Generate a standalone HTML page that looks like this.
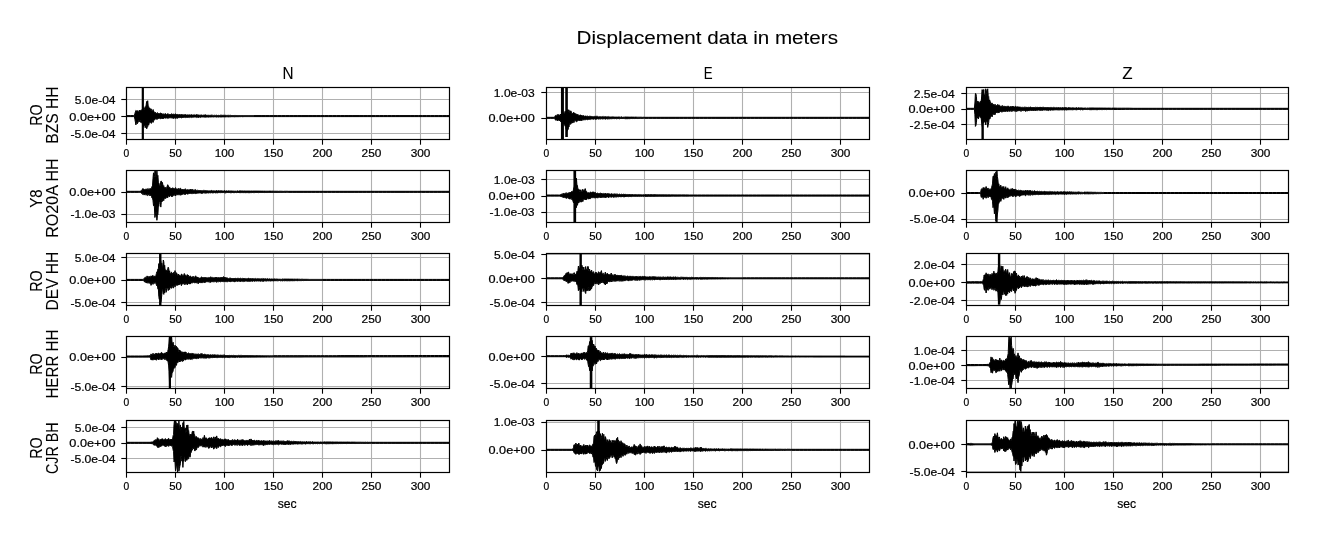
<!DOCTYPE html>
<html><head><meta charset="utf-8"><title>Displacement data in meters</title>
<style>html,body{margin:0;padding:0;background:#fff}svg{display:block}text{font-family:"Liberation Sans",sans-serif}svg{will-change:transform;filter:grayscale(1)}text{stroke:#000}.s{stroke-width:.22px}.b{stroke-width:.08px}</style></head>
<body>
<svg width="1318" height="540" viewBox="0 0 1318 540" font-family="'Liberation Sans', sans-serif" fill="#000">
<rect width="1318" height="540" fill="#fff"/>
<defs>
<clipPath id="c00"><rect x="126.50" y="87.50" width="323.00" height="52.00"/></clipPath>
<clipPath id="c01"><rect x="546.50" y="87.50" width="323.00" height="52.00"/></clipPath>
<clipPath id="c02"><rect x="966.50" y="87.50" width="322.00" height="52.00"/></clipPath>
<clipPath id="c10"><rect x="126.50" y="170.50" width="323.00" height="52.00"/></clipPath>
<clipPath id="c11"><rect x="546.50" y="170.50" width="323.00" height="52.00"/></clipPath>
<clipPath id="c12"><rect x="966.50" y="170.50" width="322.00" height="52.00"/></clipPath>
<clipPath id="c20"><rect x="126.50" y="253.50" width="323.00" height="52.00"/></clipPath>
<clipPath id="c21"><rect x="546.50" y="253.50" width="323.00" height="52.00"/></clipPath>
<clipPath id="c22"><rect x="966.50" y="253.50" width="322.00" height="52.00"/></clipPath>
<clipPath id="c30"><rect x="126.50" y="336.50" width="323.00" height="52.00"/></clipPath>
<clipPath id="c31"><rect x="546.50" y="336.50" width="323.00" height="52.00"/></clipPath>
<clipPath id="c32"><rect x="966.50" y="336.50" width="322.00" height="52.00"/></clipPath>
<clipPath id="c40"><rect x="126.50" y="420.50" width="323.00" height="52.00"/></clipPath>
<clipPath id="c41"><rect x="546.50" y="420.50" width="323.00" height="52.00"/></clipPath>
<clipPath id="c42"><rect x="966.50" y="420.50" width="322.00" height="52.00"/></clipPath>
</defs>
<text class="b" x="576.63" y="43.80" font-size="18.60" textLength="261.34" lengthAdjust="spacingAndGlyphs">Displacement data in meters</text>
<text class="b" x="282.51" y="78.90" font-size="17.17" textLength="11.05" lengthAdjust="spacingAndGlyphs">N</text>
<text class="b" x="703.64" y="78.90" font-size="17.17" textLength="8.85" lengthAdjust="spacingAndGlyphs">E</text>
<text class="b" x="1122.33" y="78.90" font-size="17.17" textLength="10.35" lengthAdjust="spacingAndGlyphs">Z</text>
<line x1="175.50" y1="87.50" x2="175.50" y2="139.50" stroke="#b0b0b0" stroke-width="1.1"/><line x1="224.50" y1="87.50" x2="224.50" y2="139.50" stroke="#b0b0b0" stroke-width="1.1"/><line x1="273.50" y1="87.50" x2="273.50" y2="139.50" stroke="#b0b0b0" stroke-width="1.1"/><line x1="322.50" y1="87.50" x2="322.50" y2="139.50" stroke="#b0b0b0" stroke-width="1.1"/><line x1="371.50" y1="87.50" x2="371.50" y2="139.50" stroke="#b0b0b0" stroke-width="1.1"/><line x1="420.50" y1="87.50" x2="420.50" y2="139.50" stroke="#b0b0b0" stroke-width="1.1"/><line x1="126.50" y1="99.50" x2="449.50" y2="99.50" stroke="#b0b0b0" stroke-width="1.1"/><line x1="126.50" y1="116.50" x2="449.50" y2="116.50" stroke="#b0b0b0" stroke-width="1.1"/><line x1="126.50" y1="133.50" x2="449.50" y2="133.50" stroke="#b0b0b0" stroke-width="1.1"/><g clip-path="url(#c00)"><path d="M126.5 115.6 130.4 115.6 133.5 115.6 134.0 115.6 134.4 115.6 134.9 113.5 135.4 111.9 135.9 110.4 136.4 110.8 136.9 112.0 137.4 110.6 137.9 112.1 138.4 112.0 138.9 111.2 139.3 110.1 139.8 111.6 140.3 110.7 140.8 110.1 141.3 109.9 141.8 110.2 142.3 110.6 142.8 110.1 143.3 107.6 143.8 109.8 144.2 109.5 144.7 108.1 145.2 106.7 145.7 107.7 146.2 104.6 146.7 101.4 147.2 104.7 147.7 100.7 148.2 106.1 148.7 106.6 149.1 110.0 149.6 107.8 150.1 108.5 150.6 110.6 151.1 108.8 151.6 110.6 152.1 111.0 152.6 111.2 153.1 109.5 153.6 112.1 154.0 111.6 154.5 112.9 155.0 113.1 155.5 112.3 156.0 113.5 156.5 113.5 157.0 112.8 157.5 112.7 158.0 113.7 158.5 113.9 158.9 113.2 159.4 113.9 159.9 114.0 160.4 112.9 160.9 113.1 161.4 113.6 161.9 113.4 162.4 114.2 162.9 114.1 163.4 114.2 163.8 113.7 164.3 114.2 164.8 114.3 165.3 113.6 165.8 113.8 166.3 114.4 166.8 114.5 167.3 114.1 167.8 113.7 168.3 113.8 168.8 114.4 169.2 114.4 169.7 114.5 170.2 114.0 170.7 114.5 171.2 114.6 171.7 113.6 172.2 114.0 172.7 114.6 173.2 114.5 173.7 113.8 174.1 114.5 174.6 114.5 175.1 114.2 175.6 113.8 176.1 114.6 176.6 114.6 177.1 114.2 177.6 114.6 178.1 114.7 178.6 114.7 179.0 114.6 179.5 114.5 180.0 114.7 180.5 114.7 181.0 114.8 181.5 114.6 182.0 114.2 182.5 114.9 183.0 114.8 183.5 114.9 183.9 114.5 184.4 114.7 184.9 115.0 185.4 114.5 185.9 114.7 186.4 115.0 186.9 115.0 187.4 114.9 187.9 114.8 188.4 114.9 188.8 115.0 189.3 114.7 189.8 115.1 190.3 115.1 190.8 115.0 191.3 114.5 191.8 115.0 192.3 115.1 192.8 115.0 193.3 115.0 193.7 115.0 194.2 114.6 194.7 115.1 195.2 115.1 195.7 115.1 196.2 114.6 196.7 114.7 197.2 115.2 197.7 114.6 198.2 114.9 198.7 115.1 199.1 115.1 199.6 115.2 200.1 115.2 200.6 115.1 201.1 114.8 201.6 115.1 202.1 115.2 202.6 115.3 203.1 114.9 203.6 115.2 204.0 115.1 204.5 115.1 205.0 114.8 205.5 114.8 206.0 115.1 206.5 115.3 207.0 115.1 207.5 115.3 208.0 115.4 208.5 115.3 208.9 115.1 209.4 115.4 209.9 114.9 210.4 115.4 210.9 115.1 211.4 115.0 211.9 115.4 212.4 115.2 212.9 115.4 213.4 115.4 213.8 115.4 214.3 115.2 214.8 115.4 215.3 115.4 215.8 115.4 216.3 115.1 216.8 115.4 217.3 115.5 217.8 115.5 218.3 115.5 218.7 115.1 219.2 115.4 219.7 115.5 220.2 115.2 220.7 115.2 221.2 115.2 221.7 115.2 222.2 115.3 222.7 115.3 223.2 115.2 223.6 115.3 224.1 115.3 224.6 115.3 225.1 115.3 225.6 115.3 226.1 115.4 226.6 115.4 227.1 115.3 227.6 115.4 228.1 115.4 228.5 115.3 229.0 115.4 229.5 115.4 230.0 115.4 230.5 115.3 231.0 115.4 231.5 115.5 232.0 115.4 232.5 115.5 233.0 115.4 233.5 115.5 233.9 115.5 234.4 115.5 234.9 115.4 235.4 115.5 235.9 115.4 236.4 115.5 236.9 115.5 237.4 115.6 237.9 115.5 238.4 115.6 238.8 115.5 239.3 115.5 239.8 115.6 240.3 115.6 240.8 115.6 241.3 115.6 241.8 115.5 242.3 115.5 242.8 115.6 243.3 115.6 243.7 115.6 244.2 115.6 244.7 115.6 245.2 115.6 245.7 115.6 246.2 115.6 246.7 115.6 247.2 115.6 247.7 115.6 248.2 115.6 248.6 115.6 249.1 115.6 249.6 115.6 250.1 115.6 250.6 115.6 251.1 115.6 251.6 115.6 252.1 115.6 252.6 115.6 253.1 115.6 253.5 115.6 254.0 115.6 258.0 115.6 261.9 115.6 265.8 115.6 269.7 115.6 273.6 115.6 277.6 115.6 281.5 115.6 285.4 115.6 289.3 115.6 293.2 115.6 297.2 115.6 301.1 115.6 305.0 115.6 308.9 115.6 312.9 115.6 316.8 115.6 320.7 115.6 324.6 115.6 328.5 115.6 332.5 115.6 336.4 115.6 340.3 115.6 344.2 115.6 348.1 115.6 352.1 115.6 356.0 115.6 359.9 115.6 363.8 115.6 367.8 115.6 371.7 115.6 375.6 115.6 379.5 115.6 383.4 115.6 387.4 115.6 391.3 115.6 395.2 115.6 399.1 115.6 403.0 115.6 407.0 115.6 410.9 115.6 414.8 115.6 418.7 115.6 422.6 115.6 426.6 115.6 430.5 115.6 434.4 115.6 438.3 115.6 442.3 115.6 446.2 115.6 449.7 115.6 449.7 116.6 446.2 116.6 442.3 116.6 438.3 116.6 434.4 116.6 430.5 116.6 426.6 116.6 422.6 116.6 418.7 116.6 414.8 116.6 410.9 116.6 407.0 116.6 403.0 116.6 399.1 116.6 395.2 116.6 391.3 116.6 387.4 116.6 383.4 116.6 379.5 116.6 375.6 116.6 371.7 116.6 367.8 116.6 363.8 116.6 359.9 116.6 356.0 116.6 352.1 116.6 348.1 116.6 344.2 116.6 340.3 116.6 336.4 116.6 332.5 116.6 328.5 116.6 324.6 116.6 320.7 116.6 316.8 116.6 312.9 116.6 308.9 116.6 305.0 116.6 301.1 116.6 297.2 116.6 293.2 116.6 289.3 116.6 285.4 116.6 281.5 116.6 277.6 116.6 273.6 116.6 269.7 116.6 265.8 116.6 261.9 116.6 258.0 116.6 254.0 116.6 253.5 116.6 253.1 116.6 252.6 116.6 252.1 116.6 251.6 116.6 251.1 116.6 250.6 116.6 250.1 116.6 249.6 116.6 249.1 116.6 248.6 116.6 248.2 116.6 247.7 116.6 247.2 116.6 246.7 116.6 246.2 116.6 245.7 116.6 245.2 116.6 244.7 116.6 244.2 116.6 243.7 116.6 243.3 116.7 242.8 116.7 242.3 116.7 241.8 116.6 241.3 116.6 240.8 116.6 240.3 116.7 239.8 116.6 239.3 116.7 238.8 116.7 238.4 116.7 237.9 116.7 237.4 116.7 236.9 116.7 236.4 116.7 235.9 116.8 235.4 116.7 234.9 116.8 234.4 116.8 233.9 116.8 233.5 116.7 233.0 116.7 232.5 116.7 232.0 116.7 231.5 116.7 231.0 116.8 230.5 116.8 230.0 116.8 229.5 116.8 229.0 116.8 228.5 116.9 228.1 116.9 227.6 116.8 227.1 116.8 226.6 116.8 226.1 116.8 225.6 116.9 225.1 116.9 224.6 116.9 224.1 116.9 223.6 116.9 223.2 116.9 222.7 116.9 222.2 116.9 221.7 117.0 221.2 117.0 220.7 117.0 220.2 117.0 219.7 116.9 219.2 116.8 218.7 116.7 218.3 117.3 217.8 116.9 217.3 116.8 216.8 116.8 216.3 117.2 215.8 116.8 215.3 116.9 214.8 116.8 214.3 116.9 213.8 117.2 213.4 116.8 212.9 116.8 212.4 116.9 211.9 117.1 211.4 116.9 210.9 117.0 210.4 117.0 209.9 116.9 209.4 117.0 208.9 117.0 208.5 117.2 208.0 116.9 207.5 117.0 207.0 116.9 206.5 117.0 206.0 117.4 205.5 117.1 205.0 117.5 204.5 117.1 204.0 117.0 203.6 117.0 203.1 117.1 202.6 117.0 202.1 117.0 201.6 117.0 201.1 117.1 200.6 117.5 200.1 117.1 199.6 117.1 199.1 117.1 198.7 117.0 198.2 117.8 197.7 117.1 197.2 117.1 196.7 117.2 196.2 117.5 195.7 117.1 195.2 117.1 194.7 117.1 194.2 117.1 193.7 117.3 193.3 117.1 192.8 117.2 192.3 117.2 191.8 117.2 191.3 117.6 190.8 117.2 190.3 117.2 189.8 117.6 189.3 117.2 188.8 117.2 188.4 117.2 187.9 117.8 187.4 117.2 186.9 117.2 186.4 117.4 185.9 117.2 185.4 117.7 184.9 117.5 184.4 117.3 183.9 117.4 183.5 117.4 183.0 117.7 182.5 117.5 182.0 117.4 181.5 118.0 181.0 118.1 180.5 117.5 180.0 117.6 179.5 117.6 179.0 117.9 178.6 117.5 178.1 117.9 177.6 118.4 177.1 117.7 176.6 118.0 176.1 117.7 175.6 118.5 175.1 117.8 174.6 118.0 174.1 117.8 173.7 118.3 173.2 118.5 172.7 117.8 172.2 118.2 171.7 118.0 171.2 117.8 170.7 117.8 170.2 117.8 169.7 117.9 169.2 117.7 168.8 117.8 168.3 118.2 167.8 118.5 167.3 117.9 166.8 117.8 166.3 118.1 165.8 118.3 165.3 118.0 164.8 117.9 164.3 117.9 163.8 118.0 163.4 118.7 162.9 118.1 162.4 119.0 161.9 118.5 161.4 118.1 160.9 118.9 160.4 118.8 159.9 118.3 159.4 118.3 158.9 118.3 158.5 118.4 158.0 119.0 157.5 118.5 157.0 119.6 156.5 118.7 156.0 119.0 155.5 118.8 155.0 119.0 154.5 120.0 154.0 120.5 153.6 120.6 153.1 122.4 152.6 121.0 152.1 121.4 151.6 123.1 151.1 123.4 150.6 122.0 150.1 122.1 149.6 122.3 149.1 123.7 148.7 125.2 148.2 123.5 147.7 126.7 147.2 127.4 146.7 128.8 146.2 125.2 145.7 125.7 145.2 127.8 144.7 125.3 144.2 125.6 143.8 125.8 143.3 126.9 142.8 125.5 142.3 123.0 141.8 121.7 141.3 122.6 140.8 122.5 140.3 120.5 139.8 120.0 139.3 121.8 138.9 120.6 138.4 121.0 137.9 122.8 137.4 123.7 136.9 122.1 136.4 122.8 135.9 124.9 135.4 122.0 134.9 119.3 134.4 116.6 134.0 116.6 133.5 116.6 130.4 116.6 126.5 116.6Z" fill="#000" stroke="#000" stroke-width="1" stroke-linejoin="round"/><rect x="141.72" y="87.50" width="2.20" height="52.00" fill="#000"/></g><line x1="126.50" y1="139.50" x2="126.50" y2="144.70" stroke="#000" stroke-width="1.1"/><text class="s" x="123.62" y="156.80" font-size="11.28" textLength="5.71" lengthAdjust="spacingAndGlyphs">0</text><line x1="175.50" y1="139.50" x2="175.50" y2="144.70" stroke="#000" stroke-width="1.1"/><text class="s" x="169.20" y="156.80" font-size="11.28" textLength="12.65" lengthAdjust="spacingAndGlyphs">50</text><line x1="224.50" y1="139.50" x2="224.50" y2="144.70" stroke="#000" stroke-width="1.1"/><text class="s" x="214.67" y="156.80" font-size="11.28" textLength="19.74" lengthAdjust="spacingAndGlyphs">100</text><line x1="273.50" y1="139.50" x2="273.50" y2="144.70" stroke="#000" stroke-width="1.1"/><text class="s" x="263.67" y="156.80" font-size="11.28" textLength="19.74" lengthAdjust="spacingAndGlyphs">150</text><line x1="322.50" y1="139.50" x2="322.50" y2="144.70" stroke="#000" stroke-width="1.1"/><text class="s" x="312.58" y="156.80" font-size="11.28" textLength="19.83" lengthAdjust="spacingAndGlyphs">200</text><line x1="371.50" y1="139.50" x2="371.50" y2="144.70" stroke="#000" stroke-width="1.1"/><text class="s" x="361.58" y="156.80" font-size="11.28" textLength="19.83" lengthAdjust="spacingAndGlyphs">250</text><line x1="420.50" y1="139.50" x2="420.50" y2="144.70" stroke="#000" stroke-width="1.1"/><text class="s" x="410.70" y="156.80" font-size="11.28" textLength="19.71" lengthAdjust="spacingAndGlyphs">300</text><line x1="121.30" y1="99.50" x2="126.50" y2="99.50" stroke="#000" stroke-width="1.1"/><text class="s" x="74.70" y="103.55" font-size="11.28" textLength="40.89" lengthAdjust="spacingAndGlyphs">5.0e-04</text><line x1="121.30" y1="116.50" x2="126.50" y2="116.50" stroke="#000" stroke-width="1.1"/><text class="s" x="69.34" y="120.55" font-size="11.28" textLength="46.21" lengthAdjust="spacingAndGlyphs">0.0e+00</text><line x1="121.30" y1="133.50" x2="126.50" y2="133.50" stroke="#000" stroke-width="1.1"/><text class="s" x="70.41" y="137.55" font-size="11.28" textLength="45.15" lengthAdjust="spacingAndGlyphs">-5.0e-04</text><rect x="126.50" y="87.50" width="323.00" height="52.00" fill="none" stroke="#000" stroke-width="1.2"/>
<line x1="595.50" y1="87.50" x2="595.50" y2="139.50" stroke="#b0b0b0" stroke-width="1.1"/><line x1="644.50" y1="87.50" x2="644.50" y2="139.50" stroke="#b0b0b0" stroke-width="1.1"/><line x1="693.50" y1="87.50" x2="693.50" y2="139.50" stroke="#b0b0b0" stroke-width="1.1"/><line x1="742.50" y1="87.50" x2="742.50" y2="139.50" stroke="#b0b0b0" stroke-width="1.1"/><line x1="791.50" y1="87.50" x2="791.50" y2="139.50" stroke="#b0b0b0" stroke-width="1.1"/><line x1="840.50" y1="87.50" x2="840.50" y2="139.50" stroke="#b0b0b0" stroke-width="1.1"/><line x1="546.50" y1="92.50" x2="869.50" y2="92.50" stroke="#b0b0b0" stroke-width="1.1"/><line x1="546.50" y1="118.50" x2="869.50" y2="118.50" stroke="#b0b0b0" stroke-width="1.1"/><g clip-path="url(#c01)"><path d="M546.5 117.3 550.4 117.3 553.9 117.3 554.3 117.3 554.8 117.0 555.3 115.6 555.8 115.5 556.3 115.8 556.8 115.7 557.3 114.5 557.8 115.5 558.3 114.5 558.8 115.8 559.2 114.7 559.7 115.5 560.2 115.3 560.7 114.0 561.2 114.8 561.7 114.5 562.2 112.3 562.7 111.9 563.2 113.6 563.7 113.6 564.1 113.2 564.6 113.2 565.1 111.2 565.6 112.5 566.1 112.1 566.6 112.3 567.1 109.5 567.6 111.8 568.1 111.7 568.6 109.9 569.0 109.8 569.5 112.2 570.0 112.3 570.5 111.1 571.0 110.8 571.5 113.2 572.0 113.2 572.5 113.5 573.0 112.7 573.5 112.5 573.9 112.5 574.4 113.3 574.9 113.0 575.4 114.7 575.9 113.7 576.4 114.9 576.9 114.2 577.4 114.8 577.9 114.3 578.4 115.4 578.8 115.3 579.3 115.5 579.8 115.0 580.3 115.1 580.8 115.1 581.3 115.5 581.8 115.0 582.3 115.9 582.8 116.1 583.3 115.5 583.8 115.8 584.2 116.3 584.7 116.2 585.2 116.1 585.7 116.1 586.2 116.3 586.7 116.3 587.2 116.2 587.7 115.9 588.2 116.5 588.7 116.5 589.1 116.2 589.6 116.3 590.1 116.6 590.6 116.1 591.1 116.1 591.6 116.7 592.1 116.7 592.6 116.2 593.1 116.7 593.6 116.7 594.0 116.7 594.5 116.3 595.0 116.8 595.5 116.3 596.0 116.4 596.5 116.3 597.0 116.6 597.5 116.2 598.0 116.8 598.5 116.9 598.9 116.9 599.4 116.8 599.9 116.6 600.4 116.9 600.9 116.4 601.4 116.9 601.9 116.9 602.4 116.5 602.9 116.9 603.4 116.9 603.8 116.4 604.3 116.8 604.8 116.9 605.3 116.4 605.8 116.9 606.3 116.9 606.8 116.8 607.3 116.7 607.8 116.9 608.3 116.9 608.7 116.5 609.2 116.9 609.7 116.9 610.2 116.9 610.7 117.0 611.2 116.8 611.7 117.1 612.2 116.7 612.7 117.0 613.2 116.9 613.7 116.9 614.1 117.1 614.6 117.0 615.1 116.9 615.6 117.1 616.1 116.9 616.6 117.1 617.1 117.1 617.6 117.1 618.1 116.7 618.6 117.1 619.0 117.1 619.5 117.0 620.0 117.2 620.5 117.2 621.0 117.2 621.5 116.9 622.0 116.8 622.5 117.3 623.0 117.2 623.5 117.3 623.9 116.8 624.4 117.2 624.9 117.2 625.4 117.0 625.9 116.9 626.4 117.0 626.9 117.0 627.4 117.0 627.9 117.1 628.4 117.1 628.8 117.0 629.3 117.1 629.8 117.1 630.3 117.1 630.8 117.1 631.3 117.0 631.8 117.1 632.3 117.1 632.8 117.1 633.3 117.1 633.7 117.1 634.2 117.1 634.7 117.2 635.2 117.1 635.7 117.1 636.2 117.2 636.7 117.1 637.2 117.2 637.7 117.2 638.2 117.2 638.6 117.2 639.1 117.2 639.6 117.2 640.1 117.2 640.6 117.2 641.1 117.3 641.6 117.2 642.1 117.3 642.6 117.3 643.1 117.3 643.5 117.2 644.0 117.3 644.5 117.3 648.5 117.3 652.4 117.3 656.3 117.3 660.2 117.3 664.1 117.3 668.1 117.3 672.0 117.3 675.9 117.3 679.8 117.3 683.7 117.3 687.7 117.3 691.6 117.3 695.5 117.3 699.4 117.3 703.3 117.3 707.3 117.3 711.2 117.3 715.1 117.3 719.0 117.3 723.0 117.3 726.9 117.3 730.8 117.3 734.7 117.3 738.6 117.3 742.6 117.3 746.5 117.3 750.4 117.3 754.3 117.3 758.2 117.3 762.2 117.3 766.1 117.3 770.0 117.3 773.9 117.3 777.9 117.3 781.8 117.3 785.7 117.3 789.6 117.3 793.5 117.3 797.5 117.3 801.4 117.3 805.3 117.3 809.2 117.3 813.1 117.3 817.1 117.3 821.0 117.3 824.9 117.3 828.8 117.3 832.7 117.3 836.7 117.3 840.6 117.3 844.5 117.3 848.4 117.3 852.4 117.3 856.3 117.3 860.2 117.3 864.1 117.3 868.0 117.3 869.7 117.3 869.7 118.3 868.0 118.3 864.1 118.3 860.2 118.3 856.3 118.3 852.4 118.3 848.4 118.3 844.5 118.3 840.6 118.3 836.7 118.3 832.7 118.3 828.8 118.3 824.9 118.3 821.0 118.3 817.1 118.3 813.1 118.3 809.2 118.3 805.3 118.3 801.4 118.3 797.5 118.3 793.5 118.3 789.6 118.3 785.7 118.3 781.8 118.3 777.9 118.3 773.9 118.3 770.0 118.3 766.1 118.3 762.2 118.3 758.2 118.3 754.3 118.3 750.4 118.3 746.5 118.3 742.6 118.3 738.6 118.3 734.7 118.3 730.8 118.3 726.9 118.3 723.0 118.3 719.0 118.3 715.1 118.3 711.2 118.3 707.3 118.3 703.3 118.3 699.4 118.3 695.5 118.3 691.6 118.3 687.7 118.3 683.7 118.3 679.8 118.3 675.9 118.3 672.0 118.3 668.1 118.3 664.1 118.3 660.2 118.3 656.3 118.3 652.4 118.3 648.5 118.3 644.5 118.3 644.0 118.3 643.5 118.3 643.1 118.3 642.6 118.4 642.1 118.4 641.6 118.4 641.1 118.4 640.6 118.3 640.1 118.4 639.6 118.4 639.1 118.4 638.6 118.5 638.2 118.4 637.7 118.5 637.2 118.5 636.7 118.4 636.2 118.5 635.7 118.5 635.2 118.5 634.7 118.5 634.2 118.6 633.7 118.5 633.3 118.5 632.8 118.6 632.3 118.5 631.8 118.5 631.3 118.5 630.8 118.6 630.3 118.5 629.8 118.6 629.3 118.7 628.8 118.7 628.4 118.6 627.9 118.7 627.4 118.7 626.9 118.7 626.4 118.7 625.9 118.7 625.4 118.7 624.9 118.4 624.4 118.6 623.9 118.5 623.5 118.4 623.0 118.7 622.5 118.5 622.0 118.5 621.5 118.5 621.0 118.5 620.5 118.5 620.0 118.5 619.5 118.8 619.0 118.5 618.6 118.5 618.1 118.7 617.6 118.6 617.1 118.6 616.6 118.8 616.1 118.6 615.6 118.5 615.1 118.6 614.6 118.6 614.1 118.8 613.7 118.6 613.2 118.6 612.7 118.6 612.2 118.7 611.7 118.8 611.2 118.6 610.7 118.6 610.2 118.7 609.7 119.2 609.2 118.6 608.7 118.7 608.3 118.6 607.8 119.3 607.3 118.7 606.8 118.7 606.3 118.7 605.8 119.0 605.3 119.2 604.8 118.8 604.3 118.8 603.8 119.0 603.4 118.7 602.9 118.8 602.4 119.0 601.9 118.8 601.4 118.7 600.9 118.7 600.4 119.1 599.9 118.7 599.4 118.8 598.9 119.3 598.5 118.9 598.0 118.8 597.5 118.7 597.0 118.9 596.5 119.2 596.0 118.8 595.5 119.4 595.0 119.1 594.5 118.8 594.0 119.0 593.6 119.3 593.1 119.1 592.6 118.9 592.1 119.2 591.6 119.0 591.1 119.0 590.6 119.0 590.1 119.7 589.6 119.3 589.1 119.2 588.7 119.2 588.2 119.7 587.7 120.0 587.2 119.3 586.7 119.3 586.2 119.6 585.7 120.0 585.2 119.4 584.7 119.6 584.2 119.6 583.8 120.2 583.3 119.7 582.8 119.6 582.3 120.2 581.8 120.8 581.3 119.9 580.8 120.7 580.3 120.0 579.8 120.2 579.3 120.9 578.8 120.3 578.4 120.3 577.9 120.5 577.4 121.2 576.9 121.6 576.4 121.8 575.9 120.7 575.4 120.8 574.9 120.8 574.4 121.1 573.9 122.7 573.5 121.3 573.0 121.5 572.5 123.1 572.0 122.0 571.5 122.0 571.0 124.1 570.5 124.3 570.0 123.3 569.5 123.5 569.0 126.9 568.6 126.0 568.1 129.5 567.6 127.6 567.1 131.2 566.6 126.2 566.1 129.3 565.6 124.2 565.1 126.2 564.6 124.0 564.1 124.2 563.7 124.0 563.2 123.7 562.7 123.5 562.2 124.7 561.7 122.7 561.2 120.7 560.7 121.7 560.2 120.7 559.7 119.9 559.2 120.9 558.8 120.0 558.3 119.9 557.8 120.0 557.3 120.9 556.8 120.0 556.3 119.7 555.8 120.2 555.3 119.9 554.8 118.7 554.3 118.3 553.9 118.3 550.4 118.3 546.5 118.3Z" fill="#000" stroke="#000" stroke-width="1" stroke-linejoin="round"/><rect x="560.93" y="87.50" width="3.00" height="52.00" fill="#000"/><rect x="565.25" y="87.50" width="2.60" height="49.50" fill="#000"/></g><line x1="546.50" y1="139.50" x2="546.50" y2="144.70" stroke="#000" stroke-width="1.1"/><text class="s" x="543.62" y="156.80" font-size="11.28" textLength="5.71" lengthAdjust="spacingAndGlyphs">0</text><line x1="595.50" y1="139.50" x2="595.50" y2="144.70" stroke="#000" stroke-width="1.1"/><text class="s" x="589.20" y="156.80" font-size="11.28" textLength="12.65" lengthAdjust="spacingAndGlyphs">50</text><line x1="644.50" y1="139.50" x2="644.50" y2="144.70" stroke="#000" stroke-width="1.1"/><text class="s" x="634.67" y="156.80" font-size="11.28" textLength="19.74" lengthAdjust="spacingAndGlyphs">100</text><line x1="693.50" y1="139.50" x2="693.50" y2="144.70" stroke="#000" stroke-width="1.1"/><text class="s" x="683.67" y="156.80" font-size="11.28" textLength="19.74" lengthAdjust="spacingAndGlyphs">150</text><line x1="742.50" y1="139.50" x2="742.50" y2="144.70" stroke="#000" stroke-width="1.1"/><text class="s" x="732.58" y="156.80" font-size="11.28" textLength="19.83" lengthAdjust="spacingAndGlyphs">200</text><line x1="791.50" y1="139.50" x2="791.50" y2="144.70" stroke="#000" stroke-width="1.1"/><text class="s" x="781.58" y="156.80" font-size="11.28" textLength="19.83" lengthAdjust="spacingAndGlyphs">250</text><line x1="840.50" y1="139.50" x2="840.50" y2="144.70" stroke="#000" stroke-width="1.1"/><text class="s" x="830.70" y="156.80" font-size="11.28" textLength="19.71" lengthAdjust="spacingAndGlyphs">300</text><line x1="541.30" y1="92.50" x2="546.50" y2="92.50" stroke="#000" stroke-width="1.1"/><text class="s" x="493.87" y="96.55" font-size="11.28" textLength="40.77" lengthAdjust="spacingAndGlyphs">1.0e-03</text><line x1="541.30" y1="118.50" x2="546.50" y2="118.50" stroke="#000" stroke-width="1.1"/><text class="s" x="488.54" y="121.75" font-size="11.28" textLength="46.21" lengthAdjust="spacingAndGlyphs">0.0e+00</text><rect x="546.50" y="87.50" width="323.00" height="52.00" fill="none" stroke="#000" stroke-width="1.2"/>
<line x1="1015.50" y1="87.50" x2="1015.50" y2="139.50" stroke="#b0b0b0" stroke-width="1.1"/><line x1="1064.50" y1="87.50" x2="1064.50" y2="139.50" stroke="#b0b0b0" stroke-width="1.1"/><line x1="1113.50" y1="87.50" x2="1113.50" y2="139.50" stroke="#b0b0b0" stroke-width="1.1"/><line x1="1162.50" y1="87.50" x2="1162.50" y2="139.50" stroke="#b0b0b0" stroke-width="1.1"/><line x1="1211.50" y1="87.50" x2="1211.50" y2="139.50" stroke="#b0b0b0" stroke-width="1.1"/><line x1="1260.50" y1="87.50" x2="1260.50" y2="139.50" stroke="#b0b0b0" stroke-width="1.1"/><line x1="966.50" y1="93.50" x2="1288.50" y2="93.50" stroke="#b0b0b0" stroke-width="1.1"/><line x1="966.50" y1="109.50" x2="1288.50" y2="109.50" stroke="#b0b0b0" stroke-width="1.1"/><line x1="966.50" y1="124.50" x2="1288.50" y2="124.50" stroke="#b0b0b0" stroke-width="1.1"/><g clip-path="url(#c02)"><path d="M966.5 108.3 970.4 108.3 973.5 108.3 974.0 108.3 974.4 108.3 974.9 103.0 975.4 93.6 975.9 93.6 976.4 96.6 976.9 103.5 977.4 101.2 977.9 102.9 978.4 101.5 978.9 102.3 979.3 103.3 979.8 102.5 980.3 101.3 980.8 102.5 981.3 100.0 981.8 96.1 982.3 91.9 982.8 94.5 983.3 95.0 983.8 89.6 984.2 96.8 984.7 94.6 985.2 96.6 985.7 88.8 986.2 90.0 986.7 93.4 987.2 93.8 987.7 88.8 988.2 95.5 988.7 96.5 989.1 101.8 989.6 99.9 990.1 101.2 990.6 103.3 991.1 103.8 991.6 103.1 992.1 102.9 992.6 104.6 993.1 104.1 993.6 104.5 994.0 105.1 994.5 105.3 995.0 104.2 995.5 105.0 996.0 105.6 996.5 105.7 997.0 105.6 997.5 104.5 998.0 105.2 998.5 105.8 998.9 104.7 999.4 105.6 999.9 105.9 1000.4 106.2 1000.9 106.3 1001.4 106.6 1001.9 105.7 1002.4 105.6 1002.9 106.4 1003.4 106.4 1003.8 106.5 1004.3 105.9 1004.8 106.6 1005.3 106.5 1005.8 106.5 1006.3 106.4 1006.8 106.8 1007.3 106.7 1007.8 105.9 1008.3 106.0 1008.8 106.8 1009.2 106.9 1009.7 106.9 1010.2 106.9 1010.7 106.3 1011.2 106.9 1011.7 106.7 1012.2 106.1 1012.7 107.0 1013.2 106.2 1013.7 106.9 1014.1 107.0 1014.6 107.1 1015.1 106.4 1015.6 106.2 1016.1 107.1 1016.6 107.0 1017.1 107.1 1017.6 106.7 1018.1 106.7 1018.6 107.1 1019.0 107.1 1019.5 107.1 1020.0 107.1 1020.5 107.2 1021.0 107.3 1021.5 107.4 1022.0 107.4 1022.5 107.3 1023.0 107.4 1023.5 107.4 1023.9 107.4 1024.4 107.1 1024.9 107.4 1025.4 107.0 1025.9 107.5 1026.4 107.5 1026.9 107.1 1027.4 107.5 1027.9 107.4 1028.4 107.4 1028.8 106.9 1029.3 107.5 1029.8 107.5 1030.3 107.1 1030.8 107.1 1031.3 107.4 1031.8 107.6 1032.3 107.0 1032.8 107.5 1033.3 107.5 1033.7 107.0 1034.2 107.5 1034.7 107.6 1035.2 107.5 1035.7 107.2 1036.2 107.5 1036.7 107.5 1037.2 106.9 1037.7 107.5 1038.2 107.5 1038.7 107.5 1039.1 107.0 1039.6 107.5 1040.1 106.9 1040.6 107.6 1041.1 107.0 1041.6 107.5 1042.1 107.5 1042.6 106.9 1043.1 107.5 1043.6 107.3 1044.0 107.5 1044.5 107.6 1045.0 107.6 1045.5 107.6 1046.0 107.2 1046.5 107.6 1047.0 107.7 1047.5 107.6 1048.0 107.1 1048.5 107.7 1048.9 107.7 1049.4 107.2 1049.9 107.7 1050.4 107.7 1050.9 107.3 1051.4 107.7 1051.9 107.3 1052.4 107.7 1052.9 107.7 1053.4 107.3 1053.8 107.7 1054.3 107.7 1054.8 107.4 1055.3 107.7 1055.8 107.8 1056.3 107.7 1056.8 107.5 1057.3 107.8 1057.8 107.8 1058.3 107.3 1058.7 107.8 1059.2 107.8 1059.7 107.8 1060.2 107.8 1060.7 107.6 1061.2 107.9 1061.7 107.8 1062.2 107.9 1062.7 107.3 1063.2 107.9 1063.6 107.8 1064.1 107.7 1064.6 107.5 1065.1 107.4 1065.6 107.6 1066.1 107.9 1066.6 107.6 1067.1 107.9 1067.6 108.0 1068.1 107.9 1068.5 107.4 1069.0 108.0 1069.5 107.7 1070.0 107.8 1070.5 107.9 1071.0 107.6 1071.5 108.0 1072.0 107.9 1072.5 107.8 1073.0 107.7 1073.5 107.9 1073.9 107.8 1074.4 108.0 1074.9 108.0 1075.4 108.0 1075.9 108.1 1076.4 107.5 1076.9 108.0 1077.4 108.1 1077.9 108.1 1078.4 108.0 1078.8 107.5 1079.3 108.1 1079.8 108.1 1080.3 108.1 1080.8 107.7 1081.3 107.8 1081.8 108.1 1082.3 108.1 1082.8 107.9 1083.3 108.1 1083.7 108.1 1084.2 108.0 1084.7 108.1 1085.2 108.2 1085.7 107.9 1086.2 108.2 1086.7 108.2 1087.2 108.2 1087.7 107.9 1088.2 107.9 1088.6 108.2 1089.1 108.2 1089.6 107.9 1090.1 108.0 1090.6 107.9 1091.1 107.9 1091.6 107.9 1092.1 107.9 1092.6 107.9 1093.1 108.0 1093.5 107.9 1094.0 107.9 1094.5 108.0 1095.0 108.0 1095.5 108.0 1096.0 108.0 1096.5 108.0 1097.0 108.0 1097.5 108.0 1098.0 108.0 1098.4 108.0 1098.9 108.0 1099.4 108.0 1099.9 107.9 1100.4 108.0 1100.9 108.0 1101.4 108.0 1101.9 108.0 1102.4 108.0 1102.9 108.1 1103.3 108.1 1103.8 108.0 1104.3 108.0 1104.8 108.1 1105.3 108.1 1105.8 108.0 1106.3 108.1 1106.8 108.1 1107.3 108.1 1107.8 108.1 1108.3 108.0 1108.7 108.1 1109.2 108.1 1109.7 108.1 1110.2 108.2 1110.7 108.1 1111.2 108.2 1111.7 108.2 1112.2 108.1 1112.7 108.1 1113.2 108.2 1113.6 108.1 1117.6 108.2 1121.5 108.2 1125.4 108.2 1129.3 108.2 1133.2 108.3 1137.2 108.3 1141.1 108.3 1145.0 108.3 1148.9 108.3 1152.9 108.3 1156.8 108.3 1160.7 108.3 1164.6 108.3 1168.5 108.3 1172.5 108.3 1176.4 108.3 1180.3 108.3 1184.2 108.3 1188.1 108.3 1192.1 108.3 1196.0 108.3 1199.9 108.3 1203.8 108.3 1207.8 108.3 1211.7 108.3 1215.6 108.3 1219.5 108.3 1223.4 108.3 1227.4 108.3 1231.3 108.3 1235.2 108.3 1239.1 108.3 1243.0 108.3 1247.0 108.3 1250.9 108.3 1254.8 108.3 1258.7 108.3 1262.6 108.3 1266.6 108.3 1270.5 108.3 1274.4 108.3 1278.3 108.3 1282.3 108.3 1286.2 108.3 1289.7 108.3 1289.7 109.3 1286.2 109.3 1282.3 109.3 1278.3 109.3 1274.4 109.3 1270.5 109.3 1266.6 109.3 1262.6 109.3 1258.7 109.3 1254.8 109.3 1250.9 109.3 1247.0 109.3 1243.0 109.3 1239.1 109.3 1235.2 109.3 1231.3 109.3 1227.4 109.3 1223.4 109.3 1219.5 109.3 1215.6 109.3 1211.7 109.3 1207.8 109.3 1203.8 109.3 1199.9 109.3 1196.0 109.3 1192.1 109.3 1188.1 109.3 1184.2 109.3 1180.3 109.3 1176.4 109.3 1172.5 109.3 1168.5 109.3 1164.6 109.3 1160.7 109.3 1156.8 109.3 1152.9 109.3 1148.9 109.3 1145.0 109.3 1141.1 109.3 1137.2 109.3 1133.2 109.3 1129.3 109.3 1125.4 109.3 1121.5 109.4 1117.6 109.4 1113.6 109.5 1113.2 109.4 1112.7 109.5 1112.2 109.4 1111.7 109.5 1111.2 109.4 1110.7 109.5 1110.2 109.5 1109.7 109.5 1109.2 109.5 1108.7 109.4 1108.3 109.5 1107.8 109.5 1107.3 109.4 1106.8 109.6 1106.3 109.6 1105.8 109.5 1105.3 109.5 1104.8 109.6 1104.3 109.5 1103.8 109.5 1103.3 109.5 1102.9 109.6 1102.4 109.6 1101.9 109.6 1101.4 109.6 1100.9 109.6 1100.4 109.5 1099.9 109.5 1099.4 109.6 1098.9 109.6 1098.4 109.5 1098.0 109.7 1097.5 109.7 1097.0 109.7 1096.5 109.7 1096.0 109.6 1095.5 109.6 1095.0 109.6 1094.5 109.6 1094.0 109.7 1093.5 109.6 1093.1 109.7 1092.6 109.6 1092.1 109.7 1091.6 109.7 1091.1 109.7 1090.6 109.7 1090.1 109.7 1089.6 109.7 1089.1 109.4 1088.6 109.4 1088.2 109.4 1087.7 109.6 1087.2 109.4 1086.7 109.5 1086.2 109.5 1085.7 109.5 1085.2 109.5 1084.7 109.4 1084.2 109.4 1083.7 109.7 1083.3 109.5 1082.8 109.9 1082.3 109.7 1081.8 109.5 1081.3 109.5 1080.8 109.6 1080.3 109.9 1079.8 109.5 1079.3 109.5 1078.8 109.5 1078.4 110.0 1077.9 109.5 1077.4 109.6 1076.9 109.5 1076.4 109.9 1075.9 109.9 1075.4 109.6 1074.9 109.6 1074.4 109.6 1073.9 109.9 1073.5 109.6 1073.0 109.9 1072.5 109.8 1072.0 109.6 1071.5 109.7 1071.0 109.7 1070.5 109.7 1070.0 109.6 1069.5 109.7 1069.0 109.7 1068.5 109.7 1068.1 109.9 1067.6 109.7 1067.1 109.9 1066.6 110.2 1066.1 109.7 1065.6 109.7 1065.1 109.9 1064.6 110.2 1064.1 109.7 1063.6 109.7 1063.2 110.1 1062.7 109.9 1062.2 109.7 1061.7 110.2 1061.2 109.7 1060.7 109.8 1060.2 109.8 1059.7 110.0 1059.2 109.8 1058.7 109.8 1058.3 110.1 1057.8 109.8 1057.3 110.0 1056.8 109.9 1056.3 109.8 1055.8 109.9 1055.3 109.8 1054.8 110.0 1054.3 109.8 1053.8 109.9 1053.4 110.1 1052.9 110.2 1052.4 110.0 1051.9 110.0 1051.4 109.9 1050.9 110.3 1050.4 110.3 1049.9 110.0 1049.4 110.0 1048.9 110.0 1048.5 110.6 1048.0 110.2 1047.5 110.0 1047.0 110.6 1046.5 110.1 1046.0 110.0 1045.5 110.0 1045.0 110.1 1044.5 110.1 1044.0 110.0 1043.6 110.0 1043.1 110.0 1042.6 110.5 1042.1 110.1 1041.6 110.0 1041.1 110.6 1040.6 110.0 1040.1 110.6 1039.6 110.1 1039.1 110.4 1038.7 110.1 1038.2 110.1 1037.7 110.2 1037.2 110.5 1036.7 110.2 1036.2 110.2 1035.7 110.9 1035.2 110.2 1034.7 110.2 1034.2 110.4 1033.7 110.9 1033.3 110.2 1032.8 110.4 1032.3 110.3 1031.8 110.9 1031.3 110.3 1030.8 110.4 1030.3 110.3 1029.8 110.6 1029.3 110.5 1028.8 110.4 1028.4 111.0 1027.9 110.4 1027.4 111.2 1026.9 110.5 1026.4 110.5 1025.9 111.5 1025.4 111.2 1024.9 110.5 1024.4 110.4 1023.9 110.5 1023.5 111.1 1023.0 110.5 1022.5 110.5 1022.0 110.6 1021.5 110.6 1021.0 111.5 1020.5 110.6 1020.0 110.7 1019.5 110.6 1019.0 110.9 1018.6 110.7 1018.1 110.7 1017.6 110.9 1017.1 110.9 1016.6 111.5 1016.1 110.6 1015.6 111.4 1015.1 110.6 1014.6 111.3 1014.1 110.6 1013.7 110.7 1013.2 110.8 1012.7 111.2 1012.2 110.8 1011.7 110.8 1011.2 111.6 1010.7 110.8 1010.2 110.8 1009.7 111.4 1009.2 111.0 1008.8 110.8 1008.3 110.9 1007.8 111.7 1007.3 111.0 1006.8 111.0 1006.3 111.0 1005.8 111.7 1005.3 111.2 1004.8 111.3 1004.3 111.8 1003.8 111.3 1003.4 111.5 1002.9 111.5 1002.4 111.6 1001.9 112.3 1001.4 111.4 1000.9 111.5 1000.4 111.5 999.9 112.1 999.4 111.8 998.9 113.0 998.5 112.4 998.0 112.2 997.5 113.1 997.0 112.6 996.5 112.5 996.0 112.9 995.5 113.1 995.0 114.9 994.5 114.4 994.0 113.6 993.6 114.5 993.1 114.2 992.6 114.3 992.1 116.9 991.6 114.9 991.1 116.3 990.6 115.3 990.1 118.8 989.6 119.1 989.1 117.8 988.7 122.7 988.2 124.9 987.7 127.4 987.2 122.5 986.7 121.5 986.2 120.8 985.7 124.9 985.2 120.0 984.7 121.9 984.2 118.8 983.8 123.2 983.3 120.4 982.8 122.4 982.3 126.5 981.8 123.0 981.3 119.4 980.8 115.9 980.3 117.6 979.8 116.4 979.3 116.0 978.9 116.5 978.4 119.0 977.9 116.5 977.4 118.1 976.9 116.7 976.4 122.7 975.9 125.5 975.4 126.4 974.9 114.8 974.4 109.3 974.0 109.3 973.5 109.3 970.4 109.3 966.5 109.3Z" fill="#000" stroke="#000" stroke-width="1" stroke-linejoin="round"/><rect x="981.43" y="89.50" width="2.40" height="50.00" fill="#000"/></g><line x1="966.50" y1="139.50" x2="966.50" y2="144.70" stroke="#000" stroke-width="1.1"/><text class="s" x="963.62" y="156.80" font-size="11.28" textLength="5.71" lengthAdjust="spacingAndGlyphs">0</text><line x1="1015.50" y1="139.50" x2="1015.50" y2="144.70" stroke="#000" stroke-width="1.1"/><text class="s" x="1009.20" y="156.80" font-size="11.28" textLength="12.65" lengthAdjust="spacingAndGlyphs">50</text><line x1="1064.50" y1="139.50" x2="1064.50" y2="144.70" stroke="#000" stroke-width="1.1"/><text class="s" x="1054.67" y="156.80" font-size="11.28" textLength="19.74" lengthAdjust="spacingAndGlyphs">100</text><line x1="1113.50" y1="139.50" x2="1113.50" y2="144.70" stroke="#000" stroke-width="1.1"/><text class="s" x="1103.67" y="156.80" font-size="11.28" textLength="19.74" lengthAdjust="spacingAndGlyphs">150</text><line x1="1162.50" y1="139.50" x2="1162.50" y2="144.70" stroke="#000" stroke-width="1.1"/><text class="s" x="1152.58" y="156.80" font-size="11.28" textLength="19.83" lengthAdjust="spacingAndGlyphs">200</text><line x1="1211.50" y1="139.50" x2="1211.50" y2="144.70" stroke="#000" stroke-width="1.1"/><text class="s" x="1201.58" y="156.80" font-size="11.28" textLength="19.83" lengthAdjust="spacingAndGlyphs">250</text><line x1="1260.50" y1="139.50" x2="1260.50" y2="144.70" stroke="#000" stroke-width="1.1"/><text class="s" x="1250.70" y="156.80" font-size="11.28" textLength="19.71" lengthAdjust="spacingAndGlyphs">300</text><line x1="961.30" y1="93.50" x2="966.50" y2="93.50" stroke="#000" stroke-width="1.1"/><text class="s" x="913.78" y="97.55" font-size="11.28" textLength="41.01" lengthAdjust="spacingAndGlyphs">2.5e-04</text><line x1="961.30" y1="109.50" x2="966.50" y2="109.50" stroke="#000" stroke-width="1.1"/><text class="s" x="908.54" y="112.75" font-size="11.28" textLength="46.21" lengthAdjust="spacingAndGlyphs">0.0e+00</text><line x1="961.30" y1="124.50" x2="966.50" y2="124.50" stroke="#000" stroke-width="1.1"/><text class="s" x="909.61" y="128.55" font-size="11.28" textLength="45.15" lengthAdjust="spacingAndGlyphs">-2.5e-04</text><rect x="966.50" y="87.50" width="322.00" height="52.00" fill="none" stroke="#000" stroke-width="1.2"/>
<line x1="175.50" y1="170.50" x2="175.50" y2="222.50" stroke="#b0b0b0" stroke-width="1.1"/><line x1="224.50" y1="170.50" x2="224.50" y2="222.50" stroke="#b0b0b0" stroke-width="1.1"/><line x1="273.50" y1="170.50" x2="273.50" y2="222.50" stroke="#b0b0b0" stroke-width="1.1"/><line x1="322.50" y1="170.50" x2="322.50" y2="222.50" stroke="#b0b0b0" stroke-width="1.1"/><line x1="371.50" y1="170.50" x2="371.50" y2="222.50" stroke="#b0b0b0" stroke-width="1.1"/><line x1="420.50" y1="170.50" x2="420.50" y2="222.50" stroke="#b0b0b0" stroke-width="1.1"/><line x1="126.50" y1="192.50" x2="449.50" y2="192.50" stroke="#b0b0b0" stroke-width="1.1"/><line x1="126.50" y1="214.50" x2="449.50" y2="214.50" stroke="#b0b0b0" stroke-width="1.1"/><g clip-path="url(#c10)"><path d="M126.5 191.3 130.4 191.3 134.3 191.3 138.3 191.3 139.7 191.3 140.2 191.3 140.7 190.9 141.2 190.6 141.7 190.2 142.2 190.2 142.7 188.6 143.2 188.8 143.7 189.0 144.1 189.6 144.6 189.7 145.1 189.4 145.6 189.4 146.1 188.8 146.6 189.8 147.1 189.7 147.6 188.8 148.1 188.4 148.6 189.7 149.0 189.4 149.5 189.5 150.0 188.3 150.5 189.1 151.0 188.7 151.5 187.8 152.0 186.3 152.5 185.9 153.0 178.2 153.5 172.8 153.9 176.2 154.4 176.4 154.9 171.0 155.4 171.1 155.9 176.9 156.4 176.9 156.9 170.2 157.4 177.6 157.9 175.4 158.4 182.6 158.8 182.8 159.3 184.4 159.8 185.6 160.3 185.2 160.8 181.4 161.3 180.9 161.8 184.7 162.3 182.3 162.8 184.4 163.3 186.4 163.8 185.7 164.2 188.0 164.7 187.6 165.2 188.2 165.7 187.3 166.2 188.4 166.7 187.4 167.2 186.2 167.7 184.7 168.2 185.4 168.7 187.6 169.1 187.7 169.6 186.9 170.1 188.1 170.6 188.8 171.1 188.6 171.6 188.1 172.1 188.8 172.6 187.7 173.1 189.0 173.6 188.3 174.0 188.5 174.5 188.9 175.0 188.2 175.5 187.6 176.0 188.9 176.5 189.1 177.0 188.7 177.5 189.1 178.0 189.3 178.5 188.4 178.9 189.2 179.4 189.2 179.9 188.4 180.4 188.2 180.9 188.8 181.4 189.4 181.9 189.5 182.4 189.6 182.9 189.0 183.4 189.5 183.8 189.7 184.3 189.6 184.8 189.6 185.3 188.7 185.8 189.6 186.3 189.9 186.8 189.9 187.3 189.9 187.8 189.4 188.3 190.0 188.7 189.9 189.2 190.0 189.7 190.0 190.2 189.1 190.7 190.0 191.2 189.7 191.7 189.5 192.2 190.2 192.7 189.3 193.2 189.8 193.7 190.3 194.1 190.4 194.6 189.8 195.1 189.5 195.6 189.7 196.1 190.4 196.6 190.4 197.1 190.4 197.6 190.2 198.1 190.2 198.6 190.6 199.0 190.5 199.5 190.5 200.0 190.6 200.5 190.6 201.0 190.6 201.5 190.7 202.0 190.5 202.5 190.7 203.0 190.7 203.5 190.4 203.9 190.4 204.4 190.8 204.9 190.2 205.4 190.6 205.9 190.7 206.4 190.6 206.9 190.9 207.4 190.7 207.9 190.8 208.4 190.9 208.8 190.8 209.3 190.8 209.8 190.9 210.3 190.9 210.8 190.8 211.3 190.3 211.8 190.6 212.3 190.9 212.8 190.8 213.3 190.9 213.7 190.7 214.2 191.0 214.7 190.8 215.2 190.9 215.7 190.9 216.2 190.9 216.7 190.3 217.2 191.0 217.7 191.0 218.2 191.0 218.6 190.5 219.1 191.0 219.6 191.0 220.1 190.5 220.6 191.0 221.1 191.1 221.6 190.8 222.1 190.6 222.6 191.1 223.1 191.1 223.5 191.1 224.0 190.6 224.5 190.7 225.0 191.1 225.5 191.1 226.0 191.1 226.5 190.8 227.0 191.1 227.5 191.1 228.0 191.1 228.5 191.1 228.9 190.6 229.4 191.1 229.9 191.2 230.4 191.1 230.9 190.8 231.4 190.9 231.9 191.1 232.4 191.1 232.9 190.9 233.4 191.0 233.8 191.2 234.3 191.2 234.8 191.1 235.3 191.1 235.8 191.2 236.3 191.2 236.8 191.2 237.3 190.9 237.8 190.8 238.3 191.2 238.7 191.1 239.2 190.8 239.7 190.9 240.2 190.9 240.7 190.8 241.2 190.9 241.7 190.9 242.2 190.9 242.7 190.9 243.2 191.0 243.6 191.0 244.1 191.0 244.6 190.9 245.1 191.0 245.6 191.0 246.1 191.0 246.6 191.0 247.1 190.9 247.6 191.0 248.1 190.9 248.5 191.0 249.0 190.9 249.5 191.0 250.0 191.0 250.5 191.1 251.0 191.1 251.5 191.0 252.0 191.0 252.5 191.1 253.0 191.0 253.4 191.0 253.9 191.0 254.4 191.0 254.9 191.0 255.4 191.0 255.9 191.0 256.4 191.0 256.9 191.0 257.4 191.0 257.9 191.1 258.4 191.0 258.8 191.1 259.3 191.1 259.8 191.0 260.3 191.1 260.8 191.0 261.3 191.1 261.8 191.1 262.3 191.1 262.8 191.1 263.3 191.2 263.7 191.1 264.2 191.1 264.7 191.1 265.2 191.1 265.7 191.2 266.2 191.1 266.7 191.2 267.2 191.1 267.7 191.2 268.2 191.1 268.6 191.2 269.1 191.1 269.6 191.1 270.1 191.1 270.6 191.1 271.1 191.1 271.6 191.2 272.1 191.2 272.6 191.1 273.1 191.2 273.5 191.2 274.0 191.2 274.5 191.2 275.0 191.2 275.5 191.2 276.0 191.1 276.5 191.2 277.0 191.2 277.5 191.2 278.0 191.2 278.4 191.3 278.9 191.2 279.4 191.2 279.9 191.2 280.4 191.2 280.9 191.2 281.4 191.2 281.9 191.3 282.4 191.3 282.9 191.2 283.3 191.3 283.8 191.3 284.3 191.2 284.8 191.3 285.3 191.2 285.8 191.3 286.3 191.2 286.8 191.3 287.3 191.3 287.8 191.2 288.2 191.3 292.2 191.3 296.1 191.3 300.0 191.3 303.9 191.3 307.9 191.3 311.8 191.3 315.7 191.3 319.6 191.3 323.5 191.3 327.5 191.3 331.4 191.3 335.3 191.3 339.2 191.3 343.1 191.3 347.1 191.3 351.0 191.3 354.9 191.3 358.8 191.3 362.8 191.3 366.7 191.3 370.6 191.3 374.5 191.3 378.4 191.3 382.4 191.3 386.3 191.3 390.2 191.3 394.1 191.3 398.0 191.3 402.0 191.3 405.9 191.3 409.8 191.3 413.7 191.3 417.6 191.3 421.6 191.3 425.5 191.3 429.4 191.3 433.3 191.3 437.3 191.3 441.2 191.3 445.1 191.3 449.0 191.3 449.7 191.3 449.7 192.3 449.0 192.3 445.1 192.3 441.2 192.3 437.3 192.3 433.3 192.3 429.4 192.3 425.5 192.3 421.6 192.3 417.6 192.3 413.7 192.3 409.8 192.3 405.9 192.3 402.0 192.3 398.0 192.3 394.1 192.3 390.2 192.3 386.3 192.3 382.4 192.3 378.4 192.3 374.5 192.3 370.6 192.3 366.7 192.3 362.8 192.3 358.8 192.3 354.9 192.3 351.0 192.3 347.1 192.3 343.1 192.3 339.2 192.3 335.3 192.3 331.4 192.3 327.5 192.3 323.5 192.3 319.6 192.3 315.7 192.3 311.8 192.3 307.9 192.3 303.9 192.3 300.0 192.3 296.1 192.3 292.2 192.3 288.2 192.3 287.8 192.3 287.3 192.3 286.8 192.3 286.3 192.3 285.8 192.4 285.3 192.4 284.8 192.4 284.3 192.3 283.8 192.3 283.3 192.4 282.9 192.3 282.4 192.4 281.9 192.4 281.4 192.4 280.9 192.3 280.4 192.4 279.9 192.4 279.4 192.4 278.9 192.4 278.4 192.4 278.0 192.4 277.5 192.4 277.0 192.4 276.5 192.5 276.0 192.4 275.5 192.4 275.0 192.4 274.5 192.4 274.0 192.4 273.5 192.4 273.1 192.4 272.6 192.4 272.1 192.5 271.6 192.4 271.1 192.5 270.6 192.5 270.1 192.4 269.6 192.4 269.1 192.4 268.6 192.4 268.2 192.4 267.7 192.5 267.2 192.4 266.7 192.5 266.2 192.5 265.7 192.5 265.2 192.5 264.7 192.5 264.2 192.6 263.7 192.5 263.3 192.5 262.8 192.5 262.3 192.5 261.8 192.5 261.3 192.5 260.8 192.5 260.3 192.5 259.8 192.5 259.3 192.5 258.8 192.6 258.4 192.6 257.9 192.5 257.4 192.5 256.9 192.5 256.4 192.5 255.9 192.5 255.4 192.5 254.9 192.6 254.4 192.6 253.9 192.6 253.4 192.6 253.0 192.5 252.5 192.5 252.0 192.6 251.5 192.6 251.0 192.5 250.5 192.6 250.0 192.6 249.5 192.7 249.0 192.7 248.5 192.7 248.1 192.6 247.6 192.6 247.1 192.6 246.6 192.6 246.1 192.7 245.6 192.7 245.1 192.6 244.6 192.6 244.1 192.6 243.6 192.6 243.2 192.7 242.7 192.6 242.2 192.6 241.7 192.6 241.2 192.6 240.7 192.7 240.2 192.6 239.7 192.7 239.2 192.4 238.7 192.9 238.3 192.4 237.8 192.4 237.3 192.5 236.8 192.7 236.3 192.5 235.8 192.4 235.3 192.5 234.8 192.9 234.3 192.4 233.8 192.5 233.4 192.9 232.9 192.4 232.4 192.5 231.9 192.5 231.4 192.7 230.9 192.4 230.4 192.8 229.9 192.7 229.4 192.5 228.9 192.7 228.5 192.5 228.0 192.5 227.5 192.5 227.0 192.5 226.5 192.6 226.0 192.5 225.5 192.9 225.0 192.5 224.5 193.0 224.0 192.6 223.5 192.5 223.1 192.6 222.6 192.5 222.1 192.8 221.6 192.6 221.1 192.5 220.6 192.6 220.1 192.8 219.6 192.6 219.1 192.6 218.6 192.6 218.2 192.7 217.7 192.9 217.2 192.7 216.7 192.6 216.2 193.0 215.7 193.0 215.2 192.7 214.7 192.6 214.2 192.7 213.7 192.9 213.3 192.7 212.8 192.7 212.3 193.0 211.8 192.7 211.3 192.7 210.8 192.8 210.3 192.9 209.8 192.7 209.3 192.8 208.8 192.8 208.4 193.1 207.9 193.0 207.4 192.8 206.9 193.2 206.4 192.9 205.9 192.8 205.4 193.1 204.9 193.4 204.4 192.8 203.9 192.8 203.5 192.8 203.0 193.0 202.5 193.4 202.0 192.9 201.5 193.5 201.0 192.9 200.5 193.0 200.0 193.3 199.5 192.9 199.0 193.0 198.6 193.0 198.1 193.3 197.6 193.2 197.1 193.0 196.6 193.5 196.1 193.1 195.6 193.6 195.1 193.7 194.6 193.2 194.1 193.2 193.7 193.7 193.2 193.2 192.7 193.6 192.2 193.4 191.7 193.4 191.2 193.7 190.7 193.4 190.2 193.4 189.7 193.4 189.2 193.7 188.7 194.0 188.3 193.5 187.8 193.9 187.3 194.2 186.8 193.7 186.3 193.7 185.8 194.2 185.3 194.5 184.8 193.8 184.3 194.6 183.8 193.8 183.4 193.9 182.9 194.1 182.4 194.4 181.9 194.0 181.4 194.9 180.9 194.8 180.4 195.2 179.9 194.4 179.4 194.8 178.9 194.5 178.5 194.6 178.0 195.2 177.5 194.4 177.0 194.6 176.5 194.7 176.0 195.2 175.5 196.0 175.0 194.8 174.5 194.7 174.0 195.6 173.6 195.0 173.1 195.0 172.6 196.6 172.1 195.1 171.6 196.7 171.1 196.0 170.6 195.5 170.1 195.2 169.6 196.9 169.1 196.2 168.7 195.8 168.2 196.2 167.7 197.8 167.2 196.9 166.7 197.6 166.2 196.4 165.7 198.6 165.2 198.0 164.7 198.4 164.2 197.7 163.8 200.7 163.3 200.2 162.8 198.1 162.3 201.5 161.8 200.5 161.3 202.2 160.8 207.1 160.3 202.5 159.8 201.7 159.3 202.3 158.8 206.3 158.4 204.8 157.9 214.9 157.4 215.4 156.9 220.3 156.4 213.1 155.9 212.3 155.4 215.2 154.9 217.5 154.4 207.0 153.9 204.3 153.5 205.7 153.0 200.7 152.5 197.8 152.0 198.1 151.5 196.5 151.0 195.4 150.5 194.8 150.0 196.0 149.5 195.1 149.0 194.3 148.6 194.4 148.1 195.4 147.6 195.6 147.1 194.3 146.6 194.3 146.1 195.3 145.6 194.3 145.1 194.1 144.6 194.1 144.1 195.1 143.7 194.0 143.2 193.8 142.7 194.5 142.2 193.6 141.7 193.5 141.2 193.0 140.7 192.6 140.2 192.3 139.7 192.3 138.3 192.3 134.3 192.3 130.4 192.3 126.5 192.3Z" fill="#000" stroke="#000" stroke-width="1" stroke-linejoin="round"/></g><line x1="126.50" y1="222.50" x2="126.50" y2="227.70" stroke="#000" stroke-width="1.1"/><text class="s" x="123.62" y="239.80" font-size="11.28" textLength="5.71" lengthAdjust="spacingAndGlyphs">0</text><line x1="175.50" y1="222.50" x2="175.50" y2="227.70" stroke="#000" stroke-width="1.1"/><text class="s" x="169.20" y="239.80" font-size="11.28" textLength="12.65" lengthAdjust="spacingAndGlyphs">50</text><line x1="224.50" y1="222.50" x2="224.50" y2="227.70" stroke="#000" stroke-width="1.1"/><text class="s" x="214.67" y="239.80" font-size="11.28" textLength="19.74" lengthAdjust="spacingAndGlyphs">100</text><line x1="273.50" y1="222.50" x2="273.50" y2="227.70" stroke="#000" stroke-width="1.1"/><text class="s" x="263.67" y="239.80" font-size="11.28" textLength="19.74" lengthAdjust="spacingAndGlyphs">150</text><line x1="322.50" y1="222.50" x2="322.50" y2="227.70" stroke="#000" stroke-width="1.1"/><text class="s" x="312.58" y="239.80" font-size="11.28" textLength="19.83" lengthAdjust="spacingAndGlyphs">200</text><line x1="371.50" y1="222.50" x2="371.50" y2="227.70" stroke="#000" stroke-width="1.1"/><text class="s" x="361.58" y="239.80" font-size="11.28" textLength="19.83" lengthAdjust="spacingAndGlyphs">250</text><line x1="420.50" y1="222.50" x2="420.50" y2="227.70" stroke="#000" stroke-width="1.1"/><text class="s" x="410.70" y="239.80" font-size="11.28" textLength="19.71" lengthAdjust="spacingAndGlyphs">300</text><line x1="121.30" y1="192.50" x2="126.50" y2="192.50" stroke="#000" stroke-width="1.1"/><text class="s" x="69.34" y="195.65" font-size="11.28" textLength="46.21" lengthAdjust="spacingAndGlyphs">0.0e+00</text><line x1="121.30" y1="214.50" x2="126.50" y2="214.50" stroke="#000" stroke-width="1.1"/><text class="s" x="70.42" y="217.65" font-size="11.28" textLength="44.99" lengthAdjust="spacingAndGlyphs">-1.0e-03</text><rect x="126.50" y="170.50" width="323.00" height="52.00" fill="none" stroke="#000" stroke-width="1.2"/>
<line x1="595.50" y1="170.50" x2="595.50" y2="222.50" stroke="#b0b0b0" stroke-width="1.1"/><line x1="644.50" y1="170.50" x2="644.50" y2="222.50" stroke="#b0b0b0" stroke-width="1.1"/><line x1="693.50" y1="170.50" x2="693.50" y2="222.50" stroke="#b0b0b0" stroke-width="1.1"/><line x1="742.50" y1="170.50" x2="742.50" y2="222.50" stroke="#b0b0b0" stroke-width="1.1"/><line x1="791.50" y1="170.50" x2="791.50" y2="222.50" stroke="#b0b0b0" stroke-width="1.1"/><line x1="840.50" y1="170.50" x2="840.50" y2="222.50" stroke="#b0b0b0" stroke-width="1.1"/><line x1="546.50" y1="179.50" x2="869.50" y2="179.50" stroke="#b0b0b0" stroke-width="1.1"/><line x1="546.50" y1="196.50" x2="869.50" y2="196.50" stroke="#b0b0b0" stroke-width="1.1"/><line x1="546.50" y1="212.50" x2="869.50" y2="212.50" stroke="#b0b0b0" stroke-width="1.1"/><g clip-path="url(#c11)"><path d="M546.5 195.0 550.4 195.0 554.3 195.0 558.3 195.0 559.7 195.0 560.2 194.9 560.7 194.6 561.2 194.0 561.7 194.2 562.2 194.2 562.7 193.9 563.2 193.2 563.7 193.6 564.1 193.4 564.6 193.7 565.1 193.6 565.6 193.5 566.1 192.6 566.6 193.4 567.1 193.3 567.6 193.4 568.1 192.7 568.6 193.1 569.0 193.2 569.5 193.1 570.0 192.1 570.5 192.9 571.0 192.1 571.5 191.8 572.0 191.2 572.5 192.0 573.0 191.4 573.5 189.3 573.9 188.0 574.4 186.3 574.9 178.0 575.4 177.4 575.9 182.6 576.4 178.1 576.9 184.4 577.4 185.3 577.9 189.2 578.4 189.2 578.8 189.1 579.3 189.8 579.8 191.4 580.3 191.3 580.8 189.7 581.3 191.4 581.8 191.2 582.3 191.2 582.8 189.2 583.3 191.0 583.8 190.8 584.2 190.2 584.7 190.1 585.2 188.6 585.7 190.3 586.2 191.9 586.7 191.5 587.2 193.0 587.7 192.9 588.2 192.9 588.7 192.5 589.1 193.1 589.6 192.9 590.1 193.1 590.6 191.8 591.1 192.3 591.6 192.7 592.1 193.0 592.6 191.8 593.1 193.0 593.6 191.9 594.0 192.1 594.5 192.4 595.0 192.9 595.5 192.5 596.0 193.4 596.5 193.5 597.0 193.1 597.5 192.9 598.0 193.6 598.5 193.6 598.9 193.7 599.4 193.6 599.9 193.2 600.4 192.9 600.9 193.7 601.4 193.0 601.9 193.9 602.4 193.7 602.9 193.8 603.4 193.4 603.8 193.9 604.3 193.9 604.8 193.5 605.3 193.0 605.8 193.9 606.3 193.9 606.8 193.8 607.3 193.7 607.8 193.5 608.3 194.0 608.7 193.5 609.2 193.7 609.7 194.1 610.2 194.1 610.7 194.2 611.2 193.8 611.7 193.7 612.2 194.2 612.7 194.1 613.2 194.2 613.7 193.9 614.1 194.3 614.6 193.9 615.1 193.8 615.6 194.3 616.1 193.7 616.6 194.4 617.1 194.2 617.6 194.1 618.1 194.5 618.6 194.4 619.0 194.1 619.5 194.1 620.0 194.4 620.5 194.5 621.0 194.4 621.5 194.2 622.0 194.1 622.5 194.5 623.0 194.5 623.5 194.2 623.9 194.1 624.4 194.6 624.9 194.1 625.4 194.3 625.9 194.6 626.4 194.6 626.9 194.6 627.4 194.6 627.9 194.4 628.4 194.6 628.8 194.6 629.3 194.6 629.8 194.1 630.3 194.6 630.8 194.7 631.3 194.6 631.8 194.7 632.3 194.1 632.8 194.7 633.3 194.7 633.7 194.8 634.2 194.6 634.7 194.7 635.2 194.7 635.7 194.5 636.2 194.6 636.7 194.8 637.2 194.8 637.7 194.7 638.2 194.5 638.6 194.7 639.1 194.5 639.6 194.8 640.1 194.8 640.6 194.7 641.1 194.8 641.6 194.8 642.1 194.7 642.6 194.9 643.1 194.8 643.5 194.7 644.0 194.8 644.5 194.9 645.0 194.6 645.5 194.5 646.0 194.6 646.5 194.7 647.0 194.6 647.5 194.7 648.0 194.6 648.5 194.6 648.9 194.6 649.4 194.7 649.9 194.7 650.4 194.6 650.9 194.6 651.4 194.6 651.9 194.6 652.4 194.7 652.9 194.7 653.4 194.6 653.8 194.7 654.3 194.6 654.8 194.6 655.3 194.6 655.8 194.7 656.3 194.7 656.8 194.7 657.3 194.7 657.8 194.7 658.3 194.7 658.7 194.8 659.2 194.7 659.7 194.7 660.2 194.7 660.7 194.8 661.2 194.7 661.7 194.8 662.2 194.7 662.7 194.8 663.2 194.8 663.6 194.7 664.1 194.8 664.6 194.8 665.1 194.7 665.6 194.8 666.1 194.7 666.6 194.8 667.1 194.9 667.6 194.8 668.1 194.7 668.5 194.8 669.0 194.8 669.5 194.8 670.0 194.8 670.5 194.9 671.0 194.8 671.5 194.8 672.0 194.9 672.5 194.8 673.0 194.8 673.4 194.8 673.9 194.9 677.9 194.9 681.8 194.9 685.7 194.9 689.6 195.0 693.5 195.0 697.5 195.0 701.4 195.0 705.3 195.0 709.2 195.0 713.2 195.0 717.1 195.0 721.0 195.0 724.9 195.0 728.8 195.0 732.8 195.0 736.7 195.0 740.6 195.0 744.5 195.0 748.4 195.0 752.4 195.0 756.3 195.0 760.2 195.0 764.1 195.0 768.0 195.0 772.0 195.0 775.9 195.0 779.8 195.0 783.7 195.0 787.7 195.0 791.6 195.0 795.5 195.0 799.4 195.0 803.3 195.0 807.3 195.0 811.2 195.0 815.1 195.0 819.0 195.0 822.9 195.0 826.9 195.0 830.8 195.0 834.7 195.0 838.6 195.0 842.6 195.0 846.5 195.0 850.4 195.0 854.3 195.0 858.2 195.0 862.2 195.0 866.1 195.0 869.7 195.0 869.7 196.0 866.1 196.0 862.2 196.0 858.2 196.0 854.3 196.0 850.4 196.0 846.5 196.0 842.6 196.0 838.6 196.0 834.7 196.0 830.8 196.0 826.9 196.0 822.9 196.0 819.0 196.0 815.1 196.0 811.2 196.0 807.3 196.0 803.3 196.0 799.4 196.0 795.5 196.0 791.6 196.0 787.7 196.0 783.7 196.0 779.8 196.0 775.9 196.0 772.0 196.0 768.0 196.0 764.1 196.0 760.2 196.0 756.3 196.0 752.4 196.0 748.4 196.0 744.5 196.0 740.6 196.0 736.7 196.0 732.8 196.0 728.8 196.0 724.9 196.0 721.0 196.0 717.1 196.0 713.2 196.0 709.2 196.0 705.3 196.0 701.4 196.0 697.5 196.0 693.5 196.0 689.6 196.0 685.7 196.1 681.8 196.0 677.9 196.1 673.9 196.1 673.4 196.1 673.0 196.2 672.5 196.1 672.0 196.2 671.5 196.1 671.0 196.2 670.5 196.2 670.0 196.2 669.5 196.2 669.0 196.2 668.5 196.2 668.1 196.3 667.6 196.2 667.1 196.2 666.6 196.3 666.1 196.2 665.6 196.2 665.1 196.3 664.6 196.2 664.1 196.2 663.6 196.3 663.2 196.3 662.7 196.2 662.2 196.2 661.7 196.3 661.2 196.2 660.7 196.2 660.2 196.2 659.7 196.2 659.2 196.2 658.7 196.3 658.3 196.2 657.8 196.3 657.3 196.3 656.8 196.3 656.3 196.3 655.8 196.3 655.3 196.3 654.8 196.3 654.3 196.4 653.8 196.3 653.4 196.4 652.9 196.3 652.4 196.3 651.9 196.4 651.4 196.3 650.9 196.3 650.4 196.4 649.9 196.4 649.4 196.3 648.9 196.3 648.5 196.3 648.0 196.3 647.5 196.4 647.0 196.4 646.5 196.4 646.0 196.3 645.5 196.5 645.0 196.5 644.5 196.1 644.0 196.1 643.5 196.6 643.1 196.3 642.6 196.1 642.1 196.2 641.6 196.3 641.1 196.3 640.6 196.1 640.1 196.4 639.6 196.2 639.1 196.5 638.6 196.2 638.2 196.2 637.7 196.4 637.2 196.2 636.7 196.3 636.2 196.2 635.7 196.2 635.2 196.4 634.7 196.3 634.2 196.3 633.7 196.3 633.3 196.3 632.8 196.3 632.3 196.3 631.8 196.7 631.3 196.3 630.8 196.4 630.3 196.5 629.8 196.4 629.3 196.4 628.8 196.3 628.4 196.7 627.9 196.4 627.4 196.4 626.9 196.4 626.4 196.4 625.9 196.9 625.4 196.4 624.9 197.0 624.4 197.0 623.9 196.5 623.5 196.8 623.0 196.9 622.5 196.5 622.0 196.5 621.5 196.5 621.0 197.2 620.5 196.5 620.0 196.5 619.5 196.5 619.0 196.9 618.6 197.1 618.1 196.6 617.6 196.7 617.1 196.6 616.6 197.0 616.1 196.8 615.6 196.6 615.1 197.3 614.6 196.8 614.1 196.7 613.7 197.5 613.2 196.8 612.7 196.8 612.2 196.7 611.7 196.9 611.2 197.4 610.7 196.8 610.2 196.8 609.7 196.8 609.2 196.8 608.7 197.7 608.3 196.9 607.8 196.9 607.3 196.9 606.8 197.2 606.3 197.2 605.8 197.0 605.3 197.8 604.8 197.1 604.3 197.4 603.8 197.1 603.4 197.4 602.9 197.3 602.4 197.1 601.9 197.8 601.4 197.2 600.9 197.2 600.4 197.9 599.9 197.1 599.4 197.3 598.9 197.3 598.5 197.6 598.0 197.3 597.5 197.9 597.0 198.1 596.5 197.4 596.0 197.4 595.5 198.2 595.0 197.7 594.5 197.7 594.0 197.5 593.6 198.1 593.1 197.5 592.6 197.6 592.1 197.8 591.6 197.5 591.1 198.2 590.6 198.6 590.1 197.8 589.6 198.9 589.1 197.9 588.7 199.2 588.2 198.1 587.7 198.2 587.2 198.3 586.7 199.7 586.2 199.4 585.7 198.8 585.2 200.0 584.7 199.0 584.2 199.2 583.8 199.6 583.3 199.8 582.8 201.7 582.3 199.8 581.8 199.9 581.3 202.1 580.8 202.1 580.3 200.4 579.8 201.4 579.3 201.4 578.8 203.0 578.4 201.2 577.9 203.4 577.4 205.3 576.9 203.7 576.4 207.7 575.9 204.3 575.4 205.3 574.9 206.4 574.4 202.8 573.9 201.3 573.5 202.8 573.0 201.4 572.5 199.1 572.0 199.8 571.5 199.3 571.0 198.1 570.5 198.2 570.0 199.3 569.5 198.1 569.0 199.0 568.6 198.2 568.1 197.7 567.6 197.8 567.1 197.7 566.6 198.2 566.1 198.5 565.6 197.4 565.1 197.7 564.6 197.6 564.1 197.3 563.7 197.2 563.2 197.8 562.7 197.2 562.2 196.7 561.7 196.5 561.2 196.7 560.7 196.4 560.2 196.2 559.7 196.0 558.3 196.0 554.3 196.0 550.4 196.0 546.5 196.0Z" fill="#000" stroke="#000" stroke-width="1" stroke-linejoin="round"/><rect x="573.43" y="170.70" width="2.70" height="52.00" fill="#000"/></g><line x1="546.50" y1="222.50" x2="546.50" y2="227.70" stroke="#000" stroke-width="1.1"/><text class="s" x="543.62" y="239.80" font-size="11.28" textLength="5.71" lengthAdjust="spacingAndGlyphs">0</text><line x1="595.50" y1="222.50" x2="595.50" y2="227.70" stroke="#000" stroke-width="1.1"/><text class="s" x="589.20" y="239.80" font-size="11.28" textLength="12.65" lengthAdjust="spacingAndGlyphs">50</text><line x1="644.50" y1="222.50" x2="644.50" y2="227.70" stroke="#000" stroke-width="1.1"/><text class="s" x="634.67" y="239.80" font-size="11.28" textLength="19.74" lengthAdjust="spacingAndGlyphs">100</text><line x1="693.50" y1="222.50" x2="693.50" y2="227.70" stroke="#000" stroke-width="1.1"/><text class="s" x="683.67" y="239.80" font-size="11.28" textLength="19.74" lengthAdjust="spacingAndGlyphs">150</text><line x1="742.50" y1="222.50" x2="742.50" y2="227.70" stroke="#000" stroke-width="1.1"/><text class="s" x="732.58" y="239.80" font-size="11.28" textLength="19.83" lengthAdjust="spacingAndGlyphs">200</text><line x1="791.50" y1="222.50" x2="791.50" y2="227.70" stroke="#000" stroke-width="1.1"/><text class="s" x="781.58" y="239.80" font-size="11.28" textLength="19.83" lengthAdjust="spacingAndGlyphs">250</text><line x1="840.50" y1="222.50" x2="840.50" y2="227.70" stroke="#000" stroke-width="1.1"/><text class="s" x="830.70" y="239.80" font-size="11.28" textLength="19.71" lengthAdjust="spacingAndGlyphs">300</text><line x1="541.30" y1="179.50" x2="546.50" y2="179.50" stroke="#000" stroke-width="1.1"/><text class="s" x="493.87" y="183.55" font-size="11.28" textLength="40.77" lengthAdjust="spacingAndGlyphs">1.0e-03</text><line x1="541.30" y1="196.50" x2="546.50" y2="196.50" stroke="#000" stroke-width="1.1"/><text class="s" x="488.54" y="199.75" font-size="11.28" textLength="46.21" lengthAdjust="spacingAndGlyphs">0.0e+00</text><line x1="541.30" y1="212.50" x2="546.50" y2="212.50" stroke="#000" stroke-width="1.1"/><text class="s" x="489.62" y="216.05" font-size="11.28" textLength="44.99" lengthAdjust="spacingAndGlyphs">-1.0e-03</text><rect x="546.50" y="170.50" width="323.00" height="52.00" fill="none" stroke="#000" stroke-width="1.2"/>
<line x1="1015.50" y1="170.50" x2="1015.50" y2="222.50" stroke="#b0b0b0" stroke-width="1.1"/><line x1="1064.50" y1="170.50" x2="1064.50" y2="222.50" stroke="#b0b0b0" stroke-width="1.1"/><line x1="1113.50" y1="170.50" x2="1113.50" y2="222.50" stroke="#b0b0b0" stroke-width="1.1"/><line x1="1162.50" y1="170.50" x2="1162.50" y2="222.50" stroke="#b0b0b0" stroke-width="1.1"/><line x1="1211.50" y1="170.50" x2="1211.50" y2="222.50" stroke="#b0b0b0" stroke-width="1.1"/><line x1="1260.50" y1="170.50" x2="1260.50" y2="222.50" stroke="#b0b0b0" stroke-width="1.1"/><line x1="966.50" y1="193.50" x2="1288.50" y2="193.50" stroke="#b0b0b0" stroke-width="1.1"/><line x1="966.50" y1="219.50" x2="1288.50" y2="219.50" stroke="#b0b0b0" stroke-width="1.1"/><g clip-path="url(#c12)"><path d="M966.5 192.5 970.4 192.5 974.3 192.5 978.3 192.5 979.7 192.5 980.2 192.5 980.7 192.0 981.2 189.5 981.7 188.7 982.2 188.9 982.7 189.3 983.2 187.5 983.7 188.8 984.1 187.6 984.6 188.6 985.1 188.6 985.6 188.3 986.1 186.5 986.6 188.3 987.1 188.6 987.6 188.4 988.1 188.0 988.6 189.6 989.0 189.7 989.5 189.4 990.0 188.7 990.5 189.9 991.0 189.5 991.5 187.7 992.0 185.9 992.5 183.9 993.0 176.2 993.5 176.0 993.9 178.7 994.4 173.5 994.9 178.1 995.4 178.2 995.9 171.8 996.4 176.7 996.9 170.7 997.4 176.6 997.9 179.8 998.4 185.6 998.8 183.8 999.3 186.8 999.8 186.7 1000.3 186.0 1000.8 185.1 1001.3 187.4 1001.8 187.3 1002.3 187.8 1002.8 186.5 1003.3 187.9 1003.8 186.5 1004.2 188.4 1004.7 188.3 1005.2 187.9 1005.7 186.7 1006.2 188.6 1006.7 189.2 1007.2 188.6 1007.7 187.8 1008.2 189.7 1008.7 188.8 1009.1 189.8 1009.6 189.9 1010.1 190.1 1010.6 190.1 1011.1 188.6 1011.6 189.8 1012.1 189.9 1012.6 188.4 1013.1 189.8 1013.6 189.0 1014.0 190.0 1014.5 189.0 1015.0 189.7 1015.5 189.4 1016.0 190.4 1016.5 190.1 1017.0 189.9 1017.5 190.5 1018.0 190.5 1018.5 190.2 1018.9 190.4 1019.4 190.7 1019.9 190.8 1020.4 189.9 1020.9 190.4 1021.4 191.1 1021.9 190.4 1022.4 191.1 1022.9 191.1 1023.4 190.7 1023.8 191.0 1024.3 191.1 1024.8 191.0 1025.3 190.2 1025.8 191.1 1026.3 191.1 1026.8 190.5 1027.3 191.1 1027.8 190.2 1028.3 191.0 1028.7 191.1 1029.2 190.5 1029.7 190.9 1030.2 190.2 1030.7 190.7 1031.2 191.1 1031.7 191.2 1032.2 191.2 1032.7 190.9 1033.2 191.2 1033.7 191.4 1034.1 191.0 1034.6 190.7 1035.1 190.9 1035.6 191.6 1036.1 191.1 1036.6 191.5 1037.1 191.1 1037.6 191.3 1038.1 191.6 1038.6 191.6 1039.0 191.5 1039.5 191.3 1040.0 191.7 1040.5 191.6 1041.0 191.7 1041.5 191.4 1042.0 191.5 1042.5 191.8 1043.0 191.7 1043.5 191.7 1043.9 191.8 1044.4 191.3 1044.9 191.2 1045.4 191.8 1045.9 191.7 1046.4 191.7 1046.9 191.7 1047.4 191.8 1047.9 191.7 1048.4 191.8 1048.8 191.8 1049.3 191.4 1049.8 191.9 1050.3 191.8 1050.8 191.5 1051.3 191.9 1051.8 191.6 1052.3 191.6 1052.8 191.9 1053.3 191.9 1053.7 191.9 1054.2 191.5 1054.7 191.9 1055.2 191.9 1055.7 191.9 1056.2 192.0 1056.7 191.9 1057.2 191.6 1057.7 191.7 1058.2 191.9 1058.6 191.9 1059.1 192.0 1059.6 192.0 1060.1 191.8 1060.6 192.0 1061.1 191.5 1061.6 192.0 1062.1 192.0 1062.6 192.1 1063.1 192.0 1063.5 191.6 1064.0 192.1 1064.5 191.6 1065.0 192.1 1065.5 191.9 1066.0 191.9 1066.5 192.0 1067.0 192.0 1067.5 191.8 1068.0 192.1 1068.5 192.1 1068.9 192.0 1069.4 191.6 1069.9 192.2 1070.4 192.1 1070.9 191.8 1071.4 191.8 1071.9 192.2 1072.4 192.2 1072.9 191.9 1073.4 192.0 1073.8 192.2 1074.3 192.2 1074.8 192.2 1075.3 192.1 1075.8 192.3 1076.3 192.3 1076.8 192.3 1077.3 191.8 1077.8 192.3 1078.3 192.3 1078.7 191.7 1079.2 192.3 1079.7 192.1 1080.2 192.3 1080.7 192.3 1081.2 192.4 1081.7 192.2 1082.2 192.3 1082.7 192.4 1083.2 192.4 1083.6 192.4 1084.1 192.0 1084.6 192.1 1085.1 192.1 1085.6 192.2 1086.1 192.1 1086.6 192.2 1087.1 192.1 1087.6 192.1 1088.1 192.1 1088.5 192.2 1089.0 192.1 1089.5 192.2 1090.0 192.2 1090.5 192.2 1091.0 192.2 1091.5 192.2 1092.0 192.2 1092.5 192.3 1093.0 192.2 1093.4 192.3 1093.9 192.3 1094.4 192.3 1094.9 192.3 1095.4 192.3 1095.9 192.3 1096.4 192.4 1096.9 192.4 1097.4 192.4 1097.9 192.3 1098.4 192.4 1098.8 192.4 1099.3 192.4 1099.8 192.4 1100.3 192.4 1100.8 192.4 1101.3 192.4 1101.8 192.4 1102.3 192.5 1102.8 192.5 1103.3 192.4 1103.7 192.5 1107.7 192.5 1111.6 192.5 1115.5 192.5 1119.4 192.5 1123.3 192.5 1127.3 192.5 1131.2 192.5 1135.1 192.5 1139.0 192.5 1143.0 192.5 1146.9 192.5 1150.8 192.5 1154.7 192.5 1158.6 192.5 1162.6 192.5 1166.5 192.5 1170.4 192.5 1174.3 192.5 1178.2 192.5 1182.2 192.5 1186.1 192.5 1190.0 192.5 1193.9 192.5 1197.9 192.5 1201.8 192.5 1205.7 192.5 1209.6 192.5 1213.5 192.5 1217.5 192.5 1221.4 192.5 1225.3 192.5 1229.2 192.5 1233.1 192.5 1237.1 192.5 1241.0 192.5 1244.9 192.5 1248.8 192.5 1252.7 192.5 1256.7 192.5 1260.6 192.5 1264.5 192.5 1268.4 192.5 1272.4 192.5 1276.3 192.5 1280.2 192.5 1284.1 192.5 1288.0 192.5 1289.7 192.5 1289.7 193.5 1288.0 193.5 1284.1 193.5 1280.2 193.5 1276.3 193.5 1272.4 193.5 1268.4 193.5 1264.5 193.5 1260.6 193.5 1256.7 193.5 1252.7 193.5 1248.8 193.5 1244.9 193.5 1241.0 193.5 1237.1 193.5 1233.1 193.5 1229.2 193.5 1225.3 193.5 1221.4 193.5 1217.5 193.5 1213.5 193.5 1209.6 193.5 1205.7 193.5 1201.8 193.5 1197.9 193.5 1193.9 193.5 1190.0 193.5 1186.1 193.5 1182.2 193.5 1178.2 193.5 1174.3 193.5 1170.4 193.5 1166.5 193.5 1162.6 193.5 1158.6 193.5 1154.7 193.5 1150.8 193.5 1146.9 193.5 1143.0 193.5 1139.0 193.5 1135.1 193.5 1131.2 193.5 1127.3 193.5 1123.3 193.5 1119.4 193.5 1115.5 193.5 1111.6 193.5 1107.7 193.5 1103.7 193.5 1103.3 193.5 1102.8 193.5 1102.3 193.6 1101.8 193.6 1101.3 193.5 1100.8 193.6 1100.3 193.6 1099.8 193.6 1099.3 193.6 1098.8 193.6 1098.4 193.7 1097.9 193.6 1097.4 193.6 1096.9 193.7 1096.4 193.7 1095.9 193.6 1095.4 193.7 1094.9 193.6 1094.4 193.7 1093.9 193.8 1093.4 193.8 1093.0 193.8 1092.5 193.8 1092.0 193.8 1091.5 193.7 1091.0 193.8 1090.5 193.8 1090.0 193.8 1089.5 193.8 1089.0 193.9 1088.5 193.9 1088.1 193.8 1087.6 193.8 1087.1 193.8 1086.6 193.8 1086.1 193.8 1085.6 193.8 1085.1 193.9 1084.6 193.9 1084.1 193.8 1083.6 193.6 1083.2 193.7 1082.7 193.9 1082.2 193.6 1081.7 193.7 1081.2 193.8 1080.7 194.0 1080.2 193.7 1079.7 193.7 1079.2 193.7 1078.7 193.9 1078.3 194.0 1077.8 193.7 1077.3 193.9 1076.8 194.2 1076.3 193.8 1075.8 193.8 1075.3 194.1 1074.8 194.0 1074.3 193.9 1073.8 193.9 1073.4 193.9 1072.9 194.2 1072.4 193.9 1071.9 193.9 1071.4 193.9 1070.9 193.8 1070.4 194.2 1069.9 194.0 1069.4 193.9 1068.9 193.9 1068.5 194.0 1068.0 194.3 1067.5 193.9 1067.0 194.0 1066.5 194.4 1066.0 194.0 1065.5 194.0 1065.0 194.0 1064.5 194.6 1064.0 194.0 1063.5 194.1 1063.1 194.1 1062.6 194.1 1062.1 194.3 1061.6 194.0 1061.1 194.2 1060.6 194.0 1060.1 194.1 1059.6 194.0 1059.1 194.1 1058.6 194.5 1058.2 194.1 1057.7 194.1 1057.2 194.1 1056.7 194.1 1056.2 194.2 1055.7 194.6 1055.2 194.2 1054.7 194.1 1054.2 194.2 1053.7 194.2 1053.3 194.1 1052.8 194.1 1052.3 194.2 1051.8 194.4 1051.3 194.2 1050.8 194.2 1050.3 194.2 1049.8 194.3 1049.3 194.4 1048.8 194.2 1048.4 194.6 1047.9 194.2 1047.4 194.4 1046.9 194.6 1046.4 194.2 1045.9 194.3 1045.4 194.5 1044.9 194.9 1044.4 194.3 1043.9 194.3 1043.5 194.3 1043.0 194.7 1042.5 194.3 1042.0 194.5 1041.5 194.4 1041.0 194.4 1040.5 194.4 1040.0 194.8 1039.5 194.4 1039.0 194.7 1038.6 194.7 1038.1 194.4 1037.6 194.4 1037.1 194.6 1036.6 194.4 1036.1 194.4 1035.6 194.5 1035.1 195.1 1034.6 194.5 1034.1 194.5 1033.7 194.4 1033.2 195.0 1032.7 195.2 1032.2 194.6 1031.7 195.1 1031.2 194.6 1030.7 194.6 1030.2 195.5 1029.7 195.2 1029.2 194.6 1028.7 194.7 1028.3 195.3 1027.8 194.7 1027.3 194.7 1026.8 194.6 1026.3 194.8 1025.8 195.6 1025.3 195.7 1024.8 195.3 1024.3 194.8 1023.8 194.9 1023.4 194.9 1022.9 195.1 1022.4 195.0 1021.9 195.0 1021.4 195.0 1020.9 195.8 1020.4 196.0 1019.9 195.2 1019.4 196.5 1018.9 195.4 1018.5 195.4 1018.0 195.5 1017.5 196.1 1017.0 195.6 1016.5 195.7 1016.0 196.7 1015.5 196.7 1015.0 196.2 1014.5 195.6 1014.0 195.5 1013.6 196.5 1013.1 195.6 1012.6 196.6 1012.1 196.1 1011.6 195.7 1011.1 195.7 1010.6 196.3 1010.1 195.6 1009.6 196.3 1009.1 196.7 1008.7 197.0 1008.2 197.2 1007.7 196.4 1007.2 197.9 1006.7 197.0 1006.2 196.5 1005.7 198.2 1005.2 196.8 1004.7 197.3 1004.2 198.1 1003.8 199.4 1003.3 197.7 1002.8 198.0 1002.3 198.5 1001.8 198.3 1001.3 199.7 1000.8 201.4 1000.3 200.7 999.8 199.5 999.3 202.1 998.8 203.4 998.4 202.3 997.9 210.7 997.4 214.0 996.9 223.3 996.4 216.5 995.9 221.5 995.4 213.1 994.9 210.1 994.4 213.8 993.9 206.3 993.5 205.4 993.0 207.7 992.5 201.2 992.0 198.7 991.5 199.4 991.0 197.0 990.5 196.1 990.0 197.0 989.5 195.9 989.0 196.4 988.6 196.3 988.1 197.8 987.6 196.5 987.1 196.6 986.6 196.7 986.1 198.3 985.6 196.9 985.1 197.1 984.6 197.4 984.1 197.0 983.7 197.3 983.2 199.3 982.7 197.3 982.2 197.1 981.7 197.1 981.2 197.4 980.7 194.5 980.2 193.5 979.7 193.5 978.3 193.5 974.3 193.5 970.4 193.5 966.5 193.5Z" fill="#000" stroke="#000" stroke-width="1" stroke-linejoin="round"/></g><line x1="966.50" y1="222.50" x2="966.50" y2="227.70" stroke="#000" stroke-width="1.1"/><text class="s" x="963.62" y="239.80" font-size="11.28" textLength="5.71" lengthAdjust="spacingAndGlyphs">0</text><line x1="1015.50" y1="222.50" x2="1015.50" y2="227.70" stroke="#000" stroke-width="1.1"/><text class="s" x="1009.20" y="239.80" font-size="11.28" textLength="12.65" lengthAdjust="spacingAndGlyphs">50</text><line x1="1064.50" y1="222.50" x2="1064.50" y2="227.70" stroke="#000" stroke-width="1.1"/><text class="s" x="1054.67" y="239.80" font-size="11.28" textLength="19.74" lengthAdjust="spacingAndGlyphs">100</text><line x1="1113.50" y1="222.50" x2="1113.50" y2="227.70" stroke="#000" stroke-width="1.1"/><text class="s" x="1103.67" y="239.80" font-size="11.28" textLength="19.74" lengthAdjust="spacingAndGlyphs">150</text><line x1="1162.50" y1="222.50" x2="1162.50" y2="227.70" stroke="#000" stroke-width="1.1"/><text class="s" x="1152.58" y="239.80" font-size="11.28" textLength="19.83" lengthAdjust="spacingAndGlyphs">200</text><line x1="1211.50" y1="222.50" x2="1211.50" y2="227.70" stroke="#000" stroke-width="1.1"/><text class="s" x="1201.58" y="239.80" font-size="11.28" textLength="19.83" lengthAdjust="spacingAndGlyphs">250</text><line x1="1260.50" y1="222.50" x2="1260.50" y2="227.70" stroke="#000" stroke-width="1.1"/><text class="s" x="1250.70" y="239.80" font-size="11.28" textLength="19.71" lengthAdjust="spacingAndGlyphs">300</text><line x1="961.30" y1="193.50" x2="966.50" y2="193.50" stroke="#000" stroke-width="1.1"/><text class="s" x="908.54" y="196.75" font-size="11.28" textLength="46.21" lengthAdjust="spacingAndGlyphs">0.0e+00</text><line x1="961.30" y1="219.50" x2="966.50" y2="219.50" stroke="#000" stroke-width="1.1"/><text class="s" x="909.61" y="222.75" font-size="11.28" textLength="45.15" lengthAdjust="spacingAndGlyphs">-5.0e-04</text><rect x="966.50" y="170.50" width="322.00" height="52.00" fill="none" stroke="#000" stroke-width="1.2"/>
<line x1="175.50" y1="253.50" x2="175.50" y2="305.50" stroke="#b0b0b0" stroke-width="1.1"/><line x1="224.50" y1="253.50" x2="224.50" y2="305.50" stroke="#b0b0b0" stroke-width="1.1"/><line x1="273.50" y1="253.50" x2="273.50" y2="305.50" stroke="#b0b0b0" stroke-width="1.1"/><line x1="322.50" y1="253.50" x2="322.50" y2="305.50" stroke="#b0b0b0" stroke-width="1.1"/><line x1="371.50" y1="253.50" x2="371.50" y2="305.50" stroke="#b0b0b0" stroke-width="1.1"/><line x1="420.50" y1="253.50" x2="420.50" y2="305.50" stroke="#b0b0b0" stroke-width="1.1"/><line x1="126.50" y1="257.50" x2="449.50" y2="257.50" stroke="#b0b0b0" stroke-width="1.1"/><line x1="126.50" y1="280.50" x2="449.50" y2="280.50" stroke="#b0b0b0" stroke-width="1.1"/><line x1="126.50" y1="302.50" x2="449.50" y2="302.50" stroke="#b0b0b0" stroke-width="1.1"/><g clip-path="url(#c20)"><path d="M126.5 279.4 130.4 279.4 134.3 279.4 138.3 279.4 142.2 279.4 143.2 279.4 143.7 279.0 144.1 278.5 144.6 277.7 145.1 277.4 145.6 277.3 146.1 277.4 146.6 277.3 147.1 275.9 147.6 277.1 148.1 277.3 148.6 276.9 149.0 276.2 149.5 276.8 150.0 277.1 150.5 277.4 151.0 275.8 151.5 277.0 152.0 276.0 152.5 275.7 153.0 275.3 153.5 276.7 153.9 277.0 154.4 276.1 154.9 276.3 155.4 276.3 155.9 275.6 156.4 273.5 156.9 271.8 157.4 272.6 157.9 268.9 158.4 268.6 158.8 263.6 159.3 266.3 159.8 263.6 160.3 260.9 160.8 260.5 161.3 264.7 161.8 263.2 162.3 267.6 162.8 266.2 163.3 260.0 163.8 261.8 164.2 267.4 164.7 265.3 165.2 270.5 165.7 269.8 166.2 270.0 166.7 272.6 167.2 270.6 167.7 269.2 168.2 267.2 168.7 268.6 169.1 271.9 169.6 270.8 170.1 273.8 170.6 274.0 171.1 272.5 171.6 272.1 172.1 274.4 172.6 273.3 173.1 274.3 173.6 272.4 174.0 274.3 174.5 273.4 175.0 270.6 175.5 273.7 176.0 274.4 176.5 272.7 177.0 273.8 177.5 275.5 178.0 275.6 178.5 274.0 178.9 275.8 179.4 274.9 179.9 275.8 180.4 275.9 180.9 275.9 181.4 274.1 181.9 274.1 182.4 275.9 182.9 275.7 183.4 275.5 183.8 274.7 184.3 273.5 184.8 275.1 185.3 275.2 185.8 275.3 186.3 275.7 186.8 276.2 187.3 274.5 187.8 276.2 188.3 275.1 188.7 276.7 189.2 276.6 189.7 276.8 190.2 275.8 190.7 276.8 191.2 277.0 191.7 277.1 192.2 276.8 192.7 277.1 193.2 276.3 193.7 277.3 194.1 277.4 194.6 277.3 195.1 276.5 195.6 275.8 196.1 277.3 196.6 277.1 197.1 276.9 197.6 278.0 198.1 277.3 198.6 278.2 199.0 277.9 199.5 278.2 200.0 277.9 200.5 277.9 201.0 277.4 201.5 277.0 202.0 277.0 202.5 277.8 203.0 277.8 203.5 277.5 203.9 278.0 204.4 278.1 204.9 277.1 205.4 277.6 205.9 277.8 206.4 278.0 206.9 277.4 207.4 277.9 207.9 277.9 208.4 277.7 208.8 277.4 209.3 277.5 209.8 277.8 210.3 277.9 210.8 276.7 211.3 277.2 211.8 277.8 212.3 277.8 212.8 277.3 213.3 277.7 213.7 277.8 214.2 277.8 214.7 277.9 215.2 277.1 215.7 277.8 216.2 277.9 216.7 277.1 217.2 278.0 217.7 277.9 218.2 277.3 218.6 277.8 219.1 277.9 219.6 277.8 220.1 277.3 220.6 277.8 221.1 277.6 221.6 277.0 222.1 277.6 222.6 277.5 223.1 277.2 223.5 276.6 224.0 277.6 224.5 277.7 225.0 277.0 225.5 278.1 226.0 278.2 226.5 277.7 227.0 277.7 227.5 278.1 228.0 278.5 228.5 278.6 228.9 278.6 229.4 278.2 229.9 278.6 230.4 277.8 230.9 278.6 231.4 278.5 231.9 278.6 232.4 278.1 232.9 278.6 233.4 278.5 233.8 278.5 234.3 278.0 234.8 278.7 235.3 278.1 235.8 278.5 236.3 278.6 236.8 278.5 237.3 278.1 237.8 278.6 238.3 278.2 238.7 278.6 239.2 278.6 239.7 278.6 240.2 278.3 240.7 278.3 241.2 278.6 241.7 278.7 242.2 278.7 242.7 278.2 243.2 278.6 243.6 278.0 244.1 278.6 244.6 278.6 245.1 278.4 245.6 278.7 246.1 278.8 246.6 278.7 247.1 278.7 247.6 278.7 248.1 278.8 248.5 278.1 249.0 278.2 249.5 278.8 250.0 278.8 250.5 278.5 251.0 278.8 251.5 278.7 252.0 278.5 252.5 278.6 253.0 278.8 253.4 278.8 253.9 278.6 254.4 278.8 254.9 278.8 255.4 278.4 255.9 278.9 256.4 278.9 256.9 278.8 257.4 278.8 257.9 278.5 258.4 278.8 258.8 278.7 259.3 278.7 259.8 278.9 260.3 278.9 260.8 278.8 261.3 278.6 261.8 279.0 262.3 279.0 262.8 278.5 263.3 278.9 263.7 278.5 264.2 279.0 264.7 279.0 265.2 278.5 265.7 279.0 266.2 279.0 266.7 279.0 267.2 278.6 267.7 278.8 268.2 279.1 268.6 279.1 269.1 279.0 269.6 278.8 270.1 279.1 270.6 279.1 271.1 279.0 271.6 278.9 272.1 278.9 272.6 279.1 273.1 279.1 273.5 279.1 274.0 278.7 274.5 278.9 275.0 278.9 275.5 279.1 276.0 279.2 276.5 279.0 277.0 279.1 277.5 279.1 278.0 278.9 278.4 279.2 278.9 279.2 279.4 279.3 279.9 278.9 280.4 279.2 280.9 279.3 281.4 279.3 281.9 279.3 282.4 278.9 282.9 279.3 283.3 279.3 283.8 278.9 284.3 279.0 284.8 279.0 285.3 279.0 285.8 279.1 286.3 279.1 286.8 279.0 287.3 279.1 287.8 279.0 288.2 279.1 288.7 279.0 289.2 279.1 289.7 279.1 290.2 279.1 290.7 279.1 291.2 279.1 291.7 279.1 292.2 279.1 292.7 279.1 293.2 279.1 293.6 279.2 294.1 279.2 294.6 279.1 295.1 279.1 295.6 279.2 296.1 279.1 296.6 279.2 297.1 279.1 297.6 279.1 298.1 279.2 298.5 279.2 299.0 279.3 299.5 279.2 300.0 279.2 300.5 279.3 301.0 279.2 301.5 279.2 302.0 279.2 302.5 279.2 303.0 279.3 303.4 279.3 303.9 279.3 304.4 279.3 304.9 279.3 305.4 279.3 305.9 279.3 306.4 279.3 306.9 279.3 307.4 279.3 307.9 279.4 308.3 279.4 308.8 279.3 309.3 279.4 309.8 279.4 310.3 279.4 310.8 279.4 311.3 279.4 311.8 279.4 312.3 279.4 312.8 279.4 313.2 279.4 313.7 279.4 314.2 279.4 314.7 279.4 315.2 279.4 315.7 279.4 316.2 279.4 316.7 279.4 317.2 279.4 317.7 279.4 318.1 279.4 318.6 279.4 319.1 279.4 319.6 279.4 320.1 279.4 320.6 279.4 321.1 279.4 321.6 279.4 322.1 279.4 322.6 279.4 326.5 279.4 330.4 279.4 334.3 279.4 338.2 279.4 342.2 279.4 346.1 279.4 350.0 279.4 353.9 279.4 357.9 279.4 361.8 279.4 365.7 279.4 369.6 279.4 373.5 279.4 377.5 279.4 381.4 279.4 385.3 279.4 389.2 279.4 393.1 279.4 397.1 279.4 401.0 279.4 404.9 279.4 408.8 279.4 412.7 279.4 416.7 279.4 420.6 279.4 424.5 279.4 428.4 279.4 432.4 279.4 436.3 279.4 440.2 279.4 444.1 279.4 448.0 279.4 449.7 279.4 449.7 280.4 448.0 280.4 444.1 280.4 440.2 280.4 436.3 280.4 432.4 280.4 428.4 280.4 424.5 280.4 420.6 280.4 416.7 280.4 412.7 280.4 408.8 280.4 404.9 280.4 401.0 280.4 397.1 280.4 393.1 280.4 389.2 280.4 385.3 280.4 381.4 280.4 377.5 280.4 373.5 280.4 369.6 280.4 365.7 280.4 361.8 280.4 357.9 280.4 353.9 280.4 350.0 280.4 346.1 280.4 342.2 280.4 338.2 280.4 334.3 280.4 330.4 280.4 326.5 280.4 322.6 280.4 322.1 280.4 321.6 280.4 321.1 280.4 320.6 280.4 320.1 280.4 319.6 280.4 319.1 280.4 318.6 280.4 318.1 280.4 317.7 280.4 317.2 280.4 316.7 280.4 316.2 280.4 315.7 280.4 315.2 280.4 314.7 280.4 314.2 280.4 313.7 280.4 313.2 280.4 312.8 280.4 312.3 280.4 311.8 280.4 311.3 280.4 310.8 280.4 310.3 280.5 309.8 280.5 309.3 280.5 308.8 280.5 308.3 280.5 307.9 280.5 307.4 280.4 306.9 280.5 306.4 280.5 305.9 280.5 305.4 280.5 304.9 280.5 304.4 280.5 303.9 280.5 303.4 280.6 303.0 280.5 302.5 280.5 302.0 280.6 301.5 280.6 301.0 280.6 300.5 280.6 300.0 280.5 299.5 280.6 299.0 280.6 298.5 280.6 298.1 280.6 297.6 280.7 297.1 280.7 296.6 280.6 296.1 280.6 295.6 280.6 295.1 280.6 294.6 280.7 294.1 280.7 293.6 280.7 293.2 280.7 292.7 280.7 292.2 280.8 291.7 280.7 291.2 280.7 290.7 280.7 290.2 280.8 289.7 280.8 289.2 280.8 288.7 280.7 288.2 280.8 287.8 280.8 287.3 280.8 286.8 280.7 286.3 280.8 285.8 280.7 285.3 280.7 284.8 280.8 284.3 280.8 283.8 280.8 283.3 280.5 282.9 280.7 282.4 280.9 281.9 280.5 281.4 280.7 280.9 280.6 280.4 280.9 279.9 280.6 279.4 280.5 278.9 280.9 278.4 280.6 278.0 280.6 277.5 280.8 277.0 280.6 276.5 280.7 276.0 280.7 275.5 280.7 275.0 281.1 274.5 280.7 274.0 280.7 273.5 280.9 273.1 280.9 272.6 280.7 272.1 281.0 271.6 280.8 271.1 280.9 270.6 281.1 270.1 280.7 269.6 280.8 269.1 280.8 268.6 280.9 268.2 280.8 267.7 280.7 267.2 280.8 266.7 281.3 266.2 280.8 265.7 280.8 265.2 281.1 264.7 280.8 264.2 280.8 263.7 281.4 263.3 280.9 262.8 281.5 262.3 280.8 261.8 280.8 261.3 280.8 260.8 281.5 260.3 280.9 259.8 280.9 259.3 280.9 258.8 281.3 258.4 280.9 257.9 280.9 257.4 280.9 256.9 281.2 256.4 281.0 255.9 281.0 255.4 280.9 254.9 281.2 254.4 281.3 253.9 280.9 253.4 280.9 253.0 281.1 252.5 281.4 252.0 281.0 251.5 281.0 251.0 281.4 250.5 281.1 250.0 281.5 249.5 281.0 249.0 281.7 248.5 281.1 248.1 281.1 247.6 281.4 247.1 281.1 246.6 281.1 246.1 281.3 245.6 281.0 245.1 281.3 244.6 281.4 244.1 281.2 243.6 281.6 243.2 281.1 242.7 281.2 242.2 281.5 241.7 281.3 241.2 281.1 240.7 281.1 240.2 281.9 239.7 281.3 239.2 281.1 238.7 281.1 238.3 281.1 237.8 281.7 237.3 281.2 236.8 281.1 236.3 281.2 235.8 281.5 235.3 281.2 234.8 281.9 234.3 281.8 233.8 281.2 233.4 281.5 232.9 281.3 232.4 281.2 231.9 281.2 231.4 281.4 230.9 281.8 230.4 281.5 229.9 282.0 229.4 281.3 228.9 281.3 228.5 281.3 228.0 281.4 227.5 281.7 227.0 281.4 226.5 282.1 226.0 281.3 225.5 281.6 225.0 281.8 224.5 281.4 224.0 281.4 223.5 282.1 223.1 281.6 222.6 281.5 222.1 281.4 221.6 281.4 221.1 281.5 220.6 281.8 220.1 282.0 219.6 281.4 219.1 281.4 218.6 281.8 218.2 281.6 217.7 281.6 217.2 281.5 216.7 282.4 216.2 281.7 215.7 281.6 215.2 281.6 214.7 281.6 214.2 281.8 213.7 281.5 213.3 282.1 212.8 281.7 212.3 281.7 211.8 281.9 211.3 281.5 210.8 282.3 210.3 282.2 209.8 282.5 209.3 281.6 208.8 281.7 208.4 281.9 207.9 281.8 207.4 281.7 206.9 281.7 206.4 281.8 205.9 282.3 205.4 281.9 204.9 282.7 204.4 282.5 203.9 281.8 203.5 282.4 203.0 281.9 202.5 281.9 202.0 283.1 201.5 282.3 201.0 282.9 200.5 282.6 200.0 282.6 199.5 282.5 199.0 282.7 198.6 283.0 198.1 283.8 197.6 282.6 197.1 282.3 196.6 283.0 196.1 282.7 195.6 282.4 195.1 283.1 194.6 282.7 194.1 282.7 193.7 282.4 193.2 282.3 192.7 282.4 192.2 283.2 191.7 282.7 191.2 283.1 190.7 283.1 190.2 284.1 189.7 283.0 189.2 284.1 188.7 283.2 188.3 283.3 187.8 284.1 187.3 284.9 186.8 283.4 186.3 283.4 185.8 284.5 185.3 283.2 184.8 283.1 184.3 284.7 183.8 283.2 183.4 283.6 182.9 284.1 182.4 283.8 181.9 284.2 181.4 285.7 180.9 284.0 180.4 283.7 179.9 284.3 179.4 284.6 178.9 283.7 178.5 285.1 178.0 283.5 177.5 285.4 177.0 284.0 176.5 285.4 176.0 284.3 175.5 285.7 175.0 286.9 174.5 285.2 174.0 285.2 173.6 288.0 173.1 288.0 172.6 286.3 172.1 286.1 171.6 288.4 171.1 286.3 170.6 287.6 170.1 287.0 169.6 289.6 169.1 287.3 168.7 288.6 168.2 290.6 167.7 288.2 167.2 288.0 166.7 288.2 166.2 292.3 165.7 288.8 165.2 288.7 164.7 293.1 164.2 289.6 163.8 294.4 163.3 293.7 162.8 289.4 162.3 288.9 161.8 294.6 161.3 299.5 160.8 302.2 160.3 295.8 159.8 295.3 159.3 299.3 158.8 296.6 158.4 288.9 157.9 289.1 157.4 285.2 156.9 285.9 156.4 285.0 155.9 283.1 155.4 282.6 154.9 283.6 154.4 283.1 153.9 282.6 153.5 283.5 153.0 284.4 152.5 283.2 152.0 283.6 151.5 284.5 151.0 285.4 150.5 283.3 150.0 283.6 149.5 282.6 149.0 283.4 148.6 282.4 148.1 282.2 147.6 282.8 147.1 283.2 146.6 282.7 146.1 283.0 145.6 281.8 145.1 282.0 144.6 282.0 144.1 280.9 143.7 280.8 143.2 280.4 142.2 280.4 138.3 280.4 134.3 280.4 130.4 280.4 126.5 280.4Z" fill="#000" stroke="#000" stroke-width="1" stroke-linejoin="round"/><rect x="159.07" y="253.90" width="2.40" height="52.00" fill="#000"/></g><line x1="126.50" y1="305.50" x2="126.50" y2="310.70" stroke="#000" stroke-width="1.1"/><text class="s" x="123.62" y="322.80" font-size="11.28" textLength="5.71" lengthAdjust="spacingAndGlyphs">0</text><line x1="175.50" y1="305.50" x2="175.50" y2="310.70" stroke="#000" stroke-width="1.1"/><text class="s" x="169.20" y="322.80" font-size="11.28" textLength="12.65" lengthAdjust="spacingAndGlyphs">50</text><line x1="224.50" y1="305.50" x2="224.50" y2="310.70" stroke="#000" stroke-width="1.1"/><text class="s" x="214.67" y="322.80" font-size="11.28" textLength="19.74" lengthAdjust="spacingAndGlyphs">100</text><line x1="273.50" y1="305.50" x2="273.50" y2="310.70" stroke="#000" stroke-width="1.1"/><text class="s" x="263.67" y="322.80" font-size="11.28" textLength="19.74" lengthAdjust="spacingAndGlyphs">150</text><line x1="322.50" y1="305.50" x2="322.50" y2="310.70" stroke="#000" stroke-width="1.1"/><text class="s" x="312.58" y="322.80" font-size="11.28" textLength="19.83" lengthAdjust="spacingAndGlyphs">200</text><line x1="371.50" y1="305.50" x2="371.50" y2="310.70" stroke="#000" stroke-width="1.1"/><text class="s" x="361.58" y="322.80" font-size="11.28" textLength="19.83" lengthAdjust="spacingAndGlyphs">250</text><line x1="420.50" y1="305.50" x2="420.50" y2="310.70" stroke="#000" stroke-width="1.1"/><text class="s" x="410.70" y="322.80" font-size="11.28" textLength="19.71" lengthAdjust="spacingAndGlyphs">300</text><line x1="121.30" y1="257.50" x2="126.50" y2="257.50" stroke="#000" stroke-width="1.1"/><text class="s" x="74.70" y="261.55" font-size="11.28" textLength="40.89" lengthAdjust="spacingAndGlyphs">5.0e-04</text><line x1="121.30" y1="280.50" x2="126.50" y2="280.50" stroke="#000" stroke-width="1.1"/><text class="s" x="69.34" y="283.75" font-size="11.28" textLength="46.21" lengthAdjust="spacingAndGlyphs">0.0e+00</text><line x1="121.30" y1="302.50" x2="126.50" y2="302.50" stroke="#000" stroke-width="1.1"/><text class="s" x="70.41" y="306.55" font-size="11.28" textLength="45.15" lengthAdjust="spacingAndGlyphs">-5.0e-04</text><rect x="126.50" y="253.50" width="323.00" height="52.00" fill="none" stroke="#000" stroke-width="1.2"/>
<line x1="595.50" y1="253.50" x2="595.50" y2="305.50" stroke="#b0b0b0" stroke-width="1.1"/><line x1="644.50" y1="253.50" x2="644.50" y2="305.50" stroke="#b0b0b0" stroke-width="1.1"/><line x1="693.50" y1="253.50" x2="693.50" y2="305.50" stroke="#b0b0b0" stroke-width="1.1"/><line x1="742.50" y1="253.50" x2="742.50" y2="305.50" stroke="#b0b0b0" stroke-width="1.1"/><line x1="791.50" y1="253.50" x2="791.50" y2="305.50" stroke="#b0b0b0" stroke-width="1.1"/><line x1="840.50" y1="253.50" x2="840.50" y2="305.50" stroke="#b0b0b0" stroke-width="1.1"/><line x1="546.50" y1="254.50" x2="869.50" y2="254.50" stroke="#b0b0b0" stroke-width="1.1"/><line x1="546.50" y1="278.50" x2="869.50" y2="278.50" stroke="#b0b0b0" stroke-width="1.1"/><line x1="546.50" y1="302.50" x2="869.50" y2="302.50" stroke="#b0b0b0" stroke-width="1.1"/><g clip-path="url(#c21)"><path d="M546.5 277.8 550.4 277.8 554.3 277.8 558.3 277.8 562.2 277.8 562.7 277.6 563.2 276.9 563.7 276.8 564.1 275.6 564.6 275.9 565.1 274.8 565.6 274.3 566.1 273.3 566.6 274.3 567.1 272.5 567.6 273.9 568.1 272.3 568.6 272.0 569.0 274.2 569.5 274.5 570.0 273.6 570.5 274.1 571.0 274.1 571.5 275.2 572.0 273.5 572.5 275.0 573.0 274.8 573.5 274.2 573.9 272.8 574.4 272.8 574.9 274.9 575.4 275.0 575.9 273.9 576.4 274.6 576.9 271.4 577.4 272.3 577.9 270.5 578.4 266.0 578.8 268.1 579.3 268.3 579.8 268.6 580.3 265.4 580.8 268.1 581.3 268.7 581.8 265.1 582.3 266.4 582.8 269.4 583.3 269.8 583.8 267.0 584.2 269.8 584.7 270.1 585.2 269.8 585.7 266.5 586.2 269.6 586.7 269.6 587.2 269.8 587.7 266.5 588.2 266.5 588.7 270.4 589.1 271.3 589.6 269.2 590.1 272.1 590.6 271.4 591.1 271.5 591.6 270.0 592.1 272.4 592.6 272.4 593.1 272.2 593.6 271.6 594.0 273.5 594.5 273.9 595.0 273.8 595.5 272.3 596.0 274.0 596.5 272.4 597.0 273.8 597.5 273.7 598.0 273.7 598.5 271.7 598.9 272.1 599.4 273.2 599.9 273.2 600.4 272.3 600.9 271.8 601.4 270.6 601.9 273.2 602.4 273.7 602.9 273.7 603.4 273.3 603.8 274.9 604.3 274.4 604.8 274.2 605.3 272.1 605.8 273.6 606.3 274.2 606.8 274.3 607.3 273.2 607.8 273.8 608.3 274.6 608.7 274.6 609.2 274.7 609.7 274.6 610.2 274.7 610.7 274.6 611.2 273.0 611.7 274.6 612.2 274.8 612.7 275.1 613.2 275.5 613.7 275.7 614.1 274.5 614.6 275.5 615.1 274.2 615.6 275.6 616.1 275.1 616.6 275.7 617.1 274.9 617.6 275.9 618.1 276.0 618.6 275.3 619.0 276.0 619.5 275.3 620.0 275.8 620.5 275.8 621.0 275.0 621.5 275.3 622.0 275.9 622.5 276.1 623.0 276.0 623.5 275.8 623.9 276.3 624.4 276.4 624.9 275.6 625.4 276.5 625.9 276.2 626.4 276.4 626.9 276.5 627.4 276.1 627.9 276.1 628.4 276.4 628.8 276.4 629.3 276.4 629.8 276.1 630.3 276.6 630.8 275.9 631.3 276.5 631.8 276.7 632.3 276.5 632.8 276.3 633.3 276.3 633.7 276.7 634.2 276.7 634.7 276.7 635.2 276.6 635.7 276.6 636.2 276.8 636.7 276.1 637.2 276.7 637.7 276.8 638.2 276.4 638.6 276.9 639.1 276.9 639.6 276.5 640.1 276.1 640.6 276.9 641.1 276.6 641.6 276.9 642.1 276.9 642.6 276.3 643.1 276.3 643.5 276.8 644.0 276.6 644.5 276.4 645.0 276.3 645.5 276.8 646.0 277.0 646.5 277.0 647.0 276.6 647.5 277.0 648.0 277.0 648.5 277.0 648.9 277.1 649.4 277.1 649.9 276.4 650.4 277.1 650.9 277.1 651.4 277.2 651.9 276.5 652.4 276.8 652.9 277.0 653.4 276.6 653.8 277.1 654.3 276.6 654.8 277.1 655.3 276.8 655.8 277.1 656.3 277.2 656.8 276.9 657.3 277.2 657.8 277.1 658.3 276.8 658.7 277.2 659.2 277.2 659.7 277.1 660.2 277.2 660.7 277.0 661.2 277.3 661.7 277.2 662.2 277.2 662.7 277.2 663.2 276.7 663.6 277.2 664.1 277.3 664.6 277.3 665.1 277.1 665.6 277.2 666.1 277.3 666.6 277.3 667.1 277.0 667.6 276.8 668.1 277.3 668.5 277.1 669.0 276.8 669.5 277.2 670.0 276.9 670.5 276.8 671.0 277.3 671.5 277.3 672.0 276.9 672.5 277.3 673.0 277.2 673.4 276.8 673.9 277.2 674.4 277.3 674.9 277.3 675.4 276.9 675.9 277.0 676.4 277.3 676.9 277.4 677.4 277.2 677.9 277.5 678.4 277.5 678.8 277.2 679.3 277.4 679.8 277.5 680.3 277.2 680.8 277.4 681.3 277.2 681.8 277.3 682.3 277.5 682.8 277.1 683.3 277.4 683.7 277.0 684.2 277.0 684.7 277.5 685.2 277.5 685.7 277.3 686.2 277.0 686.7 277.5 687.2 277.5 687.7 277.4 688.2 277.5 688.6 277.5 689.1 277.5 689.6 277.4 690.1 277.5 690.6 277.6 691.1 277.6 691.6 277.2 692.1 277.1 692.6 277.6 693.1 277.3 693.5 277.6 694.0 277.6 694.5 277.7 695.0 277.5 695.5 277.6 696.0 277.6 696.5 277.1 697.0 277.6 697.5 277.6 698.0 277.4 698.4 277.7 698.9 277.7 699.4 277.6 699.9 277.4 700.4 277.4 700.9 277.4 701.4 277.5 701.9 277.4 702.4 277.5 702.9 277.4 703.3 277.4 703.8 277.5 704.3 277.5 704.8 277.5 705.3 277.5 705.8 277.4 706.3 277.5 706.8 277.6 707.3 277.5 707.8 277.5 708.2 277.5 708.7 277.5 709.2 277.6 709.7 277.5 710.2 277.6 710.7 277.6 711.2 277.5 711.7 277.6 712.2 277.5 712.7 277.5 713.2 277.6 713.6 277.6 714.1 277.7 714.6 277.6 715.1 277.6 715.6 277.6 716.1 277.6 716.6 277.7 717.1 277.6 717.6 277.6 718.1 277.7 718.5 277.7 719.0 277.7 719.5 277.7 720.0 277.6 720.5 277.7 721.0 277.6 721.5 277.7 722.0 277.7 722.5 277.6 723.0 277.7 723.4 277.7 723.9 277.7 724.4 277.7 724.9 277.7 725.4 277.7 725.9 277.8 726.4 277.8 726.9 277.8 727.4 277.8 727.9 277.8 728.3 277.8 728.8 277.7 729.3 277.8 729.8 277.8 730.3 277.7 730.8 277.8 731.3 277.8 731.8 277.8 732.3 277.8 732.8 277.8 733.2 277.8 733.7 277.8 734.2 277.8 734.7 277.8 735.2 277.8 735.7 277.8 736.2 277.8 736.7 277.8 737.2 277.8 737.7 277.8 738.1 277.8 738.6 277.8 739.1 277.8 739.6 277.8 740.1 277.8 740.6 277.8 741.1 277.8 741.6 277.8 742.1 277.8 742.6 277.8 746.5 277.8 750.4 277.8 754.3 277.8 758.2 277.8 762.2 277.8 766.1 277.8 770.0 277.8 773.9 277.8 777.9 277.8 781.8 277.8 785.7 277.8 789.6 277.8 793.5 277.8 797.5 277.8 801.4 277.8 805.3 277.8 809.2 277.8 813.1 277.8 817.1 277.8 821.0 277.8 824.9 277.8 828.8 277.8 832.7 277.8 836.7 277.8 840.6 277.8 844.5 277.8 848.4 277.8 852.4 277.8 856.3 277.8 860.2 277.8 864.1 277.8 868.0 277.8 869.7 277.8 869.7 278.8 868.0 278.8 864.1 278.8 860.2 278.8 856.3 278.8 852.4 278.8 848.4 278.8 844.5 278.8 840.6 278.8 836.7 278.8 832.7 278.8 828.8 278.8 824.9 278.8 821.0 278.8 817.1 278.8 813.1 278.8 809.2 278.8 805.3 278.8 801.4 278.8 797.5 278.8 793.5 278.8 789.6 278.8 785.7 278.8 781.8 278.8 777.9 278.8 773.9 278.8 770.0 278.8 766.1 278.8 762.2 278.8 758.2 278.8 754.3 278.8 750.4 278.8 746.5 278.8 742.6 278.8 742.1 278.8 741.6 278.8 741.1 278.8 740.6 278.8 740.1 278.8 739.6 278.8 739.1 278.8 738.6 278.8 738.1 278.8 737.7 278.8 737.2 278.8 736.7 278.8 736.2 278.8 735.7 278.8 735.2 278.8 734.7 278.8 734.2 278.8 733.7 278.8 733.2 278.8 732.8 278.8 732.3 278.8 731.8 278.8 731.3 278.8 730.8 278.8 730.3 278.8 729.8 278.8 729.3 278.8 728.8 278.8 728.3 278.9 727.9 278.9 727.4 278.9 726.9 278.8 726.4 278.8 725.9 278.9 725.4 278.9 724.9 278.9 724.4 278.9 723.9 278.9 723.4 278.9 723.0 278.9 722.5 278.9 722.0 279.0 721.5 278.9 721.0 278.9 720.5 279.0 720.0 278.9 719.5 278.9 719.0 278.9 718.5 278.9 718.1 279.0 717.6 279.0 717.1 279.0 716.6 278.9 716.1 279.0 715.6 279.0 715.1 279.0 714.6 279.0 714.1 279.0 713.6 279.0 713.2 279.0 712.7 279.0 712.2 279.0 711.7 279.1 711.2 279.0 710.7 279.0 710.2 279.0 709.7 279.0 709.2 279.1 708.7 279.1 708.2 279.0 707.8 279.1 707.3 279.2 706.8 279.2 706.3 279.1 705.8 279.1 705.3 279.1 704.8 279.2 704.3 279.1 703.8 279.1 703.3 279.1 702.9 279.1 702.4 279.2 701.9 279.2 701.4 279.2 700.9 279.1 700.4 279.3 699.9 279.0 699.4 278.9 698.9 279.0 698.4 279.3 698.0 279.0 697.5 279.0 697.0 279.1 696.5 279.2 696.0 279.0 695.5 279.0 695.0 278.9 694.5 279.1 694.0 278.9 693.5 279.0 693.1 279.0 692.6 279.0 692.1 279.2 691.6 279.0 691.1 279.5 690.6 279.1 690.1 279.5 689.6 279.2 689.1 279.1 688.6 279.0 688.2 279.3 687.7 279.6 687.2 279.0 686.7 279.1 686.2 279.0 685.7 279.3 685.2 279.2 684.7 279.1 684.2 279.1 683.7 279.6 683.3 279.4 682.8 279.1 682.3 279.1 681.8 279.1 681.3 279.1 680.8 279.4 680.3 279.2 679.8 279.2 679.3 279.3 678.8 279.2 678.4 279.2 677.9 279.2 677.4 279.2 676.9 279.4 676.4 279.3 675.9 279.5 675.4 279.5 674.9 279.3 674.4 279.2 673.9 279.3 673.4 279.9 673.0 279.2 672.5 279.2 672.0 279.2 671.5 279.5 671.0 279.5 670.5 279.3 670.0 279.3 669.5 279.4 669.0 279.8 668.5 279.3 668.1 279.7 667.6 279.3 667.1 279.3 666.6 280.0 666.1 279.3 665.6 279.3 665.1 279.3 664.6 280.0 664.1 279.4 663.6 279.3 663.2 279.4 662.7 279.4 662.2 279.9 661.7 279.4 661.2 279.3 660.7 279.8 660.2 280.0 659.7 279.3 659.2 279.9 658.7 279.5 658.3 279.3 657.8 279.4 657.3 280.0 656.8 279.4 656.3 279.4 655.8 279.4 655.3 279.4 654.8 279.9 654.3 280.0 653.8 279.5 653.4 279.5 652.9 279.8 652.4 279.8 651.9 279.5 651.4 279.6 650.9 279.5 650.4 279.9 649.9 279.7 649.4 279.6 648.9 280.1 648.5 279.5 648.0 279.6 647.5 279.7 647.0 279.7 646.5 279.6 646.0 279.6 645.5 279.9 645.0 279.6 644.5 280.2 644.0 279.6 643.5 279.6 643.1 280.0 642.6 279.6 642.1 279.7 641.6 279.7 641.1 280.2 640.6 279.8 640.1 279.7 639.6 280.4 639.1 279.8 638.6 279.8 638.2 279.7 637.7 280.5 637.2 279.8 636.7 280.4 636.2 279.8 635.7 279.7 635.2 280.5 634.7 279.9 634.2 279.8 633.7 279.8 633.3 279.8 632.8 280.3 632.3 279.9 631.8 279.9 631.3 280.5 630.8 280.6 630.3 279.9 629.8 280.0 629.3 280.0 628.8 281.1 628.4 280.1 627.9 280.1 627.4 280.5 626.9 280.2 626.4 280.1 625.9 280.2 625.4 280.2 624.9 281.1 624.4 280.2 623.9 280.4 623.5 280.4 623.0 281.3 622.5 280.4 622.0 281.2 621.5 280.6 621.0 281.4 620.5 280.5 620.0 280.3 619.5 281.3 619.0 280.5 618.6 280.8 618.1 280.5 617.6 280.4 617.1 281.2 616.6 280.4 616.1 281.3 615.6 281.3 615.1 280.7 614.6 280.7 614.1 281.5 613.7 280.5 613.2 280.6 612.7 281.5 612.2 280.6 611.7 280.8 611.2 282.0 610.7 280.9 610.2 281.1 609.7 282.1 609.2 281.3 608.7 281.5 608.3 281.9 607.8 281.4 607.3 283.0 606.8 284.0 606.3 282.7 605.8 283.1 605.3 285.0 604.8 282.9 604.3 284.1 603.8 281.6 603.4 282.8 602.9 281.6 602.4 282.5 601.9 281.4 601.4 282.9 600.9 282.1 600.4 283.4 599.9 283.2 599.4 282.9 598.9 284.5 598.5 284.9 598.0 282.8 597.5 282.6 597.0 284.2 596.5 282.3 596.0 283.1 595.5 283.9 595.0 282.6 594.5 283.2 594.0 284.3 593.6 285.6 593.1 283.9 592.6 286.4 592.1 286.4 591.6 288.8 591.1 286.6 590.6 290.2 590.1 287.3 589.6 290.8 589.1 287.6 588.7 287.4 588.2 290.8 587.7 290.7 587.2 287.4 586.7 290.7 586.2 289.4 585.7 293.5 585.2 292.4 584.7 289.0 584.2 288.2 583.8 291.5 583.3 288.7 582.8 288.3 582.3 288.0 581.8 291.8 581.3 288.5 580.8 288.4 580.3 290.2 579.8 289.9 579.3 287.6 578.8 287.2 578.4 290.7 577.9 285.8 577.4 284.5 576.9 284.6 576.4 282.2 575.9 281.8 575.4 281.3 574.9 281.7 574.4 280.5 573.9 281.4 573.5 280.7 573.0 281.2 572.5 280.3 572.0 281.4 571.5 281.1 571.0 280.8 570.5 281.3 570.0 282.6 569.5 281.5 569.0 283.1 568.6 282.2 568.1 283.4 567.6 281.9 567.1 281.2 566.6 281.5 566.1 281.7 565.6 280.6 565.1 280.8 564.6 280.5 564.1 280.9 563.7 279.8 563.2 279.8 562.7 279.0 562.2 278.8 558.3 278.8 554.3 278.8 550.4 278.8 546.5 278.8Z" fill="#000" stroke="#000" stroke-width="1" stroke-linejoin="round"/><rect x="579.46" y="253.90" width="2.40" height="52.00" fill="#000"/></g><line x1="546.50" y1="305.50" x2="546.50" y2="310.70" stroke="#000" stroke-width="1.1"/><text class="s" x="543.62" y="322.80" font-size="11.28" textLength="5.71" lengthAdjust="spacingAndGlyphs">0</text><line x1="595.50" y1="305.50" x2="595.50" y2="310.70" stroke="#000" stroke-width="1.1"/><text class="s" x="589.20" y="322.80" font-size="11.28" textLength="12.65" lengthAdjust="spacingAndGlyphs">50</text><line x1="644.50" y1="305.50" x2="644.50" y2="310.70" stroke="#000" stroke-width="1.1"/><text class="s" x="634.67" y="322.80" font-size="11.28" textLength="19.74" lengthAdjust="spacingAndGlyphs">100</text><line x1="693.50" y1="305.50" x2="693.50" y2="310.70" stroke="#000" stroke-width="1.1"/><text class="s" x="683.67" y="322.80" font-size="11.28" textLength="19.74" lengthAdjust="spacingAndGlyphs">150</text><line x1="742.50" y1="305.50" x2="742.50" y2="310.70" stroke="#000" stroke-width="1.1"/><text class="s" x="732.58" y="322.80" font-size="11.28" textLength="19.83" lengthAdjust="spacingAndGlyphs">200</text><line x1="791.50" y1="305.50" x2="791.50" y2="310.70" stroke="#000" stroke-width="1.1"/><text class="s" x="781.58" y="322.80" font-size="11.28" textLength="19.83" lengthAdjust="spacingAndGlyphs">250</text><line x1="840.50" y1="305.50" x2="840.50" y2="310.70" stroke="#000" stroke-width="1.1"/><text class="s" x="830.70" y="322.80" font-size="11.28" textLength="19.71" lengthAdjust="spacingAndGlyphs">300</text><line x1="541.30" y1="254.50" x2="546.50" y2="254.50" stroke="#000" stroke-width="1.1"/><text class="s" x="493.90" y="258.55" font-size="11.28" textLength="40.89" lengthAdjust="spacingAndGlyphs">5.0e-04</text><line x1="541.30" y1="278.50" x2="546.50" y2="278.50" stroke="#000" stroke-width="1.1"/><text class="s" x="488.54" y="282.55" font-size="11.28" textLength="46.21" lengthAdjust="spacingAndGlyphs">0.0e+00</text><line x1="541.30" y1="302.50" x2="546.50" y2="302.50" stroke="#000" stroke-width="1.1"/><text class="s" x="489.61" y="306.55" font-size="11.28" textLength="45.15" lengthAdjust="spacingAndGlyphs">-5.0e-04</text><rect x="546.50" y="253.50" width="323.00" height="52.00" fill="none" stroke="#000" stroke-width="1.2"/>
<line x1="1015.50" y1="253.50" x2="1015.50" y2="305.50" stroke="#b0b0b0" stroke-width="1.1"/><line x1="1064.50" y1="253.50" x2="1064.50" y2="305.50" stroke="#b0b0b0" stroke-width="1.1"/><line x1="1113.50" y1="253.50" x2="1113.50" y2="305.50" stroke="#b0b0b0" stroke-width="1.1"/><line x1="1162.50" y1="253.50" x2="1162.50" y2="305.50" stroke="#b0b0b0" stroke-width="1.1"/><line x1="1211.50" y1="253.50" x2="1211.50" y2="305.50" stroke="#b0b0b0" stroke-width="1.1"/><line x1="1260.50" y1="253.50" x2="1260.50" y2="305.50" stroke="#b0b0b0" stroke-width="1.1"/><line x1="966.50" y1="264.50" x2="1288.50" y2="264.50" stroke="#b0b0b0" stroke-width="1.1"/><line x1="966.50" y1="282.50" x2="1288.50" y2="282.50" stroke="#b0b0b0" stroke-width="1.1"/><line x1="966.50" y1="300.50" x2="1288.50" y2="300.50" stroke="#b0b0b0" stroke-width="1.1"/><g clip-path="url(#c22)"><path d="M966.5 281.9 967.0 281.6 967.5 281.7 968.0 281.6 968.5 281.7 969.0 281.7 969.4 281.6 969.9 281.7 970.4 281.7 970.9 281.7 971.4 281.7 971.9 281.6 972.4 281.6 972.9 281.6 973.4 281.6 973.9 281.6 974.3 281.7 974.8 281.7 975.3 281.6 975.8 281.6 976.3 281.6 976.8 281.6 977.3 281.6 977.8 281.6 978.3 281.7 978.8 281.6 979.2 281.7 979.7 281.7 980.2 281.6 980.7 281.6 981.2 281.6 981.7 281.7 982.2 281.6 982.7 281.5 983.2 279.8 983.7 278.4 984.1 275.0 984.6 276.1 985.1 274.5 985.6 276.0 986.1 272.8 986.6 275.5 987.1 274.4 987.6 274.8 988.1 273.8 988.6 275.9 989.0 276.0 989.5 276.3 990.0 274.1 990.5 275.3 991.0 275.0 991.5 276.4 992.0 273.4 992.5 276.0 993.0 274.1 993.5 272.4 993.9 271.2 994.4 274.4 994.9 272.9 995.4 275.1 995.9 273.8 996.4 273.2 996.9 275.6 997.4 272.4 997.9 272.4 998.4 267.2 998.8 270.0 999.3 269.7 999.8 265.5 1000.3 270.4 1000.8 269.7 1001.3 266.1 1001.8 266.3 1002.3 270.1 1002.8 266.2 1003.3 271.2 1003.8 271.7 1004.2 270.6 1004.7 274.4 1005.2 271.3 1005.7 269.1 1006.2 272.5 1006.7 272.7 1007.2 270.1 1007.7 269.5 1008.2 273.3 1008.7 274.1 1009.1 274.8 1009.6 272.6 1010.1 276.0 1010.6 276.4 1011.1 276.3 1011.6 273.4 1012.1 273.4 1012.6 275.3 1013.1 275.0 1013.6 271.6 1014.0 273.4 1014.5 271.0 1015.0 271.0 1015.5 273.0 1016.0 274.2 1016.5 273.1 1017.0 276.3 1017.5 276.6 1018.0 275.8 1018.5 274.9 1018.9 277.2 1019.4 276.0 1019.9 277.6 1020.4 277.6 1020.9 277.1 1021.4 276.0 1021.9 278.0 1022.4 278.0 1022.9 275.6 1023.4 277.7 1023.8 277.5 1024.3 275.6 1024.8 277.6 1025.3 278.1 1025.8 277.9 1026.3 278.1 1026.8 276.6 1027.3 276.6 1027.8 278.4 1028.3 278.8 1028.7 277.3 1029.2 278.9 1029.7 279.0 1030.2 277.8 1030.7 279.3 1031.2 279.4 1031.7 279.4 1032.2 278.6 1032.7 279.6 1033.2 278.8 1033.7 279.9 1034.1 279.6 1034.6 278.9 1035.1 279.3 1035.6 279.1 1036.1 277.6 1036.6 279.0 1037.1 279.2 1037.6 278.0 1038.1 279.7 1038.6 279.9 1039.0 278.8 1039.5 279.4 1040.0 280.1 1040.5 280.2 1041.0 279.5 1041.5 280.0 1042.0 280.1 1042.5 280.3 1043.0 279.4 1043.5 280.0 1043.9 280.4 1044.4 280.4 1044.9 280.4 1045.4 280.1 1045.9 280.5 1046.4 280.5 1046.9 279.8 1047.4 280.6 1047.9 280.6 1048.4 280.2 1048.8 279.8 1049.3 280.7 1049.8 280.7 1050.3 280.4 1050.8 280.1 1051.3 280.7 1051.8 280.7 1052.3 280.0 1052.8 280.5 1053.3 280.7 1053.7 279.9 1054.2 280.6 1054.7 280.7 1055.2 280.6 1055.7 280.6 1056.2 279.8 1056.7 279.8 1057.2 280.6 1057.7 280.7 1058.2 280.3 1058.6 280.3 1059.1 280.8 1059.6 280.4 1060.1 280.6 1060.6 280.6 1061.1 280.1 1061.6 280.4 1062.1 280.6 1062.6 280.5 1063.1 280.2 1063.5 280.8 1064.0 280.8 1064.5 280.0 1065.0 280.7 1065.5 280.8 1066.0 280.4 1066.5 280.7 1067.0 280.8 1067.5 280.0 1068.0 280.8 1068.5 280.3 1068.9 280.8 1069.4 280.8 1069.9 280.7 1070.4 280.2 1070.9 280.9 1071.4 280.9 1071.9 280.0 1072.4 280.9 1072.9 280.9 1073.4 280.8 1073.8 280.9 1074.3 280.1 1074.8 280.9 1075.3 280.9 1075.8 280.8 1076.3 280.8 1076.8 280.5 1077.3 280.8 1077.8 280.0 1078.3 280.8 1078.7 280.8 1079.2 280.8 1079.7 280.3 1080.2 280.4 1080.7 280.6 1081.2 280.4 1081.7 280.5 1082.2 280.7 1082.7 280.6 1083.2 280.3 1083.6 280.2 1084.1 280.6 1084.6 280.6 1085.1 280.6 1085.6 280.5 1086.1 279.6 1086.6 280.5 1087.1 280.6 1087.6 280.3 1088.1 280.6 1088.5 280.7 1089.0 280.8 1089.5 280.1 1090.0 280.8 1090.5 280.8 1091.0 280.9 1091.5 280.2 1092.0 280.6 1092.5 281.0 1093.0 281.0 1093.4 280.7 1093.9 280.4 1094.4 280.8 1094.9 280.7 1095.4 281.2 1095.9 281.2 1096.4 280.7 1096.9 281.2 1097.4 281.2 1097.9 280.9 1098.4 280.8 1098.8 281.3 1099.3 281.1 1099.8 280.8 1100.3 281.3 1100.8 281.3 1101.3 281.4 1101.8 281.2 1102.3 281.0 1102.8 281.4 1103.3 281.4 1103.7 280.8 1104.2 281.4 1104.7 280.9 1105.2 281.5 1105.7 281.5 1106.2 280.8 1106.7 281.3 1107.2 281.1 1107.7 281.4 1108.2 281.4 1108.6 281.5 1109.1 281.4 1109.6 281.2 1110.1 281.5 1110.6 281.5 1111.1 281.3 1111.6 281.6 1112.1 281.5 1112.6 281.1 1113.1 281.4 1113.5 281.5 1114.0 281.6 1114.5 281.4 1115.0 281.6 1115.5 281.6 1116.0 281.7 1116.5 281.4 1117.0 281.6 1117.5 281.6 1118.0 281.7 1118.4 281.3 1118.9 281.5 1119.4 281.7 1119.9 281.7 1120.4 281.4 1120.9 281.7 1121.4 281.7 1121.9 281.6 1122.4 281.3 1122.9 281.6 1123.3 281.8 1123.8 281.7 1124.3 281.5 1124.8 281.8 1125.3 281.7 1125.8 281.7 1126.3 281.8 1126.8 281.5 1127.3 281.8 1127.8 281.7 1128.2 281.8 1128.7 281.4 1129.2 281.5 1129.7 281.6 1130.2 281.5 1130.7 281.5 1131.2 281.6 1131.7 281.5 1132.2 281.6 1132.7 281.5 1133.2 281.6 1133.6 281.5 1134.1 281.5 1134.6 281.6 1135.1 281.6 1135.6 281.6 1136.1 281.6 1136.6 281.6 1137.1 281.6 1137.6 281.7 1138.1 281.6 1138.5 281.6 1139.0 281.6 1139.5 281.7 1140.0 281.6 1140.5 281.6 1141.0 281.7 1141.5 281.7 1142.0 281.7 1142.5 281.6 1143.0 281.7 1143.4 281.7 1143.9 281.7 1144.4 281.6 1144.9 281.6 1145.4 281.6 1145.9 281.6 1146.4 281.6 1146.9 281.7 1147.4 281.7 1147.9 281.7 1148.3 281.6 1148.8 281.6 1149.3 281.6 1149.8 281.7 1150.3 281.7 1150.8 281.7 1151.3 281.7 1151.8 281.6 1152.3 281.7 1152.8 281.7 1153.2 281.7 1153.7 281.7 1154.2 281.7 1154.7 281.6 1155.2 281.6 1155.7 281.6 1156.2 281.7 1156.7 281.7 1157.2 281.7 1157.7 281.6 1158.1 281.7 1158.6 281.7 1159.1 281.7 1159.6 281.6 1160.1 281.6 1160.6 281.7 1161.1 281.7 1161.6 281.6 1162.1 281.7 1162.6 281.6 1163.1 281.7 1163.5 281.7 1164.0 281.7 1164.5 281.6 1165.0 281.7 1165.5 281.7 1166.0 281.7 1166.5 281.6 1167.0 281.7 1167.5 281.6 1168.0 281.6 1168.4 281.7 1168.9 281.7 1169.4 281.7 1169.9 281.6 1170.4 281.6 1170.9 281.7 1171.4 281.7 1171.9 281.7 1172.4 281.7 1172.9 281.7 1173.3 281.7 1173.8 281.6 1174.3 281.7 1174.8 281.7 1175.3 281.7 1175.8 281.7 1176.3 281.6 1176.8 281.7 1177.3 281.7 1177.8 281.8 1178.2 281.7 1178.7 281.7 1179.2 281.7 1179.7 281.7 1180.2 281.7 1180.7 281.6 1181.2 281.7 1181.7 281.7 1182.2 281.7 1182.7 281.7 1183.1 281.7 1183.6 281.7 1184.1 281.7 1184.6 281.7 1185.1 281.8 1185.6 281.8 1186.1 281.7 1186.6 281.8 1187.1 281.8 1187.6 281.8 1188.0 281.8 1188.5 281.7 1189.0 281.7 1189.5 281.8 1190.0 281.8 1190.5 281.7 1191.0 281.8 1191.5 281.8 1192.0 281.8 1192.5 281.7 1192.9 281.7 1193.4 281.8 1193.9 281.7 1194.4 281.7 1194.9 281.7 1195.4 281.8 1195.9 281.8 1196.4 281.7 1196.9 281.8 1197.4 281.7 1197.9 281.8 1198.3 281.7 1198.8 281.8 1199.3 281.8 1199.8 281.7 1200.3 281.7 1200.8 281.8 1201.3 281.7 1201.8 281.8 1202.3 281.8 1202.8 281.8 1203.2 281.7 1203.7 281.7 1204.2 281.8 1204.7 281.7 1205.2 281.7 1205.7 281.7 1206.2 281.8 1206.7 281.8 1207.2 281.7 1207.7 281.8 1208.1 281.8 1208.6 281.8 1209.1 281.8 1209.6 281.7 1210.1 281.7 1210.6 281.7 1211.1 281.8 1211.6 281.7 1212.1 281.8 1212.6 281.7 1213.0 281.8 1213.5 281.8 1214.0 281.8 1214.5 281.8 1215.0 281.8 1215.5 281.7 1216.0 281.7 1216.5 281.8 1217.0 281.8 1217.5 281.8 1217.9 281.8 1218.4 281.8 1218.9 281.8 1219.4 281.7 1219.9 281.8 1220.4 281.8 1220.9 281.8 1221.4 281.8 1221.9 281.7 1222.4 281.7 1222.8 281.8 1223.3 281.8 1223.8 281.8 1224.3 281.7 1224.8 281.8 1225.3 281.8 1225.8 281.7 1226.3 281.8 1226.8 281.7 1227.3 281.8 1227.7 281.8 1228.2 281.8 1228.7 281.7 1229.2 281.8 1229.7 281.8 1230.2 281.8 1230.7 281.7 1231.2 281.8 1231.7 281.8 1232.2 281.8 1232.7 281.7 1233.1 281.8 1233.6 281.7 1234.1 281.8 1234.6 281.8 1235.1 281.8 1235.6 281.8 1236.1 281.7 1236.6 281.8 1237.1 281.8 1237.6 281.8 1238.0 281.8 1238.5 281.8 1239.0 281.8 1239.5 281.8 1240.0 281.8 1240.5 281.8 1241.0 281.9 1241.5 281.8 1242.0 281.8 1242.5 281.8 1242.9 281.8 1243.4 281.9 1243.9 281.8 1244.4 281.8 1244.9 281.8 1245.4 281.8 1245.9 281.8 1246.4 281.8 1246.9 281.8 1247.4 281.8 1247.8 281.9 1248.3 281.8 1248.8 281.9 1249.3 281.8 1249.8 281.9 1250.3 281.8 1250.8 281.8 1251.3 281.8 1251.8 281.9 1252.3 281.9 1252.7 281.9 1253.2 281.8 1253.7 281.8 1254.2 281.9 1254.7 281.9 1255.2 281.8 1255.7 281.8 1256.2 281.9 1256.7 281.9 1257.2 281.8 1257.6 281.9 1258.1 281.9 1258.6 281.8 1259.1 281.9 1259.6 281.9 1260.1 281.8 1260.6 281.8 1261.1 281.9 1261.6 281.8 1262.1 281.8 1262.6 281.9 1263.0 281.9 1263.5 281.9 1264.0 281.9 1264.5 281.8 1265.0 281.8 1265.5 281.9 1266.0 281.8 1266.5 281.8 1267.0 281.8 1267.5 281.9 1267.9 281.9 1268.4 281.9 1268.9 281.9 1269.4 281.9 1269.9 281.9 1270.4 281.8 1270.9 281.8 1271.4 281.9 1271.9 281.8 1272.4 281.9 1272.8 281.9 1273.3 281.9 1273.8 281.8 1274.3 281.9 1274.8 281.9 1275.3 281.9 1275.8 281.9 1276.3 281.9 1276.8 281.8 1277.3 281.8 1277.7 281.9 1278.2 281.9 1278.7 281.9 1279.2 281.9 1279.7 281.9 1280.2 281.9 1280.7 281.9 1281.2 281.8 1281.7 281.9 1282.2 281.9 1282.6 281.9 1283.1 281.9 1283.6 281.8 1284.1 281.9 1284.6 281.8 1285.1 281.9 1285.6 281.9 1286.1 281.9 1286.6 281.9 1287.1 281.8 1287.5 281.9 1288.0 281.9 1288.5 281.9 1289.0 281.9 1289.5 281.9 1289.7 281.9 1289.7 282.9 1289.5 282.9 1289.0 282.9 1288.5 282.9 1288.0 282.9 1287.5 282.9 1287.1 282.9 1286.6 282.9 1286.1 282.9 1285.6 282.9 1285.1 282.9 1284.6 282.9 1284.1 282.9 1283.6 282.9 1283.1 283.0 1282.6 283.0 1282.2 283.0 1281.7 282.9 1281.2 282.9 1280.7 282.9 1280.2 283.0 1279.7 283.0 1279.2 283.0 1278.7 283.0 1278.2 283.0 1277.7 282.9 1277.3 283.0 1276.8 283.0 1276.3 282.9 1275.8 283.0 1275.3 282.9 1274.8 283.0 1274.3 283.0 1273.8 282.9 1273.3 282.9 1272.8 282.9 1272.4 283.0 1271.9 282.9 1271.4 282.9 1270.9 282.9 1270.4 282.9 1269.9 282.9 1269.4 282.9 1268.9 282.9 1268.4 282.9 1267.9 283.0 1267.5 282.9 1267.0 282.9 1266.5 283.0 1266.0 282.9 1265.5 283.0 1265.0 283.0 1264.5 283.0 1264.0 283.0 1263.5 283.0 1263.0 283.0 1262.6 283.0 1262.1 283.0 1261.6 282.9 1261.1 282.9 1260.6 282.9 1260.1 283.0 1259.6 282.9 1259.1 282.9 1258.6 283.0 1258.1 282.9 1257.6 282.9 1257.2 283.0 1256.7 283.0 1256.2 283.0 1255.7 282.9 1255.2 283.0 1254.7 282.9 1254.2 283.0 1253.7 283.0 1253.2 282.9 1252.7 283.0 1252.3 282.9 1251.8 282.9 1251.3 282.9 1250.8 283.0 1250.3 283.0 1249.8 283.0 1249.3 283.0 1248.8 282.9 1248.3 283.0 1247.8 283.0 1247.4 282.9 1246.9 283.0 1246.4 283.0 1245.9 283.0 1245.4 283.0 1244.9 283.0 1244.4 283.0 1243.9 283.0 1243.4 283.0 1242.9 283.0 1242.5 283.0 1242.0 283.0 1241.5 283.0 1241.0 283.0 1240.5 283.0 1240.0 282.9 1239.5 283.0 1239.0 282.9 1238.5 283.0 1238.0 283.0 1237.6 283.0 1237.1 283.0 1236.6 283.0 1236.1 283.0 1235.6 283.0 1235.1 283.0 1234.6 283.0 1234.1 283.0 1233.6 283.0 1233.1 283.1 1232.7 283.0 1232.2 283.1 1231.7 283.0 1231.2 283.0 1230.7 283.0 1230.2 283.0 1229.7 283.0 1229.2 283.0 1228.7 283.0 1228.2 283.0 1227.7 283.0 1227.3 283.0 1226.8 283.0 1226.3 283.0 1225.8 283.0 1225.3 283.0 1224.8 283.0 1224.3 283.0 1223.8 283.0 1223.3 283.1 1222.8 283.0 1222.4 283.1 1221.9 283.0 1221.4 283.1 1220.9 283.0 1220.4 283.0 1219.9 283.0 1219.4 283.1 1218.9 283.0 1218.4 283.0 1217.9 283.0 1217.5 283.1 1217.0 283.0 1216.5 283.0 1216.0 283.0 1215.5 283.0 1215.0 283.0 1214.5 283.1 1214.0 283.1 1213.5 283.0 1213.0 283.0 1212.6 283.1 1212.1 283.1 1211.6 283.0 1211.1 283.0 1210.6 283.0 1210.1 283.0 1209.6 283.1 1209.1 283.1 1208.6 283.0 1208.1 283.1 1207.7 283.0 1207.2 283.0 1206.7 283.0 1206.2 283.1 1205.7 283.0 1205.2 283.0 1204.7 283.1 1204.2 283.0 1203.7 283.0 1203.2 283.0 1202.8 283.1 1202.3 283.0 1201.8 283.1 1201.3 283.0 1200.8 283.1 1200.3 283.1 1199.8 283.0 1199.3 283.1 1198.8 283.0 1198.3 283.1 1197.9 283.1 1197.4 283.1 1196.9 283.0 1196.4 283.0 1195.9 283.1 1195.4 283.1 1194.9 283.1 1194.4 283.0 1193.9 283.1 1193.4 283.0 1192.9 283.1 1192.5 283.0 1192.0 283.1 1191.5 283.1 1191.0 283.1 1190.5 283.0 1190.0 283.1 1189.5 283.1 1189.0 283.1 1188.5 283.1 1188.0 283.1 1187.6 283.1 1187.1 283.1 1186.6 283.1 1186.1 283.0 1185.6 283.0 1185.1 283.1 1184.6 283.1 1184.1 283.1 1183.6 283.1 1183.1 283.1 1182.7 283.1 1182.2 283.1 1181.7 283.0 1181.2 283.1 1180.7 283.1 1180.2 283.1 1179.7 283.1 1179.2 283.1 1178.7 283.1 1178.2 283.1 1177.8 283.1 1177.3 283.1 1176.8 283.1 1176.3 283.1 1175.8 283.0 1175.3 283.2 1174.8 283.1 1174.3 283.1 1173.8 283.1 1173.3 283.1 1172.9 283.1 1172.4 283.1 1171.9 283.1 1171.4 283.1 1170.9 283.1 1170.4 283.1 1169.9 283.1 1169.4 283.1 1168.9 283.1 1168.4 283.1 1168.0 283.1 1167.5 283.2 1167.0 283.1 1166.5 283.1 1166.0 283.1 1165.5 283.1 1165.0 283.2 1164.5 283.1 1164.0 283.1 1163.5 283.1 1163.1 283.1 1162.6 283.2 1162.1 283.1 1161.6 283.2 1161.1 283.1 1160.6 283.2 1160.1 283.1 1159.6 283.1 1159.1 283.1 1158.6 283.2 1158.1 283.1 1157.7 283.2 1157.2 283.1 1156.7 283.2 1156.2 283.2 1155.7 283.2 1155.2 283.1 1154.7 283.1 1154.2 283.1 1153.7 283.2 1153.2 283.2 1152.8 283.2 1152.3 283.2 1151.8 283.1 1151.3 283.1 1150.8 283.2 1150.3 283.1 1149.8 283.2 1149.3 283.1 1148.8 283.1 1148.3 283.2 1147.9 283.2 1147.4 283.2 1146.9 283.2 1146.4 283.2 1145.9 283.2 1145.4 283.2 1144.9 283.2 1144.4 283.1 1143.9 283.1 1143.4 283.1 1143.0 283.2 1142.5 283.2 1142.0 283.2 1141.5 283.2 1141.0 283.1 1140.5 283.2 1140.0 283.1 1139.5 283.2 1139.0 283.2 1138.5 283.2 1138.1 283.2 1137.6 283.1 1137.1 283.2 1136.6 283.2 1136.1 283.2 1135.6 283.3 1135.1 283.2 1134.6 283.2 1134.1 283.2 1133.6 283.2 1133.2 283.3 1132.7 283.2 1132.2 283.3 1131.7 283.3 1131.2 283.2 1130.7 283.3 1130.2 283.3 1129.7 283.3 1129.2 283.3 1128.7 283.3 1128.2 283.0 1127.8 283.0 1127.3 283.5 1126.8 283.1 1126.3 283.0 1125.8 283.3 1125.3 283.1 1124.8 283.0 1124.3 283.1 1123.8 283.4 1123.3 283.1 1122.9 283.2 1122.4 283.6 1121.9 283.1 1121.4 283.1 1120.9 283.3 1120.4 283.4 1119.9 283.1 1119.4 283.1 1118.9 283.1 1118.4 283.6 1118.0 283.1 1117.5 283.2 1117.0 283.1 1116.5 283.5 1116.0 283.1 1115.5 283.2 1115.0 283.2 1114.5 283.6 1114.0 283.3 1113.5 283.5 1113.1 283.5 1112.6 283.2 1112.1 283.3 1111.6 283.6 1111.1 283.6 1110.6 283.3 1110.1 283.3 1109.6 283.6 1109.1 283.4 1108.6 283.3 1108.2 283.5 1107.7 283.4 1107.2 283.3 1106.7 283.3 1106.2 283.9 1105.7 283.3 1105.2 283.4 1104.7 283.4 1104.2 283.8 1103.7 284.0 1103.3 283.4 1102.8 284.0 1102.3 283.5 1101.8 283.4 1101.3 283.5 1100.8 284.1 1100.3 284.0 1099.8 283.5 1099.3 283.6 1098.8 283.6 1098.4 283.7 1097.9 283.7 1097.4 283.6 1096.9 283.7 1096.4 283.6 1095.9 284.1 1095.4 283.7 1094.9 284.0 1094.4 283.7 1093.9 284.4 1093.4 284.2 1093.0 283.7 1092.5 284.3 1092.0 284.2 1091.5 283.7 1091.0 283.8 1090.5 283.7 1090.0 284.3 1089.5 283.8 1089.0 283.9 1088.5 283.8 1088.1 284.6 1087.6 284.2 1087.1 283.9 1086.6 284.5 1086.1 284.5 1085.6 283.9 1085.1 284.0 1084.6 284.7 1084.1 283.9 1083.6 283.9 1083.2 284.6 1082.7 283.9 1082.2 284.3 1081.7 283.9 1081.2 284.6 1080.7 283.9 1080.2 284.0 1079.7 284.3 1079.2 284.4 1078.7 284.0 1078.3 283.9 1077.8 284.3 1077.3 283.9 1076.8 283.9 1076.3 284.1 1075.8 284.6 1075.3 283.9 1074.8 283.9 1074.3 284.8 1073.8 283.9 1073.4 283.9 1072.9 284.0 1072.4 283.9 1071.9 284.3 1071.4 284.0 1070.9 284.0 1070.4 284.2 1069.9 283.9 1069.4 284.0 1068.9 284.0 1068.5 284.1 1068.0 284.4 1067.5 284.1 1067.0 284.3 1066.5 284.4 1066.0 284.0 1065.5 284.2 1065.0 284.2 1064.5 284.7 1064.0 284.1 1063.5 284.4 1063.1 284.0 1062.6 284.0 1062.1 284.1 1061.6 284.0 1061.1 284.3 1060.6 283.9 1060.1 284.4 1059.6 284.0 1059.1 283.8 1058.6 283.9 1058.2 283.8 1057.7 284.5 1057.2 283.8 1056.7 284.4 1056.2 283.9 1055.7 283.9 1055.2 283.8 1054.7 284.5 1054.2 284.3 1053.7 283.8 1053.3 283.8 1052.8 283.8 1052.3 284.5 1051.8 283.9 1051.3 283.8 1050.8 283.8 1050.3 283.9 1049.8 284.4 1049.3 283.9 1048.8 284.6 1048.4 283.8 1047.9 283.9 1047.4 284.0 1046.9 284.2 1046.4 284.7 1045.9 284.0 1045.4 284.6 1044.9 284.2 1044.4 284.0 1043.9 284.1 1043.5 284.8 1043.0 284.8 1042.5 284.1 1042.0 284.4 1041.5 284.2 1041.0 284.3 1040.5 284.4 1040.0 284.7 1039.5 284.4 1039.0 285.5 1038.6 284.3 1038.1 285.3 1037.6 284.8 1037.1 284.7 1036.6 284.8 1036.1 285.8 1035.6 286.0 1035.1 285.8 1034.6 285.0 1034.1 286.0 1033.7 284.8 1033.2 286.0 1032.7 285.7 1032.2 285.2 1031.7 285.1 1031.2 285.3 1030.7 285.2 1030.2 286.6 1029.7 285.4 1029.2 285.5 1028.7 285.6 1028.3 286.6 1027.8 285.5 1027.3 286.9 1026.8 286.7 1026.3 285.8 1025.8 286.5 1025.3 285.8 1024.8 286.5 1024.3 287.0 1023.8 286.2 1023.4 285.7 1022.9 285.9 1022.4 285.8 1021.9 286.8 1021.4 287.8 1020.9 286.3 1020.4 286.2 1019.9 286.9 1019.4 288.0 1018.9 286.8 1018.5 289.0 1018.0 288.1 1017.5 287.3 1017.0 287.5 1016.5 290.4 1016.0 289.5 1015.5 292.5 1015.0 293.3 1014.5 290.7 1014.0 289.5 1013.6 291.0 1013.1 289.7 1012.6 288.7 1012.1 288.5 1011.6 291.6 1011.1 289.8 1010.6 291.1 1010.1 289.0 1009.6 292.7 1009.1 290.2 1008.7 291.9 1008.2 291.1 1007.7 293.9 1007.2 292.2 1006.7 295.4 1006.2 292.2 1005.7 295.6 1005.2 291.8 1004.7 292.8 1004.2 294.4 1003.8 290.9 1003.3 290.9 1002.8 294.9 1002.3 293.1 1001.8 295.3 1001.3 299.6 1000.8 296.4 1000.3 298.7 999.8 302.3 999.3 301.5 998.8 300.7 998.4 299.8 997.9 291.4 997.4 291.6 996.9 288.8 996.4 290.8 995.9 291.2 995.4 288.4 994.9 288.3 994.4 289.5 993.9 290.3 993.5 288.0 993.0 287.9 992.5 287.9 992.0 289.8 991.5 287.6 991.0 287.9 990.5 287.0 990.0 289.2 989.5 288.8 989.0 287.6 988.6 288.3 988.1 290.4 987.6 288.9 987.1 289.1 986.6 290.3 986.1 293.0 985.6 289.6 985.1 288.6 984.6 290.3 984.1 289.0 983.7 285.1 983.2 284.8 982.7 283.3 982.2 283.2 981.7 283.1 981.2 283.2 980.7 283.2 980.2 283.2 979.7 283.1 979.2 283.2 978.8 283.2 978.3 283.2 977.8 283.2 977.3 283.2 976.8 283.2 976.3 283.2 975.8 283.1 975.3 283.2 974.8 283.2 974.3 283.1 973.9 283.2 973.4 283.2 972.9 283.2 972.4 283.1 971.9 283.2 971.4 283.2 970.9 283.2 970.4 283.2 969.9 283.1 969.4 283.2 969.0 283.1 968.5 283.2 968.0 283.2 967.5 283.2 967.0 283.1 966.5 282.9Z" fill="#000" stroke="#000" stroke-width="1" stroke-linejoin="round"/><rect x="997.89" y="253.90" width="2.40" height="50.80" fill="#000"/></g><line x1="966.50" y1="305.50" x2="966.50" y2="310.70" stroke="#000" stroke-width="1.1"/><text class="s" x="963.62" y="322.80" font-size="11.28" textLength="5.71" lengthAdjust="spacingAndGlyphs">0</text><line x1="1015.50" y1="305.50" x2="1015.50" y2="310.70" stroke="#000" stroke-width="1.1"/><text class="s" x="1009.20" y="322.80" font-size="11.28" textLength="12.65" lengthAdjust="spacingAndGlyphs">50</text><line x1="1064.50" y1="305.50" x2="1064.50" y2="310.70" stroke="#000" stroke-width="1.1"/><text class="s" x="1054.67" y="322.80" font-size="11.28" textLength="19.74" lengthAdjust="spacingAndGlyphs">100</text><line x1="1113.50" y1="305.50" x2="1113.50" y2="310.70" stroke="#000" stroke-width="1.1"/><text class="s" x="1103.67" y="322.80" font-size="11.28" textLength="19.74" lengthAdjust="spacingAndGlyphs">150</text><line x1="1162.50" y1="305.50" x2="1162.50" y2="310.70" stroke="#000" stroke-width="1.1"/><text class="s" x="1152.58" y="322.80" font-size="11.28" textLength="19.83" lengthAdjust="spacingAndGlyphs">200</text><line x1="1211.50" y1="305.50" x2="1211.50" y2="310.70" stroke="#000" stroke-width="1.1"/><text class="s" x="1201.58" y="322.80" font-size="11.28" textLength="19.83" lengthAdjust="spacingAndGlyphs">250</text><line x1="1260.50" y1="305.50" x2="1260.50" y2="310.70" stroke="#000" stroke-width="1.1"/><text class="s" x="1250.70" y="322.80" font-size="11.28" textLength="19.71" lengthAdjust="spacingAndGlyphs">300</text><line x1="961.30" y1="264.50" x2="966.50" y2="264.50" stroke="#000" stroke-width="1.1"/><text class="s" x="913.78" y="268.55" font-size="11.28" textLength="41.01" lengthAdjust="spacingAndGlyphs">2.0e-04</text><line x1="961.30" y1="282.50" x2="966.50" y2="282.50" stroke="#000" stroke-width="1.1"/><text class="s" x="908.54" y="286.55" font-size="11.28" textLength="46.21" lengthAdjust="spacingAndGlyphs">0.0e+00</text><line x1="961.30" y1="300.50" x2="966.50" y2="300.50" stroke="#000" stroke-width="1.1"/><text class="s" x="909.61" y="304.55" font-size="11.28" textLength="45.15" lengthAdjust="spacingAndGlyphs">-2.0e-04</text><rect x="966.50" y="253.50" width="322.00" height="52.00" fill="none" stroke="#000" stroke-width="1.2"/>
<line x1="175.50" y1="336.50" x2="175.50" y2="388.50" stroke="#b0b0b0" stroke-width="1.1"/><line x1="224.50" y1="336.50" x2="224.50" y2="388.50" stroke="#b0b0b0" stroke-width="1.1"/><line x1="273.50" y1="336.50" x2="273.50" y2="388.50" stroke="#b0b0b0" stroke-width="1.1"/><line x1="322.50" y1="336.50" x2="322.50" y2="388.50" stroke="#b0b0b0" stroke-width="1.1"/><line x1="371.50" y1="336.50" x2="371.50" y2="388.50" stroke="#b0b0b0" stroke-width="1.1"/><line x1="420.50" y1="336.50" x2="420.50" y2="388.50" stroke="#b0b0b0" stroke-width="1.1"/><line x1="126.50" y1="357.50" x2="449.50" y2="357.50" stroke="#b0b0b0" stroke-width="1.1"/><line x1="126.50" y1="386.50" x2="449.50" y2="386.50" stroke="#b0b0b0" stroke-width="1.1"/><g clip-path="url(#c30)"><path d="M126.5 356.0 130.4 356.0 134.3 356.0 138.3 356.0 142.2 356.0 146.1 355.9 148.6 355.8 149.0 355.7 149.5 355.6 150.0 355.5 150.5 355.4 151.0 353.9 151.5 354.4 152.0 354.4 152.5 354.4 153.0 353.3 153.5 354.2 153.9 354.3 154.4 354.3 154.9 354.1 155.4 354.2 155.9 353.1 156.4 353.6 156.9 353.6 157.4 353.8 157.9 354.0 158.4 353.2 158.8 352.9 159.3 354.0 159.8 354.0 160.3 353.9 160.8 353.1 161.3 352.4 161.8 352.5 162.3 353.6 162.8 353.3 163.3 353.9 163.8 353.8 164.2 353.3 164.7 353.0 165.2 353.9 165.7 352.7 166.2 353.5 166.7 352.0 167.2 352.8 167.7 351.5 168.2 349.3 168.7 346.2 169.1 342.0 169.6 335.9 170.1 337.1 170.6 339.9 171.1 340.8 171.6 336.8 172.1 343.0 172.6 344.6 173.1 342.2 173.6 346.4 174.0 346.4 174.5 346.8 175.0 345.1 175.5 346.8 176.0 348.4 176.5 346.3 177.0 349.8 177.5 347.6 178.0 348.4 178.5 351.3 178.9 351.5 179.4 349.9 179.9 352.0 180.4 350.7 180.9 351.0 181.4 352.6 181.9 352.3 182.4 351.8 182.9 353.0 183.4 353.2 183.8 352.0 184.3 352.0 184.8 353.1 185.3 351.8 185.8 353.2 186.3 352.5 186.8 353.4 187.3 353.7 187.8 353.6 188.3 352.8 188.7 352.9 189.2 353.7 189.7 353.8 190.2 353.3 190.7 353.9 191.2 353.5 191.7 353.8 192.2 353.2 192.7 353.6 193.2 354.2 193.7 353.5 194.1 354.4 194.6 354.4 195.1 353.7 195.6 354.5 196.1 354.6 196.6 354.1 197.1 353.7 197.6 354.6 198.1 354.5 198.6 353.7 199.0 354.5 199.5 354.5 200.0 354.5 200.5 354.1 201.0 353.6 201.5 354.1 202.0 353.5 202.5 354.4 203.0 354.5 203.5 354.5 203.9 354.7 204.4 354.1 204.9 354.2 205.4 354.3 205.9 354.8 206.4 354.8 206.9 354.9 207.4 354.6 207.9 354.9 208.4 354.9 208.8 354.5 209.3 355.1 209.8 355.1 210.3 354.8 210.8 354.8 211.3 355.1 211.8 355.0 212.3 355.2 212.8 354.5 213.3 355.1 213.7 355.1 214.2 355.1 214.7 354.6 215.2 355.3 215.7 354.8 216.2 355.0 216.7 355.3 217.2 355.2 217.7 354.8 218.2 355.3 218.6 355.0 219.1 355.3 219.6 355.3 220.1 355.3 220.6 355.1 221.1 355.1 221.6 355.3 222.1 355.1 222.6 355.3 223.1 355.4 223.5 355.1 224.0 355.2 224.5 354.8 225.0 355.3 225.5 355.5 226.0 355.5 226.5 355.5 227.0 355.2 227.5 355.5 228.0 355.3 228.5 355.5 228.9 355.5 229.4 355.5 229.9 355.2 230.4 355.5 230.9 355.6 231.4 355.6 231.9 355.2 232.4 355.6 232.9 355.5 233.4 355.2 233.8 355.6 234.3 355.6 234.8 355.6 235.3 355.6 235.8 355.6 236.3 355.7 236.8 355.5 237.3 355.7 237.8 355.6 238.3 355.7 238.7 355.2 239.2 355.6 239.7 355.4 240.2 355.4 240.7 355.4 241.2 355.4 241.7 355.4 242.2 355.5 242.7 355.5 243.2 355.5 243.6 355.5 244.1 355.5 244.6 355.5 245.1 355.5 245.6 355.5 246.1 355.6 246.6 355.5 247.1 355.5 247.6 355.5 248.1 355.5 248.5 355.6 249.0 355.6 249.5 355.6 250.0 355.5 250.5 355.6 251.0 355.6 251.5 355.6 252.0 355.7 252.5 355.6 253.0 355.6 253.4 355.6 253.9 355.7 254.4 355.7 254.9 355.6 255.4 355.7 255.9 355.6 256.4 355.6 256.9 355.6 257.4 355.6 257.9 355.7 258.4 355.7 258.8 355.6 259.3 355.6 259.8 355.7 260.3 355.7 260.8 355.6 261.3 355.7 261.8 355.7 262.3 355.7 262.8 355.6 263.3 355.7 263.7 355.7 264.2 355.7 264.7 355.7 265.2 355.7 265.7 355.7 266.2 355.7 266.7 355.7 267.2 355.7 267.7 355.7 268.2 355.7 268.6 355.7 269.1 355.8 269.6 355.8 270.1 355.8 270.6 355.7 271.1 355.7 271.6 355.8 272.1 355.8 272.6 355.7 273.1 355.7 273.5 355.7 277.5 355.7 281.4 355.7 285.3 355.7 289.2 355.7 293.2 355.7 297.1 355.7 301.0 355.7 304.9 355.7 308.8 355.7 312.8 355.7 316.7 355.7 320.6 355.7 324.5 355.7 328.4 355.7 332.4 355.7 336.3 355.7 340.2 355.6 344.1 355.6 348.0 355.6 352.0 355.6 355.9 355.6 359.8 355.6 363.7 355.6 367.7 355.6 371.6 355.6 375.5 355.6 379.4 355.6 383.3 355.6 387.3 355.6 391.2 355.6 395.1 355.6 399.0 355.6 402.9 355.6 406.9 355.5 410.8 355.5 414.7 355.5 418.6 355.5 422.6 355.5 426.5 355.5 430.4 355.5 434.3 355.5 438.2 355.5 442.2 355.5 446.1 355.5 449.7 355.5 449.7 356.5 446.1 356.5 442.2 356.5 438.2 356.5 434.3 356.5 430.4 356.5 426.5 356.6 422.6 356.6 418.6 356.6 414.7 356.6 410.8 356.6 406.9 356.6 402.9 356.6 399.0 356.6 395.1 356.6 391.2 356.6 387.3 356.6 383.3 356.6 379.4 356.6 375.5 356.6 371.6 356.6 367.7 356.6 363.7 356.7 359.8 356.7 355.9 356.7 352.0 356.7 348.0 356.7 344.1 356.7 340.2 356.7 336.3 356.7 332.4 356.7 328.4 356.7 324.5 356.7 320.6 356.7 316.7 356.7 312.8 356.7 308.8 356.7 304.9 356.7 301.0 356.8 297.1 356.8 293.2 356.8 289.2 356.8 285.3 356.8 281.4 356.8 277.5 356.8 273.5 356.8 273.1 356.8 272.6 356.8 272.1 356.8 271.6 356.8 271.1 356.8 270.6 356.8 270.1 356.8 269.6 356.9 269.1 356.8 268.6 356.8 268.2 356.9 267.7 356.8 267.2 356.8 266.7 356.9 266.2 356.9 265.7 356.9 265.2 356.8 264.7 356.9 264.2 356.9 263.7 356.9 263.3 356.9 262.8 356.9 262.3 356.9 261.8 356.9 261.3 356.9 260.8 356.9 260.3 357.0 259.8 356.9 259.3 356.9 258.8 356.9 258.4 356.9 257.9 356.9 257.4 356.9 256.9 356.9 256.4 357.0 255.9 356.9 255.4 357.0 254.9 357.0 254.4 357.0 253.9 357.0 253.4 357.0 253.0 357.0 252.5 357.0 252.0 357.0 251.5 357.0 251.0 357.1 250.5 357.1 250.0 357.0 249.5 357.0 249.0 357.0 248.5 357.1 248.1 357.1 247.6 357.1 247.1 357.0 246.6 357.0 246.1 357.0 245.6 357.1 245.1 357.0 244.6 357.1 244.1 357.1 243.6 357.1 243.2 357.1 242.7 357.1 242.2 357.1 241.7 357.2 241.2 357.1 240.7 357.1 240.2 357.2 239.7 357.2 239.2 357.2 238.7 356.9 238.3 356.9 237.8 357.0 237.3 357.3 236.8 357.0 236.3 357.0 235.8 357.4 235.3 357.2 234.8 357.0 234.3 357.5 233.8 357.3 233.4 357.1 232.9 357.1 232.4 357.3 231.9 357.0 231.4 357.1 230.9 357.5 230.4 357.1 229.9 357.1 229.4 357.6 228.9 357.2 228.5 357.5 228.0 357.1 227.5 357.4 227.0 357.1 226.5 357.2 226.0 357.1 225.5 357.3 225.0 357.5 224.5 357.7 224.0 357.5 223.5 357.2 223.1 357.2 222.6 357.6 222.1 357.2 221.6 357.3 221.1 357.3 220.6 357.2 220.1 357.5 219.6 357.3 219.1 357.3 218.6 357.3 218.2 357.5 217.7 357.7 217.2 357.3 216.7 357.6 216.2 357.3 215.7 357.3 215.2 357.4 214.7 357.9 214.2 357.4 213.7 357.4 213.3 357.5 212.8 357.8 212.3 357.4 211.8 357.6 211.3 357.5 210.8 357.5 210.3 357.6 209.8 358.3 209.3 357.6 208.8 357.8 208.4 357.9 207.9 357.6 207.4 357.7 206.9 358.1 206.4 358.2 205.9 357.7 205.4 358.1 204.9 358.5 204.4 357.7 203.9 357.8 203.5 358.2 203.0 357.8 202.5 357.8 202.0 357.7 201.5 357.7 201.0 358.3 200.5 357.8 200.0 357.8 199.5 357.7 199.0 357.9 198.6 358.6 198.1 357.9 197.6 358.0 197.1 358.7 196.6 358.6 196.1 358.6 195.6 358.4 195.1 358.5 194.6 358.3 194.1 358.3 193.7 358.8 193.2 358.4 192.7 358.3 192.2 359.5 191.7 359.1 191.2 358.9 190.7 359.5 190.2 359.0 189.7 358.8 189.2 359.2 188.7 358.7 188.3 359.4 187.8 359.0 187.3 358.8 186.8 359.5 186.3 358.7 185.8 358.9 185.3 360.1 184.8 359.8 184.3 359.4 183.8 359.8 183.4 361.1 182.9 360.1 182.4 361.5 181.9 360.7 181.4 360.9 180.9 360.1 180.4 361.6 179.9 360.3 179.4 362.0 178.9 360.3 178.5 360.3 178.0 362.7 177.5 362.3 177.0 362.2 176.5 365.2 176.0 365.3 175.5 363.6 175.0 367.5 174.5 365.3 174.0 368.5 173.6 366.5 173.1 371.0 172.6 372.4 172.1 372.4 171.6 377.4 171.1 376.4 170.6 376.9 170.1 378.9 169.6 385.2 169.1 371.5 168.7 365.9 168.2 362.7 167.7 360.3 167.2 361.0 166.7 360.2 166.2 359.2 165.7 359.5 165.2 358.6 164.7 359.6 164.2 358.5 163.8 358.7 163.3 358.7 162.8 358.8 162.3 359.1 161.8 359.8 161.3 359.0 160.8 359.5 160.3 358.8 159.8 358.8 159.3 358.9 158.8 360.0 158.4 359.3 157.9 358.9 157.4 359.0 156.9 359.3 156.4 360.2 155.9 360.0 155.4 359.0 154.9 359.1 154.4 359.7 153.9 358.9 153.5 358.9 153.0 360.2 152.5 359.4 152.0 360.1 151.5 359.6 151.0 360.0 150.5 357.8 150.0 357.1 149.5 357.1 149.0 357.0 148.6 357.0 146.1 357.0 142.2 357.0 138.3 357.0 134.3 357.0 130.4 357.0 126.5 357.0Z" fill="#000" stroke="#000" stroke-width="1" stroke-linejoin="round"/><rect x="168.78" y="337.10" width="2.20" height="52.00" fill="#000"/></g><line x1="126.50" y1="388.50" x2="126.50" y2="393.70" stroke="#000" stroke-width="1.1"/><text class="s" x="123.62" y="405.80" font-size="11.28" textLength="5.71" lengthAdjust="spacingAndGlyphs">0</text><line x1="175.50" y1="388.50" x2="175.50" y2="393.70" stroke="#000" stroke-width="1.1"/><text class="s" x="169.20" y="405.80" font-size="11.28" textLength="12.65" lengthAdjust="spacingAndGlyphs">50</text><line x1="224.50" y1="388.50" x2="224.50" y2="393.70" stroke="#000" stroke-width="1.1"/><text class="s" x="214.67" y="405.80" font-size="11.28" textLength="19.74" lengthAdjust="spacingAndGlyphs">100</text><line x1="273.50" y1="388.50" x2="273.50" y2="393.70" stroke="#000" stroke-width="1.1"/><text class="s" x="263.67" y="405.80" font-size="11.28" textLength="19.74" lengthAdjust="spacingAndGlyphs">150</text><line x1="322.50" y1="388.50" x2="322.50" y2="393.70" stroke="#000" stroke-width="1.1"/><text class="s" x="312.58" y="405.80" font-size="11.28" textLength="19.83" lengthAdjust="spacingAndGlyphs">200</text><line x1="371.50" y1="388.50" x2="371.50" y2="393.70" stroke="#000" stroke-width="1.1"/><text class="s" x="361.58" y="405.80" font-size="11.28" textLength="19.83" lengthAdjust="spacingAndGlyphs">250</text><line x1="420.50" y1="388.50" x2="420.50" y2="393.70" stroke="#000" stroke-width="1.1"/><text class="s" x="410.70" y="405.80" font-size="11.28" textLength="19.71" lengthAdjust="spacingAndGlyphs">300</text><line x1="121.30" y1="357.50" x2="126.50" y2="357.50" stroke="#000" stroke-width="1.1"/><text class="s" x="69.34" y="361.15" font-size="11.28" textLength="46.21" lengthAdjust="spacingAndGlyphs">0.0e+00</text><line x1="121.30" y1="386.50" x2="126.50" y2="386.50" stroke="#000" stroke-width="1.1"/><text class="s" x="70.41" y="390.55" font-size="11.28" textLength="45.15" lengthAdjust="spacingAndGlyphs">-5.0e-04</text><rect x="126.50" y="336.50" width="323.00" height="52.00" fill="none" stroke="#000" stroke-width="1.2"/>
<line x1="595.50" y1="336.50" x2="595.50" y2="388.50" stroke="#b0b0b0" stroke-width="1.1"/><line x1="644.50" y1="336.50" x2="644.50" y2="388.50" stroke="#b0b0b0" stroke-width="1.1"/><line x1="693.50" y1="336.50" x2="693.50" y2="388.50" stroke="#b0b0b0" stroke-width="1.1"/><line x1="742.50" y1="336.50" x2="742.50" y2="388.50" stroke="#b0b0b0" stroke-width="1.1"/><line x1="791.50" y1="336.50" x2="791.50" y2="388.50" stroke="#b0b0b0" stroke-width="1.1"/><line x1="840.50" y1="336.50" x2="840.50" y2="388.50" stroke="#b0b0b0" stroke-width="1.1"/><line x1="546.50" y1="356.50" x2="869.50" y2="356.50" stroke="#b0b0b0" stroke-width="1.1"/><line x1="546.50" y1="383.50" x2="869.50" y2="383.50" stroke="#b0b0b0" stroke-width="1.1"/><g clip-path="url(#c31)"><path d="M546.5 355.7 550.4 355.7 554.3 355.7 558.3 355.7 562.2 355.7 564.6 355.6 565.1 355.4 565.6 355.6 566.1 354.9 566.6 355.1 567.1 355.2 567.6 355.3 568.1 355.3 568.6 355.2 569.0 355.0 569.5 355.4 570.0 354.8 570.5 354.8 571.0 353.0 571.5 353.5 572.0 353.6 572.5 352.9 573.0 353.5 573.5 353.7 573.9 352.7 574.4 353.9 574.9 353.6 575.4 353.9 575.9 353.8 576.4 353.7 576.9 352.6 577.4 353.7 577.9 353.9 578.4 354.1 578.8 353.1 579.3 354.2 579.8 354.1 580.3 354.0 580.8 353.5 581.3 353.9 581.8 352.9 582.3 353.7 582.8 353.8 583.3 352.4 583.8 352.9 584.2 353.5 584.7 352.2 585.2 353.5 585.7 352.9 586.2 352.7 586.7 352.5 587.2 352.9 587.7 350.9 588.2 345.8 588.7 346.0 589.1 346.4 589.6 341.6 590.1 341.9 590.6 345.1 591.1 344.5 591.6 344.6 592.1 340.3 592.6 345.2 593.1 346.2 593.6 344.1 594.0 344.8 594.5 348.4 595.0 346.0 595.5 349.2 596.0 348.5 596.5 348.5 597.0 350.0 597.5 351.3 598.0 350.1 598.5 351.3 598.9 350.3 599.4 352.5 599.9 351.9 600.4 351.3 600.9 352.9 601.4 353.0 601.9 352.8 602.4 353.2 602.9 353.3 603.4 352.1 603.8 353.4 604.3 353.4 604.8 353.5 605.3 352.4 605.8 353.6 606.3 353.6 606.8 353.6 607.3 352.7 607.8 353.2 608.3 353.8 608.7 354.0 609.2 353.9 609.7 353.5 610.2 353.4 610.7 354.0 611.2 353.2 611.7 353.5 612.2 353.1 612.7 354.2 613.2 354.1 613.7 354.3 614.1 353.3 614.6 354.3 615.1 353.4 615.6 354.1 616.1 354.2 616.6 354.4 617.1 354.3 617.6 353.9 618.1 354.3 618.6 354.4 619.0 354.3 619.5 353.6 620.0 354.4 620.5 354.5 621.0 354.4 621.5 354.3 622.0 354.3 622.5 354.6 623.0 353.7 623.5 354.6 623.9 354.6 624.4 353.9 624.9 353.7 625.4 354.4 625.9 354.6 626.4 354.5 626.9 354.2 627.4 354.4 627.9 354.4 628.4 354.5 628.8 354.4 629.3 353.8 629.8 353.6 630.3 353.8 630.8 353.5 631.3 354.6 631.8 354.2 632.3 354.3 632.8 354.6 633.3 354.7 633.7 354.4 634.2 354.8 634.7 354.8 635.2 354.8 635.7 354.4 636.2 355.0 636.7 354.4 637.2 355.1 637.7 354.6 638.2 355.0 638.6 354.3 639.1 354.9 639.6 355.0 640.1 354.6 640.6 355.1 641.1 355.0 641.6 355.1 642.1 354.7 642.6 355.1 643.1 355.1 643.5 355.1 644.0 355.0 644.5 354.3 645.0 354.7 645.5 355.0 646.0 354.8 646.5 354.3 647.0 355.0 647.5 355.1 648.0 354.9 648.5 355.0 648.9 355.1 649.4 354.6 649.9 355.1 650.4 355.1 650.9 355.1 651.4 354.7 651.9 355.1 652.4 355.1 652.9 354.6 653.4 355.3 653.8 355.2 654.3 354.8 654.8 355.2 655.3 354.7 655.8 355.3 656.3 355.3 656.8 355.0 657.3 355.2 657.8 355.3 658.3 355.2 658.7 355.1 659.2 355.3 659.7 355.3 660.2 355.3 660.7 354.9 661.2 355.3 661.7 354.9 662.2 355.1 662.7 355.4 663.2 355.3 663.6 354.9 664.1 355.4 664.6 354.8 665.1 355.3 665.6 355.4 666.1 354.9 666.6 355.0 667.1 355.4 667.6 355.4 668.1 355.3 668.5 355.0 669.0 354.9 669.5 355.1 670.0 355.4 670.5 355.5 671.0 355.4 671.5 355.2 672.0 355.1 672.5 355.5 673.0 355.5 673.4 355.2 673.9 355.3 674.4 355.4 674.9 355.3 675.4 355.3 675.9 355.2 676.4 355.5 676.9 355.4 677.4 355.2 677.9 355.6 678.4 355.5 678.8 355.5 679.3 355.1 679.8 355.6 680.3 355.2 680.8 355.6 681.3 355.6 681.8 355.4 682.3 355.6 682.8 355.7 683.3 355.6 683.7 355.2 684.2 355.5 684.7 355.6 685.2 355.6 685.7 355.6 686.2 355.3 686.7 355.7 687.2 355.7 687.7 355.7 688.2 355.6 688.6 355.6 689.1 355.7 689.6 355.7 690.1 355.7 690.6 355.7 691.1 355.4 691.6 355.7 692.1 355.5 692.6 355.7 693.1 355.7 693.5 355.7 694.0 355.7 694.5 355.6 695.0 355.7 695.5 355.7 696.0 355.7 696.5 355.4 697.0 355.7 697.5 355.3 698.0 355.5 698.4 355.8 698.9 355.6 699.4 355.7 699.9 355.8 700.4 355.7 700.9 355.8 701.4 355.5 701.9 355.7 702.4 355.8 702.9 355.6 703.3 355.5 703.8 355.8 704.3 355.8 704.8 355.6 705.3 355.8 705.8 355.7 706.3 355.5 706.8 355.8 707.3 355.5 707.8 355.8 708.2 355.7 708.7 355.5 709.2 355.6 709.7 355.6 710.2 355.6 710.7 355.5 711.2 355.5 711.7 355.5 712.2 355.5 712.7 355.5 713.2 355.6 713.6 355.6 714.1 355.5 714.6 355.6 715.1 355.6 715.6 355.6 716.1 355.5 716.6 355.5 717.1 355.6 717.6 355.6 718.1 355.5 718.5 355.6 719.0 355.6 719.5 355.6 720.0 355.5 720.5 355.6 721.0 355.6 721.5 355.5 722.0 355.6 722.5 355.5 723.0 355.6 723.4 355.5 723.9 355.6 724.4 355.5 724.9 355.6 725.4 355.6 725.9 355.6 726.4 355.7 726.9 355.6 727.4 355.6 727.9 355.6 728.3 355.5 728.8 355.6 729.3 355.6 729.8 355.7 730.3 355.6 730.8 355.6 731.3 355.6 731.8 355.6 732.3 355.7 732.8 355.7 733.2 355.6 733.7 355.7 734.2 355.7 734.7 355.6 735.2 355.7 735.7 355.6 736.2 355.7 736.7 355.6 737.2 355.6 737.7 355.6 738.1 355.7 738.6 355.6 739.1 355.6 739.6 355.6 740.1 355.7 740.6 355.7 741.1 355.7 741.6 355.7 742.1 355.7 742.6 355.7 743.1 355.7 743.5 355.7 744.0 355.6 744.5 355.7 745.0 355.7 745.5 355.7 746.0 355.8 746.5 355.7 747.0 355.7 747.5 355.7 748.0 355.6 748.4 355.7 748.9 355.8 749.4 355.8 749.9 355.7 750.4 355.7 750.9 355.8 751.4 355.7 751.9 355.7 752.4 355.8 752.9 355.7 753.3 355.7 753.8 355.8 754.3 355.7 754.8 355.8 755.3 355.8 755.8 355.8 756.3 355.7 756.8 355.7 757.3 355.7 757.8 355.8 758.2 355.8 758.7 355.7 759.2 355.8 759.7 355.8 760.2 355.8 760.7 355.7 761.2 355.8 761.7 355.8 762.2 355.8 762.7 355.7 763.1 355.8 763.6 355.8 764.1 355.8 764.6 355.8 765.1 355.7 765.6 355.8 766.1 355.8 766.6 355.8 767.1 355.8 767.6 355.9 768.0 355.9 768.5 355.8 769.0 355.8 769.5 355.8 770.0 355.8 770.5 355.8 771.0 355.8 771.5 355.8 772.0 355.8 772.5 355.9 772.9 355.8 773.4 355.9 773.9 355.9 774.4 355.9 774.9 355.8 775.4 355.8 775.9 355.8 776.4 355.8 776.9 355.9 777.4 355.9 777.9 355.8 778.3 355.9 778.8 355.9 779.3 355.8 779.8 355.9 780.3 355.9 780.8 355.8 781.3 355.9 781.8 355.8 782.3 355.8 782.8 355.9 783.2 355.9 783.7 355.9 784.2 355.9 784.7 355.9 785.2 355.9 785.7 355.9 786.2 355.9 786.7 355.9 787.2 355.9 787.7 355.9 788.1 356.0 788.6 355.9 789.1 356.0 789.6 356.0 790.1 355.9 790.6 356.0 791.1 355.9 791.6 356.0 792.1 355.9 792.6 355.9 793.0 355.9 793.5 356.0 794.0 355.9 794.5 356.0 795.0 356.0 795.5 355.9 796.0 356.0 796.5 356.0 797.0 356.0 797.5 356.0 797.9 355.9 798.4 355.9 798.9 356.0 799.4 356.0 799.9 356.0 800.4 356.0 800.9 356.0 801.4 356.0 801.9 356.0 802.4 356.0 802.8 356.0 803.3 356.0 803.8 356.0 804.3 356.0 804.8 356.0 805.3 356.0 805.8 356.0 806.3 356.0 806.8 356.0 807.3 356.0 807.7 356.0 808.2 356.0 808.7 356.0 809.2 356.0 809.7 356.0 810.2 356.0 810.7 356.0 811.2 356.0 811.7 356.0 812.2 356.0 812.7 356.0 813.1 356.0 813.6 356.0 814.1 356.0 814.6 356.0 815.1 356.0 815.6 356.0 816.1 356.0 816.6 356.0 817.1 356.0 817.6 356.0 818.0 356.0 818.5 356.0 819.0 356.0 819.5 356.0 820.0 356.0 820.5 356.0 821.0 356.0 821.5 356.0 822.0 356.0 822.5 356.0 822.9 356.0 823.4 356.0 823.9 356.0 824.4 356.0 824.9 356.0 825.4 356.0 825.9 356.0 826.4 356.0 826.9 356.0 827.4 356.0 827.8 356.0 828.3 356.0 828.8 356.0 829.3 356.0 829.8 356.0 830.3 356.0 830.8 356.0 831.3 356.0 831.8 356.0 832.3 356.0 832.7 356.0 833.2 356.0 833.7 356.0 834.2 356.0 834.7 356.0 835.2 356.0 835.7 356.0 836.2 356.0 836.7 356.0 837.2 356.0 837.6 356.0 838.1 356.0 838.6 356.0 839.1 356.0 839.6 356.0 840.1 356.0 840.6 356.0 841.1 356.0 841.6 356.0 842.1 356.0 842.6 356.0 843.0 356.0 843.5 356.0 844.0 356.0 844.5 356.0 845.0 356.0 845.5 356.1 846.0 356.1 846.5 356.1 847.0 356.1 847.5 356.1 847.9 356.1 848.4 356.1 848.9 356.1 849.4 356.1 849.9 356.1 850.4 356.1 850.9 356.1 851.4 356.1 851.9 356.1 852.4 356.1 852.8 356.1 853.3 356.1 853.8 356.1 854.3 356.1 854.8 356.1 855.3 356.1 855.8 356.1 856.3 356.1 856.8 356.1 857.3 356.1 857.7 356.1 858.2 356.1 858.7 356.1 859.2 356.1 859.7 356.1 860.2 356.1 860.7 356.1 861.2 356.1 861.7 356.1 862.2 356.1 862.6 356.1 863.1 356.1 863.6 356.1 864.1 356.1 864.6 356.1 865.1 356.1 865.6 356.1 866.1 356.1 866.6 356.1 867.1 356.1 867.5 356.1 868.0 356.1 868.5 356.1 869.0 356.1 869.5 356.1 869.7 356.1 869.7 357.1 869.5 357.1 869.0 357.1 868.5 357.1 868.0 357.1 867.5 357.1 867.1 357.1 866.6 357.1 866.1 357.1 865.6 357.1 865.1 357.1 864.6 357.1 864.1 357.1 863.6 357.1 863.1 357.1 862.6 357.1 862.2 357.1 861.7 357.1 861.2 357.1 860.7 357.1 860.2 357.1 859.7 357.1 859.2 357.1 858.7 357.1 858.2 357.1 857.7 357.1 857.3 357.1 856.8 357.1 856.3 357.1 855.8 357.1 855.3 357.1 854.8 357.1 854.3 357.1 853.8 357.1 853.3 357.1 852.8 357.1 852.4 357.1 851.9 357.1 851.4 357.1 850.9 357.1 850.4 357.1 849.9 357.1 849.4 357.1 848.9 357.1 848.4 357.1 847.9 357.1 847.5 357.1 847.0 357.1 846.5 357.1 846.0 357.1 845.5 357.1 845.0 357.1 844.5 357.1 844.0 357.1 843.5 357.1 843.0 357.1 842.6 357.1 842.1 357.1 841.6 357.1 841.1 357.1 840.6 357.1 840.1 357.1 839.6 357.1 839.1 357.1 838.6 357.1 838.1 357.1 837.6 357.1 837.2 357.1 836.7 357.1 836.2 357.1 835.7 357.1 835.2 357.1 834.7 357.1 834.2 357.1 833.7 357.1 833.2 357.1 832.7 357.1 832.3 357.1 831.8 357.1 831.3 357.1 830.8 357.1 830.3 357.1 829.8 357.1 829.3 357.1 828.8 357.1 828.3 357.1 827.8 357.1 827.4 357.1 826.9 357.1 826.4 357.1 825.9 357.1 825.4 357.1 824.9 357.1 824.4 357.1 823.9 357.1 823.4 357.1 822.9 357.1 822.5 357.1 822.0 357.1 821.5 357.1 821.0 357.1 820.5 357.1 820.0 357.1 819.5 357.1 819.0 357.1 818.5 357.1 818.0 357.1 817.6 357.1 817.1 357.1 816.6 357.1 816.1 357.1 815.6 357.1 815.1 357.1 814.6 357.1 814.1 357.1 813.6 357.1 813.1 357.0 812.7 357.0 812.2 357.0 811.7 357.0 811.2 357.0 810.7 357.0 810.2 357.0 809.7 357.0 809.2 357.0 808.7 357.1 808.2 357.0 807.7 357.0 807.3 357.0 806.8 357.1 806.3 357.0 805.8 357.0 805.3 357.1 804.8 357.1 804.3 357.0 803.8 357.0 803.3 357.0 802.8 357.0 802.4 357.0 801.9 357.0 801.4 357.0 800.9 357.1 800.4 357.0 799.9 357.0 799.4 357.1 798.9 357.0 798.4 357.0 797.9 357.1 797.5 357.0 797.0 357.0 796.5 357.0 796.0 357.0 795.5 357.1 795.0 357.1 794.5 357.0 794.0 357.0 793.5 357.0 793.0 357.0 792.6 357.1 792.1 357.1 791.6 357.1 791.1 357.1 790.6 357.1 790.1 357.1 789.6 357.1 789.1 357.0 788.6 357.1 788.1 357.1 787.7 357.1 787.2 357.1 786.7 357.1 786.2 357.1 785.7 357.1 785.2 357.0 784.7 357.1 784.2 357.1 783.7 357.1 783.2 357.1 782.8 357.1 782.3 357.1 781.8 357.1 781.3 357.1 780.8 357.1 780.3 357.1 779.8 357.1 779.3 357.1 778.8 357.1 778.3 357.0 777.9 357.1 777.4 357.1 776.9 357.1 776.4 357.1 775.9 357.1 775.4 357.1 774.9 357.1 774.4 357.1 773.9 357.1 773.4 357.2 772.9 357.1 772.5 357.1 772.0 357.1 771.5 357.2 771.0 357.1 770.5 357.1 770.0 357.1 769.5 357.1 769.0 357.2 768.5 357.1 768.0 357.1 767.6 357.2 767.1 357.2 766.6 357.1 766.1 357.2 765.6 357.2 765.1 357.1 764.6 357.1 764.1 357.1 763.6 357.1 763.1 357.2 762.7 357.2 762.2 357.1 761.7 357.2 761.2 357.1 760.7 357.1 760.2 357.2 759.7 357.2 759.2 357.2 758.7 357.2 758.2 357.2 757.8 357.2 757.3 357.1 756.8 357.2 756.3 357.1 755.8 357.2 755.3 357.2 754.8 357.1 754.3 357.2 753.8 357.1 753.3 357.1 752.9 357.1 752.4 357.2 751.9 357.2 751.4 357.1 750.9 357.2 750.4 357.2 749.9 357.1 749.4 357.1 748.9 357.2 748.4 357.2 748.0 357.2 747.5 357.2 747.0 357.2 746.5 357.1 746.0 357.2 745.5 357.2 745.0 357.2 744.5 357.2 744.0 357.2 743.5 357.2 743.1 357.2 742.6 357.2 742.1 357.2 741.6 357.2 741.1 357.2 740.6 357.2 740.1 357.2 739.6 357.2 739.1 357.2 738.6 357.2 738.1 357.3 737.7 357.2 737.2 357.2 736.7 357.2 736.2 357.2 735.7 357.3 735.2 357.3 734.7 357.2 734.2 357.3 733.7 357.3 733.2 357.3 732.8 357.2 732.3 357.3 731.8 357.2 731.3 357.2 730.8 357.3 730.3 357.2 729.8 357.2 729.3 357.3 728.8 357.3 728.3 357.3 727.9 357.2 727.4 357.3 726.9 357.3 726.4 357.3 725.9 357.3 725.4 357.3 724.9 357.3 724.4 357.3 723.9 357.2 723.4 357.3 723.0 357.3 722.5 357.2 722.0 357.2 721.5 357.3 721.0 357.3 720.5 357.3 720.0 357.3 719.5 357.3 719.0 357.3 718.5 357.2 718.1 357.3 717.6 357.3 717.1 357.4 716.6 357.3 716.1 357.3 715.6 357.3 715.1 357.2 714.6 357.2 714.1 357.3 713.6 357.3 713.2 357.3 712.7 357.2 712.2 357.3 711.7 357.3 711.2 357.3 710.7 357.3 710.2 357.2 709.7 357.3 709.2 357.3 708.7 357.4 708.2 357.0 707.8 357.2 707.3 357.0 706.8 357.1 706.3 357.0 705.8 357.1 705.3 357.4 704.8 357.0 704.3 357.0 703.8 357.0 703.3 357.2 702.9 357.0 702.4 357.0 701.9 357.0 701.4 357.0 700.9 357.3 700.4 357.2 699.9 357.1 699.4 357.0 698.9 357.1 698.4 357.4 698.0 357.0 697.5 357.1 697.0 357.0 696.5 357.3 696.0 357.0 695.5 357.1 695.0 357.1 694.5 357.1 694.0 357.0 693.5 357.0 693.1 357.1 692.6 357.1 692.1 357.3 691.6 357.1 691.1 357.1 690.6 357.1 690.1 357.2 689.6 357.0 689.1 357.1 688.6 357.2 688.2 357.3 687.7 357.1 687.2 357.0 686.7 357.5 686.2 357.1 685.7 357.1 685.2 357.1 684.7 357.1 684.2 357.3 683.7 357.5 683.3 357.1 682.8 357.1 682.3 357.5 681.8 357.4 681.3 357.1 680.8 357.1 680.3 357.2 679.8 357.5 679.3 357.1 678.8 357.1 678.4 357.6 677.9 357.1 677.4 357.5 676.9 357.2 676.4 357.4 675.9 357.2 675.4 357.2 674.9 357.4 674.4 357.2 673.9 357.2 673.4 357.4 673.0 357.4 672.5 357.2 672.0 357.2 671.5 357.6 671.0 357.3 670.5 357.3 670.0 357.2 669.5 357.4 669.0 357.8 668.5 357.3 668.1 357.3 667.6 357.5 667.1 357.2 666.6 357.3 666.1 357.7 665.6 357.3 665.1 357.3 664.6 357.3 664.1 357.3 663.6 357.8 663.2 357.4 662.7 357.3 662.2 357.4 661.7 357.9 661.2 357.4 660.7 357.3 660.2 357.7 659.7 357.4 659.2 357.4 658.7 357.3 658.3 357.5 657.8 357.6 657.3 357.4 656.8 357.8 656.3 357.7 655.8 357.4 655.3 357.4 654.8 358.0 654.3 358.0 653.8 357.6 653.4 357.7 652.9 357.4 652.4 357.5 651.9 357.7 651.4 357.4 650.9 357.5 650.4 357.5 649.9 357.7 649.4 357.5 648.9 358.1 648.5 357.4 648.0 357.8 647.5 357.4 647.0 357.4 646.5 357.9 646.0 357.5 645.5 357.5 645.0 357.5 644.5 358.2 644.0 357.8 643.5 357.5 643.1 357.5 642.6 357.6 642.1 357.9 641.6 357.6 641.1 357.5 640.6 358.1 640.1 357.6 639.6 358.1 639.1 357.6 638.6 358.0 638.2 357.6 637.7 357.6 637.2 357.9 636.7 358.3 636.2 357.7 635.7 358.5 635.2 357.7 634.7 357.8 634.2 358.4 633.7 357.8 633.3 357.8 632.8 357.7 632.3 357.8 631.8 358.3 631.3 357.9 630.8 357.8 630.3 357.9 629.8 358.7 629.3 358.5 628.8 357.9 628.4 358.0 627.9 358.0 627.4 358.3 626.9 357.9 626.4 357.9 625.9 358.0 625.4 358.6 624.9 358.1 624.4 358.5 623.9 358.4 623.5 358.0 623.0 358.8 622.5 358.0 622.0 358.5 621.5 358.6 621.0 358.1 620.5 358.2 620.0 358.1 619.5 359.1 619.0 358.2 618.6 358.2 618.1 358.3 617.6 358.6 617.1 358.4 616.6 358.4 616.1 358.2 615.6 358.4 615.1 359.4 614.6 358.4 614.1 358.8 613.7 358.9 613.2 358.3 612.7 359.2 612.2 358.3 611.7 358.4 611.2 359.4 610.7 358.4 610.2 358.8 609.7 359.4 609.2 358.7 608.7 358.8 608.3 359.5 607.8 358.9 607.3 360.0 606.8 359.0 606.3 359.3 605.8 358.9 605.3 358.8 604.8 358.7 604.3 359.8 603.8 358.7 603.4 360.0 602.9 359.0 602.4 359.2 601.9 360.1 601.4 359.4 600.9 359.4 600.4 360.7 599.9 360.3 599.4 359.6 598.9 359.5 598.5 360.4 598.0 361.5 597.5 360.6 597.0 362.2 596.5 363.9 596.0 362.0 595.5 362.0 595.0 364.4 594.5 361.9 594.0 362.0 593.6 365.4 593.1 365.0 592.6 367.1 592.1 371.0 591.6 366.9 591.1 368.7 590.6 367.3 590.1 366.6 589.6 370.7 589.1 365.2 588.7 366.7 588.2 364.7 587.7 361.1 587.2 359.9 586.7 360.2 586.2 358.8 585.7 358.7 585.2 358.5 584.7 359.4 584.2 358.4 583.8 358.3 583.3 358.8 582.8 359.4 582.3 359.0 581.8 359.9 581.3 359.4 580.8 359.0 580.3 358.7 579.8 358.9 579.3 360.1 578.8 360.0 578.4 358.9 577.9 359.1 577.4 359.0 576.9 359.6 576.4 359.8 575.9 358.8 575.4 359.0 574.9 359.0 574.4 359.7 573.9 360.1 573.5 359.1 573.0 358.8 572.5 359.5 572.0 358.7 571.5 358.6 571.0 359.2 570.5 357.5 570.0 357.7 569.5 357.1 569.0 357.1 568.6 357.5 568.1 357.0 567.6 357.0 567.1 357.0 566.6 357.4 566.1 357.3 565.6 356.8 565.1 356.9 564.6 356.7 562.2 356.7 558.3 356.7 554.3 356.7 550.4 356.7 546.5 356.7Z" fill="#000" stroke="#000" stroke-width="1" stroke-linejoin="round"/><rect x="589.75" y="337.10" width="2.60" height="52.00" fill="#000"/></g><line x1="546.50" y1="388.50" x2="546.50" y2="393.70" stroke="#000" stroke-width="1.1"/><text class="s" x="543.62" y="405.80" font-size="11.28" textLength="5.71" lengthAdjust="spacingAndGlyphs">0</text><line x1="595.50" y1="388.50" x2="595.50" y2="393.70" stroke="#000" stroke-width="1.1"/><text class="s" x="589.20" y="405.80" font-size="11.28" textLength="12.65" lengthAdjust="spacingAndGlyphs">50</text><line x1="644.50" y1="388.50" x2="644.50" y2="393.70" stroke="#000" stroke-width="1.1"/><text class="s" x="634.67" y="405.80" font-size="11.28" textLength="19.74" lengthAdjust="spacingAndGlyphs">100</text><line x1="693.50" y1="388.50" x2="693.50" y2="393.70" stroke="#000" stroke-width="1.1"/><text class="s" x="683.67" y="405.80" font-size="11.28" textLength="19.74" lengthAdjust="spacingAndGlyphs">150</text><line x1="742.50" y1="388.50" x2="742.50" y2="393.70" stroke="#000" stroke-width="1.1"/><text class="s" x="732.58" y="405.80" font-size="11.28" textLength="19.83" lengthAdjust="spacingAndGlyphs">200</text><line x1="791.50" y1="388.50" x2="791.50" y2="393.70" stroke="#000" stroke-width="1.1"/><text class="s" x="781.58" y="405.80" font-size="11.28" textLength="19.83" lengthAdjust="spacingAndGlyphs">250</text><line x1="840.50" y1="388.50" x2="840.50" y2="393.70" stroke="#000" stroke-width="1.1"/><text class="s" x="830.70" y="405.80" font-size="11.28" textLength="19.71" lengthAdjust="spacingAndGlyphs">300</text><line x1="541.30" y1="356.50" x2="546.50" y2="356.50" stroke="#000" stroke-width="1.1"/><text class="s" x="488.54" y="360.55" font-size="11.28" textLength="46.21" lengthAdjust="spacingAndGlyphs">0.0e+00</text><line x1="541.30" y1="383.50" x2="546.50" y2="383.50" stroke="#000" stroke-width="1.1"/><text class="s" x="489.61" y="387.55" font-size="11.28" textLength="45.15" lengthAdjust="spacingAndGlyphs">-5.0e-04</text><rect x="546.50" y="336.50" width="323.00" height="52.00" fill="none" stroke="#000" stroke-width="1.2"/>
<line x1="1015.50" y1="336.50" x2="1015.50" y2="388.50" stroke="#b0b0b0" stroke-width="1.1"/><line x1="1064.50" y1="336.50" x2="1064.50" y2="388.50" stroke="#b0b0b0" stroke-width="1.1"/><line x1="1113.50" y1="336.50" x2="1113.50" y2="388.50" stroke="#b0b0b0" stroke-width="1.1"/><line x1="1162.50" y1="336.50" x2="1162.50" y2="388.50" stroke="#b0b0b0" stroke-width="1.1"/><line x1="1211.50" y1="336.50" x2="1211.50" y2="388.50" stroke="#b0b0b0" stroke-width="1.1"/><line x1="1260.50" y1="336.50" x2="1260.50" y2="388.50" stroke="#b0b0b0" stroke-width="1.1"/><line x1="966.50" y1="350.50" x2="1288.50" y2="350.50" stroke="#b0b0b0" stroke-width="1.1"/><line x1="966.50" y1="365.50" x2="1288.50" y2="365.50" stroke="#b0b0b0" stroke-width="1.1"/><line x1="966.50" y1="380.50" x2="1288.50" y2="380.50" stroke="#b0b0b0" stroke-width="1.1"/><g clip-path="url(#c32)"><path d="M966.5 364.6 970.4 364.5 974.3 364.5 978.3 364.6 982.2 364.6 986.1 364.5 988.6 364.3 989.0 363.8 989.5 363.6 990.0 362.4 990.5 361.5 991.0 356.9 991.5 358.5 992.0 358.3 992.5 357.6 993.0 360.6 993.5 359.7 993.9 359.4 994.4 361.0 994.9 361.0 995.4 360.6 995.9 359.1 996.4 360.9 996.9 360.0 997.4 361.1 997.9 359.9 998.4 360.6 998.8 360.9 999.3 360.4 999.8 358.0 1000.3 360.4 1000.8 360.6 1001.3 360.0 1001.8 360.0 1002.3 361.9 1002.8 361.8 1003.3 360.5 1003.8 360.4 1004.2 360.6 1004.7 361.1 1005.2 361.0 1005.7 358.9 1006.2 359.7 1006.7 358.6 1007.2 359.1 1007.7 355.8 1008.2 353.6 1008.7 341.1 1009.1 336.0 1009.6 344.7 1010.1 338.3 1010.6 342.4 1011.1 336.3 1011.6 345.4 1012.1 349.1 1012.6 351.9 1013.1 348.3 1013.6 351.1 1014.0 355.3 1014.5 353.9 1015.0 357.0 1015.5 357.4 1016.0 355.5 1016.5 358.0 1017.0 357.4 1017.5 356.4 1018.0 352.9 1018.5 356.4 1018.9 357.1 1019.4 355.8 1019.9 359.0 1020.4 358.4 1020.9 360.0 1021.4 358.5 1021.9 360.5 1022.4 359.6 1022.9 360.9 1023.4 359.4 1023.8 360.9 1024.3 360.0 1024.8 360.2 1025.3 360.4 1025.8 361.3 1026.3 360.6 1026.8 362.0 1027.3 362.2 1027.8 362.3 1028.3 361.4 1028.7 361.4 1029.2 362.3 1029.7 362.3 1030.2 360.8 1030.7 361.3 1031.2 360.3 1031.7 361.9 1032.2 361.9 1032.7 361.9 1033.2 362.3 1033.7 361.7 1034.1 361.3 1034.6 362.6 1035.1 362.2 1035.6 362.6 1036.1 361.7 1036.6 362.3 1037.1 362.0 1037.6 363.0 1038.1 361.9 1038.6 362.5 1039.0 361.7 1039.5 362.7 1040.0 362.9 1040.5 362.8 1041.0 361.8 1041.5 361.9 1042.0 362.7 1042.5 362.2 1043.0 362.7 1043.5 362.6 1043.9 362.7 1044.4 362.5 1044.9 361.6 1045.4 362.5 1045.9 362.6 1046.4 361.7 1046.9 362.6 1047.4 362.7 1047.9 362.9 1048.4 362.3 1048.8 362.0 1049.3 362.9 1049.8 362.1 1050.3 363.1 1050.8 363.1 1051.3 362.9 1051.8 363.0 1052.3 363.0 1052.8 363.0 1053.3 362.2 1053.7 363.0 1054.2 362.8 1054.7 362.5 1055.2 363.0 1055.7 362.8 1056.2 362.3 1056.7 361.9 1057.2 362.8 1057.7 362.8 1058.2 362.8 1058.6 362.2 1059.1 362.6 1059.6 362.6 1060.1 362.7 1060.6 361.4 1061.1 362.5 1061.6 362.6 1062.1 362.8 1062.6 362.7 1063.1 363.0 1063.5 363.0 1064.0 362.7 1064.5 362.4 1065.0 362.8 1065.5 362.9 1066.0 362.9 1066.5 363.1 1067.0 363.4 1067.5 362.8 1068.0 363.4 1068.5 363.0 1068.9 363.1 1069.4 363.4 1069.9 363.2 1070.4 363.1 1070.9 363.3 1071.4 363.4 1071.9 363.1 1072.4 362.7 1072.9 363.5 1073.4 363.4 1073.8 363.5 1074.3 362.7 1074.8 363.4 1075.3 363.4 1075.8 363.4 1076.3 363.2 1076.8 362.7 1077.3 363.2 1077.8 363.2 1078.3 362.2 1078.7 363.0 1079.2 363.0 1079.7 363.0 1080.2 362.5 1080.7 363.0 1081.2 362.9 1081.7 362.9 1082.2 361.9 1082.7 362.2 1083.2 362.8 1083.6 362.4 1084.1 362.0 1084.6 362.7 1085.1 362.7 1085.6 362.8 1086.1 362.3 1086.6 362.6 1087.1 362.8 1087.6 362.7 1088.1 361.8 1088.5 361.8 1089.0 362.7 1089.5 362.8 1090.0 362.7 1090.5 363.1 1091.0 363.1 1091.5 363.2 1092.0 362.7 1092.5 362.9 1093.0 363.4 1093.4 363.2 1093.9 362.8 1094.4 363.4 1094.9 362.9 1095.4 363.2 1095.9 363.2 1096.4 363.3 1096.9 363.1 1097.4 362.4 1097.9 362.5 1098.4 362.4 1098.8 362.9 1099.3 363.4 1099.8 363.3 1100.3 363.4 1100.8 362.9 1101.3 363.6 1101.8 363.5 1102.3 363.4 1102.8 363.0 1103.3 363.8 1103.7 363.2 1104.2 363.6 1104.7 363.7 1105.2 363.9 1105.7 363.8 1106.2 363.5 1106.7 363.8 1107.2 363.9 1107.7 363.8 1108.2 363.4 1108.6 363.8 1109.1 363.6 1109.6 363.7 1110.1 363.9 1110.6 363.5 1111.1 363.5 1111.6 363.9 1112.1 363.9 1112.6 364.0 1113.1 363.4 1113.5 363.4 1114.0 364.0 1114.5 364.0 1115.0 363.5 1115.5 364.0 1116.0 363.9 1116.5 363.6 1117.0 363.5 1117.5 364.0 1118.0 364.0 1118.4 363.8 1118.9 364.0 1119.4 364.0 1119.9 363.7 1120.4 364.0 1120.9 364.0 1121.4 364.1 1121.9 363.8 1122.4 363.9 1122.9 364.1 1123.3 364.1 1123.8 364.1 1124.3 363.8 1124.8 364.1 1125.3 364.1 1125.8 363.9 1126.3 364.1 1126.8 364.2 1127.3 364.1 1127.8 364.2 1128.2 363.8 1128.7 363.9 1129.2 363.9 1129.7 363.9 1130.2 363.9 1130.7 363.9 1131.2 363.9 1131.7 364.0 1132.2 363.9 1132.7 364.0 1133.2 364.0 1133.6 363.9 1134.1 363.9 1134.6 364.0 1135.1 364.0 1135.6 364.0 1136.1 363.9 1136.6 363.9 1137.1 363.9 1137.6 364.0 1138.1 364.0 1138.5 364.0 1139.0 364.0 1139.5 364.0 1140.0 364.0 1140.5 364.0 1141.0 364.0 1141.5 364.0 1142.0 364.0 1142.5 364.0 1143.0 364.1 1143.4 364.0 1143.9 364.0 1144.4 364.1 1144.9 364.0 1145.4 364.1 1145.9 364.1 1146.4 364.0 1146.9 364.1 1147.4 364.0 1147.9 364.1 1148.3 364.1 1148.8 364.1 1149.3 364.1 1149.8 364.1 1150.3 364.1 1150.8 364.1 1151.3 364.1 1151.8 364.1 1152.3 364.1 1152.8 364.2 1153.2 364.1 1153.7 364.1 1154.2 364.2 1154.7 364.1 1155.2 364.2 1155.7 364.1 1156.2 364.2 1156.7 364.1 1157.2 364.2 1157.7 364.2 1158.1 364.1 1158.6 364.2 1159.1 364.2 1159.6 364.2 1160.1 364.2 1160.6 364.2 1161.1 364.2 1161.6 364.2 1162.1 364.2 1162.6 364.2 1166.5 364.2 1170.4 364.2 1174.3 364.2 1178.2 364.2 1182.2 364.2 1186.1 364.2 1190.0 364.2 1193.9 364.2 1197.9 364.2 1201.8 364.1 1205.7 364.1 1209.6 364.1 1213.5 364.1 1217.5 364.1 1221.4 364.1 1225.3 364.1 1229.2 364.1 1233.1 364.1 1237.1 364.1 1241.0 364.1 1244.9 364.1 1248.8 364.1 1252.7 364.0 1256.7 364.0 1260.6 364.0 1264.5 364.0 1268.4 364.0 1272.4 364.0 1276.3 364.0 1280.2 364.0 1284.1 364.0 1288.0 364.0 1289.7 364.0 1289.7 365.0 1288.0 365.0 1284.1 365.0 1280.2 365.0 1276.3 365.0 1272.4 365.1 1268.4 365.1 1264.5 365.1 1260.6 365.1 1256.7 365.1 1252.7 365.1 1248.8 365.1 1244.9 365.1 1241.0 365.1 1237.1 365.1 1233.1 365.1 1229.2 365.1 1225.3 365.1 1221.4 365.1 1217.5 365.2 1213.5 365.2 1209.6 365.2 1205.7 365.2 1201.8 365.2 1197.9 365.2 1193.9 365.2 1190.0 365.2 1186.1 365.2 1182.2 365.2 1178.2 365.2 1174.3 365.2 1170.4 365.2 1166.5 365.3 1162.6 365.3 1162.1 365.3 1161.6 365.3 1161.1 365.3 1160.6 365.3 1160.1 365.3 1159.6 365.3 1159.1 365.3 1158.6 365.3 1158.1 365.3 1157.7 365.4 1157.2 365.3 1156.7 365.3 1156.2 365.3 1155.7 365.4 1155.2 365.4 1154.7 365.3 1154.2 365.4 1153.7 365.3 1153.2 365.4 1152.8 365.4 1152.3 365.4 1151.8 365.3 1151.3 365.4 1150.8 365.4 1150.3 365.4 1149.8 365.4 1149.3 365.4 1148.8 365.5 1148.3 365.4 1147.9 365.5 1147.4 365.5 1146.9 365.5 1146.4 365.4 1145.9 365.5 1145.4 365.4 1144.9 365.5 1144.4 365.5 1143.9 365.5 1143.4 365.6 1143.0 365.5 1142.5 365.5 1142.0 365.5 1141.5 365.5 1141.0 365.6 1140.5 365.6 1140.0 365.6 1139.5 365.5 1139.0 365.5 1138.5 365.6 1138.1 365.6 1137.6 365.6 1137.1 365.6 1136.6 365.7 1136.1 365.6 1135.6 365.6 1135.1 365.6 1134.6 365.6 1134.1 365.7 1133.6 365.7 1133.2 365.7 1132.7 365.7 1132.2 365.7 1131.7 365.7 1131.2 365.7 1130.7 365.6 1130.2 365.7 1129.7 365.7 1129.2 365.8 1128.7 365.8 1128.2 365.7 1127.8 365.6 1127.3 365.4 1126.8 365.4 1126.3 365.5 1125.8 365.8 1125.3 365.5 1124.8 365.5 1124.3 365.6 1123.8 365.8 1123.3 365.5 1122.9 365.6 1122.4 365.7 1121.9 365.6 1121.4 366.0 1120.9 365.6 1120.4 365.9 1119.9 365.8 1119.4 365.6 1118.9 365.6 1118.4 365.7 1118.0 365.9 1117.5 365.7 1117.0 365.7 1116.5 366.2 1116.0 365.8 1115.5 365.7 1115.0 365.7 1114.5 365.7 1114.0 365.9 1113.5 366.2 1113.1 365.8 1112.6 365.7 1112.1 365.8 1111.6 366.1 1111.1 365.8 1110.6 365.7 1110.1 365.8 1109.6 366.1 1109.1 365.8 1108.6 366.2 1108.2 366.2 1107.7 365.8 1107.2 365.8 1106.7 366.4 1106.2 365.8 1105.7 366.4 1105.2 365.8 1104.7 366.0 1104.2 366.3 1103.7 366.4 1103.3 365.9 1102.8 366.0 1102.3 366.8 1101.8 366.2 1101.3 366.2 1100.8 366.8 1100.3 366.4 1099.8 366.8 1099.3 367.0 1098.8 366.6 1098.4 366.7 1097.9 367.5 1097.4 366.8 1096.9 366.6 1096.4 366.5 1095.9 367.2 1095.4 366.5 1094.9 366.5 1094.4 366.3 1093.9 366.3 1093.4 366.7 1093.0 366.3 1092.5 366.3 1092.0 366.8 1091.5 366.7 1091.0 366.3 1090.5 366.3 1090.0 366.8 1089.5 367.0 1089.0 366.5 1088.5 366.7 1088.1 367.3 1087.6 366.5 1087.1 366.6 1086.6 366.6 1086.1 366.9 1085.6 367.0 1085.1 366.5 1084.6 366.5 1084.1 366.5 1083.6 367.1 1083.2 366.5 1082.7 366.5 1082.2 367.3 1081.7 366.5 1081.2 366.6 1080.7 366.6 1080.2 366.5 1079.7 367.2 1079.2 366.5 1078.7 366.5 1078.3 366.8 1077.8 367.1 1077.3 366.4 1076.8 366.4 1076.3 366.4 1075.8 366.6 1075.3 366.6 1074.8 366.3 1074.3 367.0 1073.8 367.0 1073.4 366.4 1072.9 366.3 1072.4 366.3 1071.9 366.8 1071.4 367.0 1070.9 366.5 1070.4 366.5 1069.9 366.5 1069.4 366.8 1068.9 366.5 1068.5 366.6 1068.0 366.7 1067.5 366.5 1067.0 366.6 1066.5 367.0 1066.0 366.5 1065.5 366.6 1065.0 367.1 1064.5 367.4 1064.0 366.5 1063.5 366.6 1063.1 367.6 1062.6 366.9 1062.1 366.6 1061.6 366.6 1061.1 366.5 1060.6 367.5 1060.1 366.9 1059.6 366.6 1059.1 366.6 1058.6 366.9 1058.2 366.9 1057.7 366.8 1057.2 366.8 1056.7 367.6 1056.2 367.3 1055.7 366.9 1055.2 366.8 1054.7 366.7 1054.2 367.0 1053.7 366.7 1053.3 366.8 1052.8 366.7 1052.3 367.2 1051.8 366.7 1051.3 366.7 1050.8 366.6 1050.3 366.6 1049.8 367.4 1049.3 367.0 1048.8 366.5 1048.4 366.6 1047.9 366.8 1047.4 367.4 1046.9 366.6 1046.4 366.9 1045.9 366.7 1045.4 366.6 1044.9 367.4 1044.4 367.2 1043.9 367.5 1043.5 366.7 1043.0 366.7 1042.5 366.6 1042.0 367.6 1041.5 366.6 1041.0 367.6 1040.5 367.0 1040.0 366.8 1039.5 367.0 1039.0 367.0 1038.6 367.8 1038.1 367.2 1037.6 367.2 1037.1 368.5 1036.6 367.2 1036.1 367.3 1035.6 367.6 1035.1 367.0 1034.6 366.9 1034.1 367.9 1033.7 367.3 1033.2 366.8 1032.7 366.7 1032.2 366.8 1031.7 367.6 1031.2 367.5 1030.7 366.8 1030.2 367.1 1029.7 367.2 1029.2 366.9 1028.7 367.2 1028.3 368.2 1027.8 367.7 1027.3 367.5 1026.8 368.3 1026.3 368.2 1025.8 367.9 1025.3 369.3 1024.8 368.7 1024.3 368.0 1023.8 368.3 1023.4 369.7 1022.9 370.2 1022.4 370.2 1021.9 369.8 1021.4 372.3 1020.9 371.5 1020.4 370.2 1019.9 370.3 1019.4 373.9 1018.9 376.7 1018.5 376.9 1018.0 382.7 1017.5 376.5 1017.0 377.7 1016.5 379.0 1016.0 377.9 1015.5 373.0 1015.0 373.5 1014.5 374.6 1014.0 372.5 1013.6 373.9 1013.1 378.8 1012.6 377.9 1012.1 382.6 1011.6 385.4 1011.1 388.9 1010.6 383.1 1010.1 388.2 1009.6 382.3 1009.1 382.3 1008.7 384.8 1008.2 379.5 1007.7 374.7 1007.2 371.1 1006.7 372.4 1006.2 371.1 1005.7 371.2 1005.2 370.1 1004.7 369.9 1004.2 368.4 1003.8 369.5 1003.3 369.9 1002.8 368.6 1002.3 369.0 1001.8 370.5 1001.3 370.8 1000.8 369.3 1000.3 369.3 999.8 371.3 999.3 369.3 998.8 370.8 998.4 369.3 997.9 371.5 997.4 370.2 996.9 371.6 996.4 372.4 995.9 372.8 995.4 370.4 994.9 369.7 994.4 370.6 993.9 370.8 993.5 369.7 993.0 370.4 992.5 373.2 992.0 371.9 991.5 371.7 991.0 372.7 990.5 368.2 990.0 367.8 989.5 367.1 989.0 366.1 988.6 365.8 986.1 365.6 982.2 365.6 978.3 365.6 974.3 365.7 970.4 365.7 966.5 365.6Z" fill="#000" stroke="#000" stroke-width="1" stroke-linejoin="round"/></g><line x1="966.50" y1="388.50" x2="966.50" y2="393.70" stroke="#000" stroke-width="1.1"/><text class="s" x="963.62" y="405.80" font-size="11.28" textLength="5.71" lengthAdjust="spacingAndGlyphs">0</text><line x1="1015.50" y1="388.50" x2="1015.50" y2="393.70" stroke="#000" stroke-width="1.1"/><text class="s" x="1009.20" y="405.80" font-size="11.28" textLength="12.65" lengthAdjust="spacingAndGlyphs">50</text><line x1="1064.50" y1="388.50" x2="1064.50" y2="393.70" stroke="#000" stroke-width="1.1"/><text class="s" x="1054.67" y="405.80" font-size="11.28" textLength="19.74" lengthAdjust="spacingAndGlyphs">100</text><line x1="1113.50" y1="388.50" x2="1113.50" y2="393.70" stroke="#000" stroke-width="1.1"/><text class="s" x="1103.67" y="405.80" font-size="11.28" textLength="19.74" lengthAdjust="spacingAndGlyphs">150</text><line x1="1162.50" y1="388.50" x2="1162.50" y2="393.70" stroke="#000" stroke-width="1.1"/><text class="s" x="1152.58" y="405.80" font-size="11.28" textLength="19.83" lengthAdjust="spacingAndGlyphs">200</text><line x1="1211.50" y1="388.50" x2="1211.50" y2="393.70" stroke="#000" stroke-width="1.1"/><text class="s" x="1201.58" y="405.80" font-size="11.28" textLength="19.83" lengthAdjust="spacingAndGlyphs">250</text><line x1="1260.50" y1="388.50" x2="1260.50" y2="393.70" stroke="#000" stroke-width="1.1"/><text class="s" x="1250.70" y="405.80" font-size="11.28" textLength="19.71" lengthAdjust="spacingAndGlyphs">300</text><line x1="961.30" y1="350.50" x2="966.50" y2="350.50" stroke="#000" stroke-width="1.1"/><text class="s" x="913.86" y="354.55" font-size="11.28" textLength="40.93" lengthAdjust="spacingAndGlyphs">1.0e-04</text><line x1="961.30" y1="365.50" x2="966.50" y2="365.50" stroke="#000" stroke-width="1.1"/><text class="s" x="908.54" y="369.55" font-size="11.28" textLength="46.21" lengthAdjust="spacingAndGlyphs">0.0e+00</text><line x1="961.30" y1="380.50" x2="966.50" y2="380.50" stroke="#000" stroke-width="1.1"/><text class="s" x="909.61" y="384.55" font-size="11.28" textLength="45.15" lengthAdjust="spacingAndGlyphs">-1.0e-04</text><rect x="966.50" y="336.50" width="322.00" height="52.00" fill="none" stroke="#000" stroke-width="1.2"/>
<line x1="175.50" y1="420.50" x2="175.50" y2="472.50" stroke="#b0b0b0" stroke-width="1.1"/><line x1="224.50" y1="420.50" x2="224.50" y2="472.50" stroke="#b0b0b0" stroke-width="1.1"/><line x1="273.50" y1="420.50" x2="273.50" y2="472.50" stroke="#b0b0b0" stroke-width="1.1"/><line x1="322.50" y1="420.50" x2="322.50" y2="472.50" stroke="#b0b0b0" stroke-width="1.1"/><line x1="371.50" y1="420.50" x2="371.50" y2="472.50" stroke="#b0b0b0" stroke-width="1.1"/><line x1="420.50" y1="420.50" x2="420.50" y2="472.50" stroke="#b0b0b0" stroke-width="1.1"/><line x1="126.50" y1="427.50" x2="449.50" y2="427.50" stroke="#b0b0b0" stroke-width="1.1"/><line x1="126.50" y1="443.50" x2="449.50" y2="443.50" stroke="#b0b0b0" stroke-width="1.1"/><line x1="126.50" y1="458.50" x2="449.50" y2="458.50" stroke="#b0b0b0" stroke-width="1.1"/><g clip-path="url(#c40)"><path d="M126.5 442.3 130.4 442.3 134.3 442.3 138.3 442.3 142.2 442.3 146.1 442.3 150.0 442.3 152.5 441.9 153.0 441.9 153.5 441.6 153.9 440.6 154.4 440.2 154.9 440.8 155.4 440.0 155.9 439.4 156.4 440.1 156.9 439.8 157.4 437.7 157.9 438.3 158.4 439.4 158.8 438.9 159.3 440.2 159.8 440.2 160.3 440.1 160.8 439.2 161.3 439.9 161.8 438.8 162.3 439.1 162.8 438.7 163.3 439.9 163.8 439.9 164.2 439.6 164.7 439.4 165.2 438.6 165.7 438.9 166.2 439.9 166.7 439.7 167.2 439.2 167.7 439.6 168.2 438.7 168.7 438.3 169.1 439.7 169.6 439.7 170.1 440.1 170.6 439.3 171.1 440.1 171.6 439.1 172.1 440.0 172.6 439.0 173.1 435.7 173.6 434.5 174.0 424.3 174.5 420.2 175.0 426.3 175.5 419.8 176.0 422.0 176.5 424.1 177.0 425.8 177.5 423.4 178.0 425.5 178.5 427.1 178.9 420.5 179.4 427.4 179.9 428.9 180.4 424.9 180.9 430.6 181.4 427.6 181.9 427.1 182.4 430.3 182.9 422.7 183.4 425.5 183.8 421.3 184.3 428.5 184.8 428.8 185.3 428.0 185.8 432.4 186.3 431.2 186.8 425.0 187.3 429.7 187.8 424.9 188.3 431.3 188.7 430.7 189.2 435.5 189.7 435.5 190.2 434.0 190.7 436.8 191.2 434.3 191.7 435.8 192.2 431.6 192.7 431.2 193.2 434.2 193.7 431.1 194.1 433.9 194.6 434.7 195.1 438.0 195.6 438.1 196.1 436.2 196.6 438.0 197.1 437.5 197.6 438.9 198.1 437.7 198.6 438.2 199.0 438.2 199.5 439.5 200.0 439.8 200.5 438.7 201.0 438.6 201.5 439.6 202.0 439.6 202.5 438.7 203.0 437.6 203.5 438.4 203.9 438.0 204.4 435.3 204.9 437.5 205.4 438.3 205.9 437.8 206.4 438.1 206.9 438.5 207.4 439.3 207.9 438.8 208.4 439.1 208.8 437.9 209.3 439.1 209.8 437.6 210.3 438.2 210.8 439.0 211.3 437.5 211.8 437.4 212.3 438.8 212.8 438.8 213.3 438.5 213.7 436.8 214.2 438.5 214.7 438.3 215.2 436.9 215.7 438.1 216.2 438.4 216.7 435.9 217.2 438.3 217.7 439.1 218.2 438.2 218.6 439.0 219.1 439.1 219.6 439.0 220.1 439.9 220.6 438.6 221.1 440.0 221.6 439.6 222.1 440.0 222.6 439.4 223.1 439.6 223.5 440.0 224.0 440.0 224.5 438.9 225.0 440.2 225.5 438.8 226.0 439.5 226.5 440.3 227.0 439.4 227.5 440.5 228.0 439.6 228.5 439.7 228.9 439.8 229.4 440.7 229.9 440.7 230.4 440.1 230.9 440.6 231.4 440.5 231.9 440.5 232.4 439.5 232.9 440.6 233.4 440.6 233.8 440.5 234.3 439.6 234.8 440.6 235.3 440.0 235.8 440.0 236.3 440.5 236.8 440.6 237.3 439.6 237.8 439.3 238.3 440.5 238.7 440.5 239.2 440.6 239.7 440.3 240.2 440.7 240.7 440.0 241.2 439.8 241.7 440.5 242.2 439.5 242.7 440.6 243.2 439.7 243.6 440.6 244.1 440.6 244.6 440.7 245.1 440.4 245.6 440.8 246.1 440.8 246.6 440.3 247.1 440.1 247.6 440.8 248.1 440.4 248.5 440.6 249.0 440.4 249.5 439.1 250.0 440.2 250.5 440.3 251.0 438.9 251.5 439.8 252.0 440.0 252.5 440.5 253.0 440.0 253.4 441.0 253.9 440.6 254.4 440.2 254.9 441.1 255.4 441.0 255.9 441.0 256.4 440.4 256.9 440.4 257.4 441.1 257.9 440.4 258.4 440.5 258.8 440.3 259.3 440.9 259.8 440.7 260.3 441.1 260.8 441.1 261.3 440.5 261.8 441.0 262.3 441.1 262.8 440.9 263.3 440.8 263.7 440.4 264.2 441.2 264.7 440.7 265.2 441.1 265.7 441.1 266.2 441.1 266.7 441.2 267.2 440.7 267.7 441.2 268.2 441.1 268.6 441.1 269.1 441.2 269.6 440.4 270.1 441.2 270.6 441.2 271.1 441.2 271.6 440.9 272.1 441.3 272.6 441.3 273.1 441.3 273.5 440.7 274.0 441.4 274.5 441.4 275.0 441.2 275.5 441.3 276.0 440.5 276.5 441.3 277.0 441.3 277.5 440.8 278.0 440.8 278.4 440.3 278.9 440.8 279.4 441.2 279.9 441.2 280.4 441.2 280.9 440.9 281.4 441.0 281.9 441.4 282.4 441.3 282.9 440.8 283.3 440.8 283.8 441.5 284.3 441.3 284.8 441.5 285.3 441.0 285.8 441.5 286.3 441.5 286.8 441.3 287.3 440.6 287.8 441.3 288.2 440.8 288.7 441.3 289.2 440.7 289.7 441.5 290.2 441.5 290.7 441.4 291.2 441.1 291.7 441.5 292.2 441.6 292.7 441.7 293.2 441.4 293.6 440.9 294.1 441.7 294.6 441.6 295.1 441.6 295.6 441.0 296.1 441.6 296.6 441.7 297.1 441.8 297.6 441.8 298.1 441.3 298.5 441.8 299.0 441.9 299.5 441.8 300.0 441.9 300.5 441.4 301.0 441.8 301.5 441.9 302.0 441.9 302.5 441.8 303.0 441.8 303.4 441.9 303.9 441.9 304.4 441.8 304.9 441.9 305.4 442.0 305.9 442.0 306.4 441.5 306.9 441.5 307.4 442.0 307.9 442.0 308.3 441.7 308.8 442.0 309.3 442.1 309.8 441.6 310.3 441.7 310.8 442.0 311.3 442.1 311.8 442.1 312.3 441.8 312.8 441.6 313.2 442.1 313.7 442.1 314.2 442.0 314.7 442.1 315.2 442.1 315.7 442.1 316.2 442.1 316.7 442.1 317.2 442.0 317.7 442.1 318.1 442.2 318.6 442.0 319.1 442.1 319.6 442.2 320.1 441.8 320.6 442.1 321.1 442.2 321.6 442.1 322.1 441.9 322.6 442.2 323.1 442.2 323.5 442.1 324.0 442.1 324.5 441.7 325.0 442.2 325.5 442.0 326.0 441.9 326.5 441.9 327.0 441.9 327.5 441.9 328.0 441.9 328.4 441.9 328.9 441.9 329.4 441.9 329.9 441.9 330.4 441.9 330.9 441.9 331.4 442.0 331.9 442.0 332.4 441.9 332.9 442.0 333.3 442.0 333.8 442.0 334.3 442.0 334.8 442.1 335.3 442.0 335.8 442.0 336.3 442.0 336.8 442.0 337.3 442.0 337.8 442.0 338.2 442.1 338.7 442.1 339.2 442.0 339.7 442.1 340.2 442.0 340.7 442.1 341.2 442.0 341.7 442.1 342.2 442.1 342.7 442.1 343.1 442.0 343.6 442.1 344.1 442.1 344.6 442.1 345.1 442.1 345.6 442.1 346.1 442.1 346.6 442.1 347.1 442.1 347.6 442.0 348.0 442.1 348.5 442.1 349.0 442.1 349.5 442.1 350.0 442.1 350.5 442.2 351.0 442.1 351.5 442.1 352.0 442.2 352.5 442.1 352.9 442.1 353.4 442.1 353.9 442.2 354.4 442.1 354.9 442.2 355.4 442.2 355.9 442.1 356.4 442.2 356.9 442.2 357.4 442.2 357.9 442.2 358.3 442.2 358.8 442.2 359.3 442.2 359.8 442.2 360.3 442.2 360.8 442.2 361.3 442.2 361.8 442.3 362.3 442.3 362.8 442.2 363.2 442.3 363.7 442.2 364.2 442.2 364.7 442.3 365.2 442.2 365.7 442.2 366.2 442.3 366.7 442.3 367.2 442.2 367.7 442.2 368.1 442.3 368.6 442.3 369.1 442.2 369.6 442.3 370.1 442.3 370.6 442.3 371.1 442.3 371.6 442.3 375.5 442.3 379.4 442.3 383.3 442.3 387.3 442.3 391.2 442.3 395.1 442.3 399.0 442.3 402.9 442.3 406.9 442.3 410.8 442.3 414.7 442.3 418.6 442.3 422.6 442.3 426.5 442.3 430.4 442.3 434.3 442.3 438.2 442.3 442.2 442.3 446.1 442.3 449.7 442.3 449.7 443.3 446.1 443.3 442.2 443.3 438.2 443.3 434.3 443.3 430.4 443.3 426.5 443.3 422.6 443.3 418.6 443.3 414.7 443.3 410.8 443.3 406.9 443.3 402.9 443.3 399.0 443.3 395.1 443.3 391.2 443.3 387.3 443.3 383.3 443.3 379.4 443.3 375.5 443.3 371.6 443.3 371.1 443.3 370.6 443.3 370.1 443.4 369.6 443.3 369.1 443.4 368.6 443.4 368.1 443.4 367.7 443.4 367.2 443.4 366.7 443.3 366.2 443.4 365.7 443.4 365.2 443.4 364.7 443.4 364.2 443.4 363.7 443.4 363.2 443.4 362.8 443.3 362.3 443.4 361.8 443.4 361.3 443.4 360.8 443.3 360.3 443.4 359.8 443.4 359.3 443.4 358.8 443.4 358.3 443.4 357.9 443.4 357.4 443.4 356.9 443.4 356.4 443.4 355.9 443.5 355.4 443.5 354.9 443.4 354.4 443.5 353.9 443.4 353.4 443.4 352.9 443.5 352.5 443.4 352.0 443.4 351.5 443.5 351.0 443.4 350.5 443.5 350.0 443.4 349.5 443.4 349.0 443.4 348.5 443.4 348.0 443.4 347.6 443.4 347.1 443.5 346.6 443.6 346.1 443.5 345.6 443.5 345.1 443.5 344.6 443.5 344.1 443.5 343.6 443.5 343.1 443.5 342.7 443.5 342.2 443.6 341.7 443.5 341.2 443.6 340.7 443.6 340.2 443.5 339.7 443.5 339.2 443.5 338.7 443.6 338.2 443.6 337.8 443.6 337.3 443.5 336.8 443.6 336.3 443.6 335.8 443.7 335.3 443.5 334.8 443.6 334.3 443.6 333.8 443.7 333.3 443.6 332.9 443.7 332.4 443.7 331.9 443.7 331.4 443.6 330.9 443.7 330.4 443.6 329.9 443.6 329.4 443.7 328.9 443.7 328.4 443.7 328.0 443.6 327.5 443.7 327.0 443.6 326.5 443.8 326.0 443.7 325.5 443.7 325.0 443.4 324.5 443.6 324.0 443.6 323.5 443.4 323.1 443.5 322.6 443.8 322.1 443.5 321.6 443.4 321.1 443.7 320.6 443.5 320.1 443.5 319.6 443.7 319.1 443.5 318.6 443.5 318.1 443.5 317.7 443.8 317.2 443.6 316.7 443.5 316.2 443.5 315.7 443.7 315.2 443.5 314.7 443.5 314.2 443.5 313.7 443.9 313.2 443.5 312.8 444.0 312.3 443.6 311.8 443.5 311.3 443.5 310.8 443.6 310.3 444.1 309.8 443.8 309.3 443.6 308.8 443.6 308.3 444.1 307.9 443.6 307.4 443.6 306.9 443.8 306.4 443.6 305.9 443.9 305.4 444.2 304.9 443.7 304.4 443.7 303.9 443.7 303.4 443.8 303.0 444.2 302.5 443.8 302.0 443.7 301.5 444.0 301.0 443.9 300.5 443.8 300.0 443.7 299.5 443.8 299.0 444.0 298.5 443.8 298.1 444.3 297.6 444.0 297.1 443.9 296.6 443.8 296.1 443.9 295.6 443.9 295.1 444.0 294.6 443.9 294.1 443.9 293.6 444.2 293.2 443.9 292.7 443.9 292.2 444.3 291.7 444.1 291.2 444.0 290.7 444.5 290.2 444.4 289.7 444.1 289.2 444.5 288.7 444.1 288.2 444.8 287.8 444.1 287.3 444.1 286.8 444.1 286.3 444.1 285.8 444.8 285.3 444.0 284.8 444.7 284.3 444.3 283.8 444.2 283.3 444.8 282.9 444.4 282.4 444.1 281.9 444.1 281.4 444.4 280.9 444.1 280.4 444.0 279.9 444.1 279.4 444.3 278.9 444.6 278.4 444.8 278.0 444.5 277.5 444.3 277.0 444.1 276.5 444.2 276.0 444.2 275.5 444.6 275.0 444.1 274.5 444.3 274.0 444.6 273.5 444.8 273.1 444.4 272.6 444.5 272.1 444.2 271.6 444.2 271.1 444.4 270.6 444.1 270.1 444.1 269.6 444.7 269.1 444.2 268.6 444.2 268.2 444.3 267.7 444.4 267.2 444.7 266.7 444.4 266.2 444.7 265.7 444.9 265.2 444.5 264.7 444.7 264.2 445.1 263.7 445.6 263.3 445.4 262.8 445.2 262.3 444.5 261.8 445.1 261.3 444.6 260.8 444.6 260.3 444.7 259.8 445.1 259.3 444.5 258.8 445.2 258.4 444.7 257.9 444.5 257.4 444.5 256.9 444.5 256.4 444.6 255.9 444.7 255.4 444.6 254.9 444.4 254.4 445.1 253.9 445.0 253.4 444.4 253.0 445.4 252.5 444.9 252.0 444.7 251.5 444.8 251.0 445.7 250.5 444.7 250.0 444.7 249.5 444.6 249.0 445.1 248.5 444.6 248.1 444.8 247.6 445.4 247.1 445.3 246.6 444.5 246.1 444.6 245.6 445.1 245.1 444.7 244.6 445.4 244.1 444.6 243.6 444.6 243.2 445.2 242.7 445.4 242.2 445.5 241.7 444.7 241.2 445.3 240.7 445.3 240.2 444.6 239.7 445.4 239.2 445.2 238.7 444.6 238.3 444.8 237.8 444.6 237.3 445.4 236.8 445.2 236.3 444.6 235.8 445.2 235.3 444.7 234.8 445.3 234.3 444.7 233.8 444.6 233.4 444.5 232.9 444.8 232.4 445.4 231.9 445.1 231.4 445.6 230.9 444.9 230.4 444.8 229.9 444.8 229.4 445.5 228.9 444.9 228.5 445.9 228.0 445.4 227.5 445.3 227.0 445.0 226.5 445.2 226.0 445.1 225.5 446.5 225.0 445.0 224.5 446.0 224.0 445.8 223.5 445.1 223.1 445.2 222.6 445.4 222.1 446.0 221.6 445.5 221.1 446.2 220.6 446.8 220.1 446.4 219.6 446.1 219.1 446.1 218.6 446.1 218.2 447.7 217.7 446.3 217.2 446.7 216.7 448.7 216.2 447.1 215.7 447.1 215.2 447.1 214.7 448.3 214.2 447.8 213.7 449.2 213.3 447.6 212.8 447.0 212.3 446.7 211.8 448.0 211.3 446.9 210.8 446.6 210.3 446.6 209.8 447.7 209.3 446.7 208.8 448.5 208.4 446.7 207.9 446.4 207.4 447.2 206.9 446.3 206.4 446.2 205.9 447.5 205.4 446.6 204.9 446.0 204.4 447.2 203.9 446.0 203.5 445.9 203.0 447.2 202.5 445.7 202.0 445.5 201.5 445.3 201.0 446.3 200.5 445.5 200.0 445.5 199.5 445.7 199.0 446.6 198.6 446.2 198.1 447.8 197.6 446.7 197.1 446.9 196.6 449.6 196.1 450.0 195.6 448.6 195.1 450.9 194.6 450.7 194.1 447.2 193.7 448.8 193.2 447.5 192.7 448.3 192.2 450.3 191.7 449.4 191.2 452.4 190.7 451.9 190.2 457.1 189.7 456.8 189.2 454.2 188.7 458.6 188.3 458.3 187.8 459.4 187.3 454.9 186.8 460.4 186.3 458.1 185.8 460.1 185.3 461.7 184.8 457.6 184.3 456.4 183.8 461.1 183.4 459.4 182.9 467.4 182.4 457.7 181.9 461.2 181.4 456.2 180.9 456.5 180.4 463.7 179.9 466.1 179.4 468.7 178.9 471.3 178.5 463.7 178.0 464.2 177.5 472.3 177.0 466.8 176.5 463.9 176.0 468.1 175.5 470.9 175.0 462.0 174.5 460.5 174.0 461.9 173.6 451.7 173.1 449.9 172.6 446.5 172.1 445.4 171.6 446.3 171.1 445.4 170.6 445.9 170.1 445.1 169.6 445.3 169.1 445.3 168.7 446.4 168.2 445.8 167.7 445.5 167.2 445.4 166.7 446.4 166.2 445.6 165.7 446.8 165.2 445.6 164.7 445.9 164.2 446.2 163.8 445.4 163.3 445.1 162.8 445.0 162.3 445.1 161.8 446.1 161.3 445.3 160.8 446.7 160.3 445.9 159.8 446.6 159.3 446.6 158.8 447.7 158.4 446.2 157.9 447.4 157.4 447.2 156.9 446.2 156.4 445.1 155.9 445.6 155.4 444.8 154.9 445.3 154.4 444.9 153.9 445.2 153.5 444.1 153.0 443.8 152.5 443.8 150.0 443.3 146.1 443.3 142.2 443.3 138.3 443.3 134.3 443.3 130.4 443.3 126.5 443.3Z" fill="#000" stroke="#000" stroke-width="1" stroke-linejoin="round"/></g><line x1="126.50" y1="472.50" x2="126.50" y2="477.70" stroke="#000" stroke-width="1.1"/><text class="s" x="123.62" y="489.80" font-size="11.28" textLength="5.71" lengthAdjust="spacingAndGlyphs">0</text><line x1="175.50" y1="472.50" x2="175.50" y2="477.70" stroke="#000" stroke-width="1.1"/><text class="s" x="169.20" y="489.80" font-size="11.28" textLength="12.65" lengthAdjust="spacingAndGlyphs">50</text><line x1="224.50" y1="472.50" x2="224.50" y2="477.70" stroke="#000" stroke-width="1.1"/><text class="s" x="214.67" y="489.80" font-size="11.28" textLength="19.74" lengthAdjust="spacingAndGlyphs">100</text><line x1="273.50" y1="472.50" x2="273.50" y2="477.70" stroke="#000" stroke-width="1.1"/><text class="s" x="263.67" y="489.80" font-size="11.28" textLength="19.74" lengthAdjust="spacingAndGlyphs">150</text><line x1="322.50" y1="472.50" x2="322.50" y2="477.70" stroke="#000" stroke-width="1.1"/><text class="s" x="312.58" y="489.80" font-size="11.28" textLength="19.83" lengthAdjust="spacingAndGlyphs">200</text><line x1="371.50" y1="472.50" x2="371.50" y2="477.70" stroke="#000" stroke-width="1.1"/><text class="s" x="361.58" y="489.80" font-size="11.28" textLength="19.83" lengthAdjust="spacingAndGlyphs">250</text><line x1="420.50" y1="472.50" x2="420.50" y2="477.70" stroke="#000" stroke-width="1.1"/><text class="s" x="410.70" y="489.80" font-size="11.28" textLength="19.71" lengthAdjust="spacingAndGlyphs">300</text><line x1="121.30" y1="427.50" x2="126.50" y2="427.50" stroke="#000" stroke-width="1.1"/><text class="s" x="74.70" y="431.55" font-size="11.28" textLength="40.89" lengthAdjust="spacingAndGlyphs">5.0e-04</text><line x1="121.30" y1="443.50" x2="126.50" y2="443.50" stroke="#000" stroke-width="1.1"/><text class="s" x="69.34" y="446.55" font-size="11.28" textLength="46.21" lengthAdjust="spacingAndGlyphs">0.0e+00</text><line x1="121.30" y1="458.50" x2="126.50" y2="458.50" stroke="#000" stroke-width="1.1"/><text class="s" x="70.41" y="462.55" font-size="11.28" textLength="45.15" lengthAdjust="spacingAndGlyphs">-5.0e-04</text><rect x="126.50" y="420.50" width="323.00" height="52.00" fill="none" stroke="#000" stroke-width="1.2"/>
<line x1="595.50" y1="420.50" x2="595.50" y2="472.50" stroke="#b0b0b0" stroke-width="1.1"/><line x1="644.50" y1="420.50" x2="644.50" y2="472.50" stroke="#b0b0b0" stroke-width="1.1"/><line x1="693.50" y1="420.50" x2="693.50" y2="472.50" stroke="#b0b0b0" stroke-width="1.1"/><line x1="742.50" y1="420.50" x2="742.50" y2="472.50" stroke="#b0b0b0" stroke-width="1.1"/><line x1="791.50" y1="420.50" x2="791.50" y2="472.50" stroke="#b0b0b0" stroke-width="1.1"/><line x1="840.50" y1="420.50" x2="840.50" y2="472.50" stroke="#b0b0b0" stroke-width="1.1"/><line x1="546.50" y1="422.50" x2="869.50" y2="422.50" stroke="#b0b0b0" stroke-width="1.1"/><line x1="546.50" y1="450.50" x2="869.50" y2="450.50" stroke="#b0b0b0" stroke-width="1.1"/><g clip-path="url(#c41)"><path d="M546.5 449.3 550.4 449.3 554.3 449.3 558.3 449.3 562.2 449.3 566.1 449.3 570.0 449.3 571.5 449.3 572.0 449.2 572.5 449.0 573.0 449.0 573.5 447.9 573.9 444.9 574.4 444.6 574.9 445.2 575.4 444.7 575.9 443.0 576.4 445.0 576.9 445.2 577.4 444.0 577.9 444.6 578.4 444.9 578.8 443.0 579.3 444.9 579.8 445.5 580.3 446.0 580.8 445.0 581.3 446.5 581.8 446.3 582.3 446.2 582.8 446.1 583.3 445.7 583.8 444.4 584.2 445.9 584.7 446.1 585.2 445.9 585.7 445.2 586.2 446.4 586.7 445.3 587.2 446.2 587.7 445.1 588.2 446.5 588.7 446.4 589.1 445.9 589.6 444.8 590.1 445.7 590.6 445.9 591.1 446.5 591.6 445.8 592.1 446.5 592.6 445.1 593.1 443.6 593.6 443.4 594.0 436.6 594.5 435.3 595.0 439.0 595.5 434.5 596.0 437.1 596.5 432.0 597.0 432.1 597.5 430.9 598.0 436.1 598.5 434.3 598.9 433.6 599.4 431.4 599.9 437.2 600.4 433.7 600.9 439.6 601.4 435.8 601.9 436.5 602.4 433.2 602.9 437.6 603.4 435.6 603.8 434.3 604.3 438.7 604.8 439.6 605.3 436.6 605.8 438.0 606.3 441.0 606.8 441.7 607.3 439.6 607.8 442.8 608.3 441.4 608.7 442.6 609.2 439.5 609.7 442.5 610.2 440.5 610.7 442.3 611.2 442.5 611.7 442.9 612.2 440.1 612.7 442.8 613.2 442.9 613.7 440.4 614.1 440.4 614.6 442.7 615.1 440.5 615.6 442.5 616.1 441.3 616.6 438.5 617.1 440.4 617.6 437.3 618.1 441.5 618.6 440.2 619.0 443.6 619.5 441.5 620.0 443.3 620.5 443.2 621.0 440.7 621.5 442.7 622.0 442.2 622.5 444.5 623.0 442.9 623.5 445.1 623.9 445.2 624.4 443.8 624.9 443.9 625.4 446.0 625.9 446.2 626.4 446.4 626.9 445.0 627.4 446.8 627.9 446.9 628.4 447.1 628.8 446.2 629.3 446.1 629.8 447.4 630.3 447.5 630.8 447.3 631.3 447.2 631.8 446.8 632.3 447.5 632.8 447.0 633.3 446.2 633.7 446.3 634.2 444.4 634.7 445.6 635.2 445.9 635.7 446.0 636.2 447.4 636.7 446.4 637.2 447.2 637.7 447.2 638.2 447.0 638.6 445.6 639.1 446.8 639.6 446.1 640.1 443.9 640.6 445.8 641.1 445.8 641.6 445.7 642.1 447.4 642.6 447.4 643.1 446.9 643.5 447.3 644.0 447.4 644.5 446.4 645.0 446.9 645.5 447.2 646.0 446.5 646.5 447.1 647.0 446.6 647.5 445.9 648.0 447.2 648.5 446.7 648.9 447.4 649.4 446.2 649.9 446.8 650.4 447.3 650.9 447.2 651.4 446.9 651.9 446.8 652.4 447.3 652.9 447.2 653.4 447.4 653.8 446.6 654.3 446.1 654.8 447.3 655.3 446.8 655.8 446.9 656.3 447.4 656.8 447.4 657.3 446.8 657.8 446.2 658.3 447.4 658.7 446.7 659.2 446.2 659.7 447.4 660.2 447.3 660.7 447.2 661.2 446.5 661.7 447.1 662.2 446.9 662.7 446.5 663.2 446.2 663.6 447.1 664.1 445.8 664.6 447.2 665.1 447.4 665.6 447.5 666.1 446.9 666.6 447.1 667.1 447.8 667.6 447.7 668.1 447.8 668.5 447.7 669.0 446.9 669.5 447.7 670.0 448.1 670.5 448.0 671.0 448.1 671.5 447.2 672.0 447.2 672.5 448.0 673.0 447.8 673.4 447.4 673.9 447.4 674.4 446.7 674.9 446.1 675.4 446.9 675.9 446.5 676.4 447.6 676.9 447.6 677.4 447.1 677.9 447.5 678.4 448.3 678.8 448.4 679.3 448.0 679.8 448.4 680.3 448.1 680.8 447.8 681.3 448.5 681.8 448.6 682.3 448.2 682.8 448.6 683.3 448.6 683.7 448.0 684.2 448.2 684.7 448.4 685.2 448.6 685.7 448.1 686.2 448.6 686.7 448.1 687.2 448.2 687.7 448.6 688.2 448.2 688.6 448.5 689.1 448.6 689.6 448.0 690.1 448.5 690.6 447.8 691.1 447.9 691.6 448.3 692.1 448.5 692.6 448.4 693.1 448.4 693.5 448.0 694.0 448.3 694.5 448.2 695.0 447.6 695.5 447.6 696.0 448.2 696.5 447.6 697.0 448.2 697.5 447.6 698.0 447.9 698.4 448.1 698.9 448.2 699.4 448.2 699.9 448.0 700.4 447.3 700.9 448.1 701.4 447.4 701.9 448.0 702.4 448.4 702.9 448.5 703.3 448.6 703.8 448.2 704.3 448.7 704.8 448.7 705.3 448.3 705.8 448.8 706.3 448.4 706.8 448.9 707.3 449.0 707.8 448.9 708.2 449.0 708.7 448.6 709.2 448.9 709.7 448.9 710.2 448.9 710.7 448.7 711.2 448.8 711.7 449.0 712.2 449.0 712.7 449.0 713.2 449.0 713.6 449.0 714.1 449.1 714.6 448.7 715.1 449.1 715.6 449.0 716.1 449.0 716.6 448.7 717.1 449.1 717.6 449.1 718.1 448.6 718.5 448.8 719.0 449.0 719.5 449.1 720.0 449.1 720.5 449.1 721.0 448.7 721.5 449.1 722.0 449.1 722.5 448.8 723.0 449.2 723.4 449.1 723.9 449.1 724.4 449.0 724.9 449.0 725.4 449.1 725.9 449.2 726.4 449.2 726.9 448.9 727.4 449.2 727.9 449.0 728.3 449.1 728.8 449.1 729.3 449.2 729.8 449.1 730.3 448.8 730.8 448.9 731.3 448.8 731.8 448.9 732.3 448.9 732.8 448.9 733.2 449.0 733.7 448.9 734.2 448.9 734.7 449.0 735.2 448.9 735.7 449.0 736.2 448.9 736.7 449.0 737.2 449.0 737.7 448.9 738.1 448.9 738.6 449.0 739.1 449.0 739.6 449.0 740.1 449.0 740.6 448.9 741.1 449.1 741.6 449.0 742.1 449.0 742.6 449.0 743.1 449.0 743.5 449.1 744.0 449.1 744.5 449.0 745.0 449.0 745.5 449.0 746.0 449.0 746.5 449.0 747.0 449.1 747.5 449.0 748.0 449.0 748.4 449.1 748.9 449.1 749.4 449.0 749.9 449.1 750.4 449.0 750.9 449.0 751.4 449.1 751.9 449.0 752.4 449.0 752.9 449.1 753.3 449.0 753.8 449.1 754.3 449.1 754.8 449.1 755.3 449.1 755.8 449.1 756.3 449.1 756.8 449.1 757.3 449.1 757.8 449.1 758.2 449.2 758.7 449.1 759.2 449.1 759.7 449.1 760.2 449.1 760.7 449.1 761.2 449.2 761.7 449.2 762.2 449.1 762.7 449.1 763.1 449.2 763.6 449.2 764.1 449.2 764.6 449.2 765.1 449.1 765.6 449.1 766.1 449.1 766.6 449.2 767.1 449.1 767.6 449.2 768.0 449.1 768.5 449.2 769.0 449.2 769.5 449.2 770.0 449.2 770.5 449.2 771.0 449.2 771.5 449.2 772.0 449.2 772.5 449.2 772.9 449.2 773.4 449.2 773.9 449.2 774.4 449.2 774.9 449.2 775.4 449.1 775.9 449.3 776.4 449.3 776.9 449.2 777.4 449.2 777.9 449.2 778.3 449.2 778.8 449.2 779.3 449.2 779.8 449.2 780.3 449.2 780.8 449.2 781.3 449.2 781.8 449.3 782.3 449.3 782.8 449.2 783.2 449.2 783.7 449.3 784.2 449.2 784.7 449.3 785.2 449.3 785.7 449.2 786.2 449.3 786.7 449.3 787.2 449.2 787.7 449.2 788.1 449.3 788.6 449.2 789.1 449.3 789.6 449.2 790.1 449.3 790.6 449.3 791.1 449.3 791.6 449.3 795.5 449.3 799.4 449.3 803.3 449.3 807.3 449.3 811.2 449.3 815.1 449.3 819.0 449.3 822.9 449.3 826.9 449.3 830.8 449.3 834.7 449.3 838.6 449.3 842.6 449.3 846.5 449.3 850.4 449.3 854.3 449.3 858.2 449.3 862.2 449.3 866.1 449.3 869.7 449.3 869.7 450.3 866.1 450.3 862.2 450.3 858.2 450.3 854.3 450.3 850.4 450.3 846.5 450.3 842.6 450.3 838.6 450.3 834.7 450.3 830.8 450.3 826.9 450.3 822.9 450.3 819.0 450.3 815.1 450.3 811.2 450.3 807.3 450.3 803.3 450.3 799.4 450.3 795.5 450.3 791.6 450.3 791.1 450.3 790.6 450.3 790.1 450.3 789.6 450.3 789.1 450.3 788.6 450.3 788.1 450.3 787.7 450.3 787.2 450.3 786.7 450.3 786.2 450.3 785.7 450.3 785.2 450.4 784.7 450.4 784.2 450.4 783.7 450.3 783.2 450.3 782.8 450.4 782.3 450.4 781.8 450.3 781.3 450.3 780.8 450.4 780.3 450.3 779.8 450.4 779.3 450.4 778.8 450.4 778.3 450.4 777.9 450.4 777.4 450.4 776.9 450.4 776.4 450.4 775.9 450.4 775.4 450.4 774.9 450.3 774.4 450.3 773.9 450.4 773.4 450.4 772.9 450.4 772.5 450.4 772.0 450.4 771.5 450.5 771.0 450.4 770.5 450.4 770.0 450.4 769.5 450.4 769.0 450.4 768.5 450.4 768.0 450.4 767.6 450.4 767.1 450.5 766.6 450.4 766.1 450.5 765.6 450.4 765.1 450.4 764.6 450.5 764.1 450.4 763.6 450.5 763.1 450.5 762.7 450.4 762.2 450.5 761.7 450.5 761.2 450.4 760.7 450.5 760.2 450.4 759.7 450.5 759.2 450.5 758.7 450.5 758.2 450.5 757.8 450.5 757.3 450.4 756.8 450.5 756.3 450.5 755.8 450.5 755.3 450.5 754.8 450.5 754.3 450.5 753.8 450.5 753.3 450.5 752.9 450.6 752.4 450.5 751.9 450.5 751.4 450.5 750.9 450.5 750.4 450.6 749.9 450.6 749.4 450.5 748.9 450.6 748.4 450.6 748.0 450.6 747.5 450.6 747.0 450.6 746.5 450.6 746.0 450.5 745.5 450.5 745.0 450.6 744.5 450.6 744.0 450.6 743.5 450.6 743.1 450.6 742.6 450.5 742.1 450.6 741.6 450.6 741.1 450.6 740.6 450.6 740.1 450.6 739.6 450.6 739.1 450.6 738.6 450.6 738.1 450.6 737.7 450.7 737.2 450.7 736.7 450.7 736.2 450.6 735.7 450.7 735.2 450.6 734.7 450.6 734.2 450.6 733.7 450.6 733.2 450.6 732.8 450.7 732.3 450.7 731.8 450.7 731.3 450.7 730.8 450.7 730.3 450.4 729.8 450.6 729.3 450.4 728.8 450.4 728.3 450.8 727.9 450.7 727.4 450.4 726.9 450.4 726.4 450.5 725.9 450.8 725.4 450.6 724.9 450.5 724.4 450.8 723.9 450.6 723.4 450.5 723.0 450.8 722.5 450.5 722.0 450.5 721.5 450.5 721.0 450.8 720.5 450.5 720.0 450.5 719.5 450.8 719.0 450.9 718.5 450.5 718.1 450.9 717.6 450.6 717.1 450.5 716.6 450.5 716.1 450.7 715.6 451.0 715.1 450.7 714.6 450.6 714.1 450.6 713.6 451.1 713.2 450.6 712.7 450.6 712.2 450.6 711.7 450.8 711.2 450.6 710.7 450.7 710.2 450.6 709.7 450.7 709.2 451.1 708.7 450.7 708.2 450.7 707.8 450.7 707.3 451.1 706.8 450.7 706.3 450.7 705.8 451.0 705.3 451.3 704.8 450.7 704.3 450.7 703.8 450.9 703.3 450.7 702.9 450.8 702.4 451.3 701.9 451.0 701.4 450.9 700.9 451.5 700.4 451.4 699.9 450.8 699.4 451.0 698.9 451.2 698.4 450.9 698.0 450.9 697.5 450.8 697.0 451.4 696.5 450.9 696.0 450.9 695.5 451.5 695.0 450.8 694.5 451.5 694.0 450.9 693.5 450.9 693.1 451.1 692.6 450.9 692.1 450.8 691.6 450.8 691.1 450.8 690.6 451.4 690.1 451.0 689.6 450.8 689.1 450.8 688.6 451.2 688.2 450.8 687.7 450.8 687.2 450.9 686.7 450.9 686.2 451.3 685.7 451.0 685.2 451.0 684.7 450.9 684.2 451.1 683.7 451.5 683.3 451.0 682.8 451.0 682.3 451.1 681.8 451.1 681.3 451.0 680.8 451.9 680.3 451.5 679.8 451.4 679.3 451.6 678.8 451.2 678.4 451.3 677.9 451.9 677.4 451.4 676.9 451.6 676.4 451.2 675.9 451.2 675.4 451.2 674.9 451.9 674.4 451.2 673.9 451.3 673.4 451.7 673.0 451.3 672.5 451.3 672.0 452.0 671.5 452.3 671.0 451.4 670.5 451.5 670.0 451.9 669.5 452.3 669.0 451.5 668.5 451.8 668.1 452.1 667.6 451.7 667.1 451.9 666.6 452.9 666.1 452.9 665.6 451.8 665.1 452.4 664.6 451.9 664.1 451.8 663.6 451.6 663.2 452.4 662.7 452.2 662.2 451.9 661.7 451.8 661.2 452.7 660.7 451.9 660.2 451.9 659.7 451.8 659.2 452.9 658.7 451.9 658.3 452.1 657.8 452.1 657.3 452.1 656.8 452.8 656.3 452.1 655.8 452.3 655.3 452.2 654.8 452.4 654.3 453.5 653.8 452.3 653.4 452.4 652.9 453.1 652.4 453.6 651.9 452.3 651.4 452.3 650.9 453.1 650.4 453.2 649.9 452.1 649.4 453.3 648.9 452.2 648.5 452.3 648.0 452.7 647.5 452.2 647.0 452.3 646.5 452.6 646.0 453.4 645.5 452.5 645.0 452.4 644.5 453.1 644.0 452.6 643.5 452.0 643.1 452.1 642.6 453.0 642.1 451.8 641.6 453.2 641.1 453.1 640.6 453.3 640.1 454.5 639.6 452.9 639.1 453.3 638.6 453.5 638.2 452.5 637.7 452.6 637.2 454.2 636.7 453.5 636.2 453.3 635.7 455.1 635.2 454.7 634.7 454.4 634.2 454.6 633.7 453.2 633.3 452.8 632.8 453.5 632.3 452.9 631.8 453.3 631.3 452.3 630.8 452.6 630.3 452.9 629.8 452.4 629.3 452.7 628.8 453.5 628.4 452.4 627.9 452.6 627.4 452.6 626.9 454.2 626.4 453.2 625.9 454.1 625.4 455.2 624.9 455.3 624.4 454.2 623.9 454.3 623.5 455.2 623.0 456.4 622.5 455.0 622.0 454.9 621.5 455.4 621.0 457.7 620.5 455.8 620.0 456.2 619.5 457.8 619.0 456.6 618.6 459.6 618.1 456.3 617.6 458.0 617.1 462.2 616.6 463.6 616.1 462.0 615.6 457.7 615.1 458.6 614.6 455.7 614.1 457.2 613.7 455.7 613.2 455.6 612.7 455.5 612.2 457.9 611.7 455.6 611.2 455.8 610.7 455.8 610.2 456.8 609.7 458.0 609.2 458.6 608.7 458.6 608.3 457.2 607.8 457.4 607.3 460.6 606.8 459.4 606.3 457.7 605.8 457.9 605.3 461.4 604.8 458.1 604.3 458.4 603.8 461.8 603.4 463.5 602.9 460.0 602.4 464.6 601.9 464.0 601.4 468.5 600.9 464.2 600.4 470.5 599.9 465.8 599.4 471.4 598.9 466.5 598.5 466.4 598.0 466.6 597.5 471.0 597.0 469.4 596.5 469.4 596.0 462.7 595.5 466.4 595.0 461.7 594.5 461.3 594.0 462.5 593.6 457.4 593.1 457.4 592.6 455.5 592.1 453.3 591.6 454.0 591.1 452.4 590.6 453.4 590.1 452.4 589.6 453.5 589.1 452.9 588.7 452.7 588.2 452.4 587.7 452.5 587.2 453.4 586.7 453.9 586.2 452.8 585.7 454.2 585.2 452.9 584.7 453.0 584.2 453.7 583.8 454.4 583.3 453.0 582.8 452.8 582.3 452.7 581.8 454.1 581.3 452.7 580.8 453.9 580.3 452.9 579.8 452.9 579.3 454.4 578.8 454.5 578.4 453.0 577.9 453.8 577.4 453.0 576.9 453.2 576.4 453.7 575.9 454.4 575.4 452.9 574.9 453.6 574.4 452.4 573.9 452.6 573.5 451.5 573.0 450.7 572.5 450.5 572.0 450.4 571.5 450.3 570.0 450.3 566.1 450.3 562.2 450.3 558.3 450.3 554.3 450.3 550.4 450.3 546.5 450.3Z" fill="#000" stroke="#000" stroke-width="1" stroke-linejoin="round"/><rect x="597.20" y="420.30" width="2.60" height="29.70" fill="#000"/></g><line x1="546.50" y1="472.50" x2="546.50" y2="477.70" stroke="#000" stroke-width="1.1"/><text class="s" x="543.62" y="489.80" font-size="11.28" textLength="5.71" lengthAdjust="spacingAndGlyphs">0</text><line x1="595.50" y1="472.50" x2="595.50" y2="477.70" stroke="#000" stroke-width="1.1"/><text class="s" x="589.20" y="489.80" font-size="11.28" textLength="12.65" lengthAdjust="spacingAndGlyphs">50</text><line x1="644.50" y1="472.50" x2="644.50" y2="477.70" stroke="#000" stroke-width="1.1"/><text class="s" x="634.67" y="489.80" font-size="11.28" textLength="19.74" lengthAdjust="spacingAndGlyphs">100</text><line x1="693.50" y1="472.50" x2="693.50" y2="477.70" stroke="#000" stroke-width="1.1"/><text class="s" x="683.67" y="489.80" font-size="11.28" textLength="19.74" lengthAdjust="spacingAndGlyphs">150</text><line x1="742.50" y1="472.50" x2="742.50" y2="477.70" stroke="#000" stroke-width="1.1"/><text class="s" x="732.58" y="489.80" font-size="11.28" textLength="19.83" lengthAdjust="spacingAndGlyphs">200</text><line x1="791.50" y1="472.50" x2="791.50" y2="477.70" stroke="#000" stroke-width="1.1"/><text class="s" x="781.58" y="489.80" font-size="11.28" textLength="19.83" lengthAdjust="spacingAndGlyphs">250</text><line x1="840.50" y1="472.50" x2="840.50" y2="477.70" stroke="#000" stroke-width="1.1"/><text class="s" x="830.70" y="489.80" font-size="11.28" textLength="19.71" lengthAdjust="spacingAndGlyphs">300</text><line x1="541.30" y1="422.50" x2="546.50" y2="422.50" stroke="#000" stroke-width="1.1"/><text class="s" x="493.87" y="425.55" font-size="11.28" textLength="40.77" lengthAdjust="spacingAndGlyphs">1.0e-03</text><line x1="541.30" y1="450.50" x2="546.50" y2="450.50" stroke="#000" stroke-width="1.1"/><text class="s" x="488.54" y="453.75" font-size="11.28" textLength="46.21" lengthAdjust="spacingAndGlyphs">0.0e+00</text><rect x="546.50" y="420.50" width="323.00" height="52.00" fill="none" stroke="#000" stroke-width="1.2"/>
<line x1="1015.50" y1="420.50" x2="1015.50" y2="472.50" stroke="#b0b0b0" stroke-width="1.1"/><line x1="1064.50" y1="420.50" x2="1064.50" y2="472.50" stroke="#b0b0b0" stroke-width="1.1"/><line x1="1113.50" y1="420.50" x2="1113.50" y2="472.50" stroke="#b0b0b0" stroke-width="1.1"/><line x1="1162.50" y1="420.50" x2="1162.50" y2="472.50" stroke="#b0b0b0" stroke-width="1.1"/><line x1="1211.50" y1="420.50" x2="1211.50" y2="472.50" stroke="#b0b0b0" stroke-width="1.1"/><line x1="1260.50" y1="420.50" x2="1260.50" y2="472.50" stroke="#b0b0b0" stroke-width="1.1"/><line x1="966.50" y1="444.50" x2="1288.50" y2="444.50" stroke="#b0b0b0" stroke-width="1.1"/><line x1="966.50" y1="471.50" x2="1288.50" y2="471.50" stroke="#b0b0b0" stroke-width="1.1"/><g clip-path="url(#c42)"><path d="M966.5 443.8 969.0 443.6 969.4 443.6 969.9 443.6 970.4 443.4 970.9 443.5 971.4 443.4 971.9 443.6 972.4 443.6 972.9 443.7 973.4 443.7 973.9 443.8 974.3 443.8 974.8 443.8 975.3 443.8 975.8 443.8 976.3 443.8 976.8 443.8 977.3 443.8 977.8 443.8 978.3 443.8 978.8 443.8 979.2 443.8 979.7 443.8 980.2 443.8 980.7 443.8 981.2 443.8 981.7 443.8 982.2 443.8 982.7 443.8 983.2 443.8 983.7 443.8 984.1 443.8 984.6 443.8 985.1 443.8 985.6 443.8 986.1 443.8 986.6 443.8 987.1 443.8 987.6 443.8 988.1 443.8 988.6 443.8 989.0 443.8 989.5 443.8 990.0 443.8 990.5 443.8 991.0 443.5 991.5 443.4 992.0 442.9 992.5 441.9 993.0 437.7 993.5 436.2 993.9 437.5 994.4 437.1 994.9 433.6 995.4 435.8 995.9 435.8 996.4 435.8 996.9 435.7 997.4 432.8 997.9 436.6 998.4 437.4 998.8 438.4 999.3 436.9 999.8 438.4 1000.3 439.8 1000.8 439.8 1001.3 438.3 1001.8 438.8 1002.3 440.1 1002.8 439.7 1003.3 438.7 1003.8 436.7 1004.2 438.6 1004.7 438.4 1005.2 438.6 1005.7 436.4 1006.2 438.7 1006.7 437.2 1007.2 439.5 1007.7 437.7 1008.2 440.0 1008.7 439.8 1009.1 440.2 1009.6 440.4 1010.1 440.3 1010.6 438.9 1011.1 440.2 1011.6 439.8 1012.1 437.1 1012.6 437.3 1013.1 431.2 1013.6 431.8 1014.0 423.5 1014.5 427.5 1015.0 420.6 1015.5 420.5 1016.0 426.8 1016.5 426.7 1017.0 427.3 1017.5 421.6 1018.0 420.3 1018.5 426.5 1018.9 421.4 1019.4 420.9 1019.9 420.3 1020.4 427.1 1020.9 421.3 1021.4 422.2 1021.9 425.9 1022.4 431.8 1022.9 431.8 1023.4 427.8 1023.8 431.5 1024.3 432.0 1024.8 431.2 1025.3 426.0 1025.8 428.3 1026.3 429.1 1026.8 431.9 1027.3 426.4 1027.8 427.3 1028.3 425.6 1028.7 428.2 1029.2 424.4 1029.7 431.0 1030.2 429.6 1030.7 435.5 1031.2 435.2 1031.7 434.1 1032.2 432.0 1032.7 435.5 1033.2 435.6 1033.7 432.0 1034.1 432.5 1034.6 435.7 1035.1 435.8 1035.6 435.3 1036.1 431.9 1036.6 435.9 1037.1 436.5 1037.6 435.9 1038.1 435.8 1038.6 439.0 1039.0 438.8 1039.5 438.4 1040.0 437.7 1040.5 439.4 1041.0 439.3 1041.5 436.6 1042.0 436.0 1042.5 438.1 1043.0 438.1 1043.5 437.8 1043.9 435.0 1044.4 437.1 1044.9 437.2 1045.4 435.0 1045.9 437.4 1046.4 434.4 1046.9 437.7 1047.4 435.6 1047.9 438.3 1048.4 438.1 1048.8 437.8 1049.3 438.8 1049.8 440.1 1050.3 440.3 1050.8 439.7 1051.3 440.5 1051.8 439.3 1052.3 440.8 1052.8 440.3 1053.3 441.1 1053.7 441.2 1054.2 440.1 1054.7 440.1 1055.2 441.5 1055.7 441.1 1056.2 440.4 1056.7 441.0 1057.2 439.5 1057.7 440.6 1058.2 440.8 1058.6 441.1 1059.1 440.2 1059.6 440.3 1060.1 441.6 1060.6 441.5 1061.1 440.9 1061.6 441.5 1062.1 441.5 1062.6 440.6 1063.1 441.0 1063.5 441.6 1064.0 441.6 1064.5 440.7 1065.0 441.8 1065.5 441.8 1066.0 441.8 1066.5 440.9 1067.0 441.2 1067.5 441.7 1068.0 440.1 1068.5 440.3 1068.9 441.5 1069.4 441.7 1069.9 441.7 1070.4 441.1 1070.9 441.5 1071.4 440.4 1071.9 441.7 1072.4 440.9 1072.9 441.8 1073.4 441.9 1073.8 440.9 1074.3 442.0 1074.8 442.0 1075.3 442.1 1075.8 442.2 1076.3 441.1 1076.8 442.1 1077.3 442.0 1077.8 442.0 1078.3 441.2 1078.7 441.8 1079.2 441.6 1079.7 440.9 1080.2 440.6 1080.7 441.6 1081.2 441.5 1081.7 441.4 1082.2 441.8 1082.7 441.9 1083.2 441.8 1083.6 441.2 1084.1 441.1 1084.6 442.0 1085.1 442.1 1085.6 442.1 1086.1 441.4 1086.6 442.3 1087.1 442.4 1087.6 441.6 1088.1 442.5 1088.5 442.5 1089.0 441.6 1089.5 442.4 1090.0 442.5 1090.5 441.9 1091.0 442.6 1091.5 442.1 1092.0 442.5 1092.5 442.6 1093.0 442.6 1093.4 442.5 1093.9 441.8 1094.4 442.5 1094.9 442.5 1095.4 442.5 1095.9 442.2 1096.4 441.9 1096.9 442.5 1097.4 442.4 1097.9 442.6 1098.4 442.4 1098.8 442.1 1099.3 442.5 1099.8 441.7 1100.3 442.5 1100.8 442.3 1101.3 442.6 1101.8 442.6 1102.3 442.6 1102.8 442.6 1103.3 441.6 1103.7 442.3 1104.2 442.5 1104.7 441.8 1105.2 442.6 1105.7 441.6 1106.2 442.6 1106.7 442.2 1107.2 442.6 1107.7 442.7 1108.2 442.7 1108.6 442.3 1109.1 442.7 1109.6 442.6 1110.1 442.7 1110.6 442.1 1111.1 442.8 1111.6 442.1 1112.1 442.9 1112.6 442.5 1113.1 442.8 1113.5 442.7 1114.0 442.3 1114.5 442.5 1115.0 442.8 1115.5 442.8 1116.0 442.5 1116.5 442.0 1117.0 442.7 1117.5 442.8 1118.0 442.6 1118.4 442.3 1118.9 442.7 1119.4 442.7 1119.9 442.8 1120.4 442.8 1120.9 442.4 1121.4 441.9 1121.9 442.6 1122.4 442.3 1122.9 442.8 1123.3 442.8 1123.8 442.7 1124.3 442.6 1124.8 442.7 1125.3 442.7 1125.8 442.1 1126.3 442.8 1126.8 442.5 1127.3 442.8 1127.8 442.8 1128.2 442.1 1128.7 442.8 1129.2 442.1 1129.7 442.6 1130.2 442.9 1130.7 442.3 1131.2 442.9 1131.7 442.8 1132.2 443.0 1132.7 443.0 1133.2 443.0 1133.6 443.0 1134.1 442.5 1134.6 443.0 1135.1 443.1 1135.6 443.2 1136.1 442.8 1136.6 443.1 1137.1 443.1 1137.6 443.1 1138.1 442.7 1138.5 443.2 1139.0 443.3 1139.5 442.6 1140.0 443.3 1140.5 443.3 1141.0 443.3 1141.5 442.8 1142.0 443.1 1142.5 443.3 1143.0 443.3 1143.4 443.0 1143.9 443.3 1144.4 443.4 1144.9 442.7 1145.4 443.3 1145.9 442.9 1146.4 443.3 1146.9 442.9 1147.4 443.2 1147.9 443.3 1148.3 443.1 1148.8 443.3 1149.3 443.0 1149.8 443.4 1150.3 443.4 1150.8 443.4 1151.3 443.1 1151.8 443.5 1152.3 443.5 1152.8 442.9 1153.2 443.5 1153.7 443.5 1154.2 443.2 1154.7 443.6 1155.2 443.2 1155.7 443.5 1156.2 443.2 1156.7 443.4 1157.2 443.5 1157.7 443.2 1158.1 443.5 1158.6 443.5 1159.1 443.6 1159.6 443.4 1160.1 443.1 1160.6 443.6 1161.1 443.6 1161.6 443.1 1162.1 443.6 1162.6 443.6 1163.1 443.2 1163.5 443.6 1164.0 443.6 1164.5 443.6 1165.0 443.5 1165.5 443.6 1166.0 443.6 1166.5 443.6 1167.0 443.7 1167.5 443.7 1168.0 443.6 1168.4 443.6 1168.9 443.6 1169.4 443.4 1169.9 443.4 1170.4 443.4 1170.9 443.4 1171.4 443.5 1171.9 443.5 1172.4 443.4 1172.9 443.5 1173.3 443.5 1173.8 443.4 1174.3 443.4 1174.8 443.5 1175.3 443.5 1175.8 443.5 1176.3 443.5 1176.8 443.5 1177.3 443.5 1177.8 443.5 1178.2 443.6 1178.7 443.6 1179.2 443.5 1179.7 443.6 1180.2 443.6 1180.7 443.6 1181.2 443.6 1181.7 443.6 1182.2 443.6 1182.7 443.6 1183.1 443.6 1183.6 443.6 1184.1 443.6 1184.6 443.6 1185.1 443.6 1185.6 443.6 1186.1 443.6 1186.6 443.5 1187.1 443.5 1187.6 443.6 1188.0 443.6 1188.5 443.6 1189.0 443.6 1189.5 443.6 1190.0 443.6 1190.5 443.6 1191.0 443.6 1191.5 443.6 1192.0 443.6 1192.5 443.7 1192.9 443.6 1193.4 443.7 1193.9 443.6 1194.4 443.7 1194.9 443.7 1195.4 443.7 1195.9 443.7 1196.4 443.7 1196.9 443.7 1197.4 443.7 1197.9 443.7 1198.3 443.7 1198.8 443.7 1199.3 443.7 1199.8 443.7 1200.3 443.7 1200.8 443.7 1201.3 443.8 1201.8 443.7 1202.3 443.7 1202.8 443.7 1203.2 443.8 1203.7 443.7 1204.2 443.7 1204.7 443.8 1205.2 443.8 1205.7 443.7 1206.2 443.8 1206.7 443.8 1207.2 443.8 1207.7 443.7 1208.1 443.8 1208.6 443.7 1209.1 443.8 1209.6 443.8 1210.1 443.7 1210.6 443.8 1211.1 443.8 1211.6 443.8 1215.5 443.8 1219.4 443.8 1223.3 443.8 1227.3 443.8 1231.2 443.8 1235.1 443.8 1239.0 443.8 1242.9 443.8 1246.9 443.8 1250.8 443.8 1254.7 443.8 1258.6 443.8 1262.6 443.8 1266.5 443.8 1270.4 443.8 1274.3 443.8 1278.2 443.8 1282.2 443.8 1286.1 443.8 1289.7 443.8 1289.7 444.8 1286.1 444.8 1282.2 444.8 1278.2 444.8 1274.3 444.8 1270.4 444.8 1266.5 444.8 1262.6 444.8 1258.6 444.8 1254.7 444.8 1250.8 444.8 1246.9 444.8 1242.9 444.8 1239.0 444.8 1235.1 444.8 1231.2 444.8 1227.3 444.8 1223.3 444.8 1219.4 444.8 1215.5 444.8 1211.6 444.8 1211.1 444.8 1210.6 444.8 1210.1 444.8 1209.6 444.9 1209.1 444.8 1208.6 444.8 1208.1 444.9 1207.7 444.8 1207.2 444.8 1206.7 444.9 1206.2 444.8 1205.7 444.9 1205.2 444.9 1204.7 444.9 1204.2 444.9 1203.7 444.8 1203.2 444.9 1202.8 444.9 1202.3 444.9 1201.8 444.9 1201.3 444.9 1200.8 444.9 1200.3 445.0 1199.8 444.9 1199.3 444.9 1198.8 444.9 1198.3 444.9 1197.9 444.9 1197.4 444.9 1196.9 444.9 1196.4 444.9 1195.9 444.9 1195.4 445.0 1194.9 444.9 1194.4 444.9 1193.9 445.0 1193.4 444.9 1192.9 445.0 1192.5 444.9 1192.0 445.0 1191.5 444.9 1191.0 444.9 1190.5 445.0 1190.0 445.0 1189.5 445.0 1189.0 445.0 1188.5 445.0 1188.0 445.0 1187.6 445.0 1187.1 445.0 1186.6 445.0 1186.1 445.0 1185.6 445.1 1185.1 445.0 1184.6 445.1 1184.1 445.0 1183.6 445.1 1183.1 445.0 1182.7 445.0 1182.2 445.1 1181.7 445.1 1181.2 445.1 1180.7 445.1 1180.2 445.0 1179.7 445.0 1179.2 445.1 1178.7 445.1 1178.2 445.1 1177.8 445.1 1177.3 445.1 1176.8 445.0 1176.3 445.1 1175.8 445.1 1175.3 445.1 1174.8 445.1 1174.3 445.1 1173.8 445.1 1173.3 445.2 1172.9 445.1 1172.4 445.1 1171.9 445.2 1171.4 445.2 1170.9 445.2 1170.4 445.2 1169.9 445.2 1169.4 445.1 1168.9 444.9 1168.4 445.2 1168.0 444.9 1167.5 445.0 1167.0 445.0 1166.5 445.3 1166.0 444.9 1165.5 445.0 1165.0 445.0 1164.5 445.4 1164.0 445.0 1163.5 445.0 1163.1 445.3 1162.6 445.0 1162.1 445.3 1161.6 445.0 1161.1 445.0 1160.6 445.1 1160.1 445.2 1159.6 445.0 1159.1 445.0 1158.6 445.1 1158.1 445.4 1157.7 445.0 1157.2 445.1 1156.7 445.1 1156.2 445.5 1155.7 445.2 1155.2 445.1 1154.7 445.4 1154.2 445.1 1153.7 445.7 1153.2 445.1 1152.8 445.7 1152.3 445.1 1151.8 445.4 1151.3 445.5 1150.8 445.2 1150.3 445.2 1149.8 445.5 1149.3 445.2 1148.8 445.3 1148.3 445.3 1147.9 445.7 1147.4 445.2 1146.9 445.2 1146.4 445.2 1145.9 445.6 1145.4 445.3 1144.9 445.2 1144.4 445.2 1143.9 445.6 1143.4 445.3 1143.0 445.3 1142.5 445.8 1142.0 445.4 1141.5 445.3 1141.0 445.4 1140.5 445.7 1140.0 445.4 1139.5 445.4 1139.0 445.4 1138.5 445.4 1138.1 445.9 1137.6 445.3 1137.1 445.4 1136.6 445.8 1136.1 445.4 1135.6 445.7 1135.1 445.6 1134.6 445.4 1134.1 445.8 1133.6 445.6 1133.2 445.5 1132.7 445.9 1132.2 445.5 1131.7 445.5 1131.2 446.1 1130.7 445.9 1130.2 445.9 1129.7 446.1 1129.2 445.6 1128.7 445.7 1128.2 446.2 1127.8 445.6 1127.3 445.7 1126.8 445.6 1126.3 446.3 1125.8 445.6 1125.3 445.7 1124.8 445.6 1124.3 446.0 1123.8 445.9 1123.3 446.3 1122.9 445.7 1122.4 445.8 1121.9 446.5 1121.4 446.6 1120.9 445.8 1120.4 445.8 1119.9 446.2 1119.4 445.8 1118.9 445.9 1118.4 445.9 1118.0 445.8 1117.5 446.6 1117.0 446.0 1116.5 446.7 1116.0 445.9 1115.5 445.9 1115.0 446.0 1114.5 446.0 1114.0 446.1 1113.5 445.9 1113.1 445.8 1112.6 446.0 1112.1 445.8 1111.6 446.5 1111.1 446.1 1110.6 445.7 1110.1 446.0 1109.6 446.4 1109.1 445.7 1108.6 445.8 1108.2 445.8 1107.7 446.1 1107.2 445.7 1106.7 445.7 1106.2 445.8 1105.7 446.4 1105.2 446.6 1104.7 445.7 1104.2 446.3 1103.7 445.8 1103.3 445.8 1102.8 445.8 1102.3 445.9 1101.8 446.4 1101.3 445.9 1100.8 445.9 1100.3 445.8 1099.8 446.6 1099.3 446.6 1098.8 445.9 1098.4 446.0 1097.9 446.0 1097.4 446.3 1096.9 445.9 1096.4 445.9 1095.9 446.0 1095.4 446.4 1094.9 446.0 1094.4 446.1 1093.9 446.9 1093.4 446.1 1093.0 446.0 1092.5 446.1 1092.0 446.9 1091.5 446.2 1091.0 446.3 1090.5 446.4 1090.0 446.4 1089.5 446.8 1089.0 447.3 1088.5 447.6 1088.1 446.6 1087.6 446.5 1087.1 446.4 1086.6 447.1 1086.1 446.5 1085.6 446.6 1085.1 446.6 1084.6 447.7 1084.1 447.5 1083.6 446.6 1083.2 447.6 1082.7 446.5 1082.2 446.4 1081.7 446.3 1081.2 447.4 1080.7 446.3 1080.2 447.4 1079.7 446.4 1079.2 446.9 1078.7 447.0 1078.3 446.4 1077.8 446.5 1077.3 446.2 1076.8 447.1 1076.3 447.3 1075.8 446.4 1075.3 446.4 1074.8 447.4 1074.3 447.3 1073.8 446.6 1073.4 446.8 1072.9 446.8 1072.4 447.8 1071.9 446.7 1071.4 446.7 1070.9 446.8 1070.4 446.4 1069.9 447.1 1069.4 446.9 1068.9 446.4 1068.5 447.5 1068.0 446.7 1067.5 447.0 1067.0 446.5 1066.5 446.7 1066.0 447.0 1065.5 446.6 1065.0 447.3 1064.5 447.9 1064.0 446.7 1063.5 447.7 1063.1 446.8 1062.6 447.1 1062.1 447.4 1061.6 446.9 1061.1 446.8 1060.6 446.8 1060.1 446.8 1059.6 447.9 1059.1 446.8 1058.6 447.6 1058.2 446.7 1057.7 446.9 1057.2 447.8 1056.7 447.7 1056.2 446.9 1055.7 446.9 1055.2 447.3 1054.7 448.4 1054.2 448.0 1053.7 447.5 1053.3 447.3 1052.8 447.5 1052.3 449.0 1051.8 449.1 1051.3 447.6 1050.8 447.7 1050.3 448.6 1049.8 448.0 1049.3 447.8 1048.8 449.7 1048.4 448.2 1047.9 448.4 1047.4 451.6 1046.9 454.0 1046.4 455.2 1045.9 451.6 1045.4 452.3 1044.9 450.3 1044.4 450.5 1043.9 451.1 1043.5 449.0 1043.0 449.2 1042.5 450.1 1042.0 450.3 1041.5 448.7 1041.0 449.2 1040.5 449.2 1040.0 451.0 1039.5 449.5 1039.0 451.4 1038.6 450.0 1038.1 452.8 1037.6 450.3 1037.1 451.7 1036.6 453.5 1036.1 453.9 1035.6 452.1 1035.1 453.7 1034.6 453.5 1034.1 456.7 1033.7 453.4 1033.2 454.1 1032.7 455.6 1032.2 456.2 1031.7 453.2 1031.2 453.8 1030.7 456.1 1030.2 458.7 1029.7 455.1 1029.2 457.0 1028.7 456.7 1028.3 460.4 1027.8 461.5 1027.3 462.0 1026.8 456.3 1026.3 459.8 1025.8 459.0 1025.3 461.0 1024.8 456.7 1024.3 456.9 1023.8 457.5 1023.4 462.1 1022.9 457.8 1022.4 458.3 1021.9 466.0 1021.4 462.1 1020.9 471.5 1020.4 470.0 1019.9 470.0 1019.4 463.0 1018.9 461.2 1018.5 464.1 1018.0 465.1 1017.5 459.1 1017.0 459.1 1016.5 461.7 1016.0 464.4 1015.5 464.4 1015.0 458.3 1014.5 457.3 1014.0 461.0 1013.6 456.2 1013.1 456.4 1012.6 453.0 1012.1 452.2 1011.6 449.6 1011.1 448.8 1010.6 449.8 1010.1 448.4 1009.6 448.1 1009.1 448.5 1008.7 448.4 1008.2 449.6 1007.7 450.1 1007.2 448.8 1006.7 449.0 1006.2 450.8 1005.7 451.6 1005.2 450.5 1004.7 451.5 1004.2 449.6 1003.8 451.0 1003.3 448.7 1002.8 448.2 1002.3 448.8 1001.8 449.0 1001.3 447.9 1000.8 448.2 1000.3 448.7 999.8 450.2 999.3 451.1 998.8 449.4 998.4 449.7 997.9 450.0 997.4 452.1 996.9 450.3 996.4 450.1 995.9 450.2 995.4 450.7 994.9 452.5 994.4 449.6 993.9 449.4 993.5 449.2 993.0 449.6 992.5 446.2 992.0 445.6 991.5 445.1 991.0 445.0 990.5 444.8 990.0 444.8 989.5 444.8 989.0 444.8 988.6 444.8 988.1 444.8 987.6 444.8 987.1 444.8 986.6 444.8 986.1 444.8 985.6 444.8 985.1 444.8 984.6 444.8 984.1 444.8 983.7 444.8 983.2 444.8 982.7 444.8 982.2 444.8 981.7 444.8 981.2 444.8 980.7 444.8 980.2 444.8 979.7 444.8 979.2 444.8 978.8 444.8 978.3 444.8 977.8 444.8 977.3 444.8 976.8 444.8 976.3 444.8 975.8 444.8 975.3 444.8 974.8 444.8 974.3 444.9 973.9 444.9 973.4 444.9 972.9 444.9 972.4 445.1 971.9 445.0 971.4 445.1 970.9 445.3 970.4 445.1 969.9 445.0 969.4 445.0 969.0 444.9 966.5 444.8Z" fill="#000" stroke="#000" stroke-width="1" stroke-linejoin="round"/></g><line x1="966.50" y1="472.50" x2="966.50" y2="477.70" stroke="#000" stroke-width="1.1"/><text class="s" x="963.62" y="489.80" font-size="11.28" textLength="5.71" lengthAdjust="spacingAndGlyphs">0</text><line x1="1015.50" y1="472.50" x2="1015.50" y2="477.70" stroke="#000" stroke-width="1.1"/><text class="s" x="1009.20" y="489.80" font-size="11.28" textLength="12.65" lengthAdjust="spacingAndGlyphs">50</text><line x1="1064.50" y1="472.50" x2="1064.50" y2="477.70" stroke="#000" stroke-width="1.1"/><text class="s" x="1054.67" y="489.80" font-size="11.28" textLength="19.74" lengthAdjust="spacingAndGlyphs">100</text><line x1="1113.50" y1="472.50" x2="1113.50" y2="477.70" stroke="#000" stroke-width="1.1"/><text class="s" x="1103.67" y="489.80" font-size="11.28" textLength="19.74" lengthAdjust="spacingAndGlyphs">150</text><line x1="1162.50" y1="472.50" x2="1162.50" y2="477.70" stroke="#000" stroke-width="1.1"/><text class="s" x="1152.58" y="489.80" font-size="11.28" textLength="19.83" lengthAdjust="spacingAndGlyphs">200</text><line x1="1211.50" y1="472.50" x2="1211.50" y2="477.70" stroke="#000" stroke-width="1.1"/><text class="s" x="1201.58" y="489.80" font-size="11.28" textLength="19.83" lengthAdjust="spacingAndGlyphs">250</text><line x1="1260.50" y1="472.50" x2="1260.50" y2="477.70" stroke="#000" stroke-width="1.1"/><text class="s" x="1250.70" y="489.80" font-size="11.28" textLength="19.71" lengthAdjust="spacingAndGlyphs">300</text><line x1="961.30" y1="444.50" x2="966.50" y2="444.50" stroke="#000" stroke-width="1.1"/><text class="s" x="908.54" y="448.55" font-size="11.28" textLength="46.21" lengthAdjust="spacingAndGlyphs">0.0e+00</text><line x1="961.30" y1="471.50" x2="966.50" y2="471.50" stroke="#000" stroke-width="1.1"/><text class="s" x="909.61" y="475.55" font-size="11.28" textLength="45.15" lengthAdjust="spacingAndGlyphs">-5.0e-04</text><rect x="966.50" y="420.50" width="322.00" height="52.00" fill="none" stroke="#000" stroke-width="1.2"/>
<text class="b" x="31.36" y="115.10" font-size="15.74" textLength="21.51" lengthAdjust="spacingAndGlyphs" transform="rotate(-90 42.00 115.10)">RO</text>
<text class="b" x="29.53" y="115.10" font-size="15.74" textLength="57.40" lengthAdjust="spacingAndGlyphs" transform="rotate(-90 58.20 115.10)">BZS HH</text>
<text class="b" x="32.39" y="198.10" font-size="15.74" textLength="18.46" lengthAdjust="spacingAndGlyphs" transform="rotate(-90 42.00 198.10)">Y8</text>
<text class="b" x="18.56" y="198.10" font-size="15.74" textLength="79.38" lengthAdjust="spacingAndGlyphs" transform="rotate(-90 58.20 198.10)">RO20A HH</text>
<text class="b" x="31.36" y="281.10" font-size="15.74" textLength="21.51" lengthAdjust="spacingAndGlyphs" transform="rotate(-90 42.00 281.10)">RO</text>
<text class="b" x="28.93" y="281.10" font-size="15.74" textLength="58.62" lengthAdjust="spacingAndGlyphs" transform="rotate(-90 58.20 281.10)">DEV HH</text>
<text class="b" x="31.36" y="364.10" font-size="15.74" textLength="21.51" lengthAdjust="spacingAndGlyphs" transform="rotate(-90 42.00 364.10)">RO</text>
<text class="b" x="23.71" y="364.10" font-size="15.74" textLength="69.07" lengthAdjust="spacingAndGlyphs" transform="rotate(-90 58.20 364.10)">HERR HH</text>
<text class="b" x="31.36" y="448.10" font-size="15.74" textLength="21.51" lengthAdjust="spacingAndGlyphs" transform="rotate(-90 42.00 448.10)">RO</text>
<text class="b" x="32.32" y="448.10" font-size="15.74" textLength="51.55" lengthAdjust="spacingAndGlyphs" transform="rotate(-90 58.20 448.10)">CJR BH</text>
<text class="s" x="277.68" y="508.00" font-size="12.36" textLength="18.92" lengthAdjust="spacingAndGlyphs">sec</text>
<text class="s" x="697.68" y="508.00" font-size="12.36" textLength="18.92" lengthAdjust="spacingAndGlyphs">sec</text>
<text class="s" x="1117.18" y="508.00" font-size="12.36" textLength="18.92" lengthAdjust="spacingAndGlyphs">sec</text>
</svg>
</body></html>
